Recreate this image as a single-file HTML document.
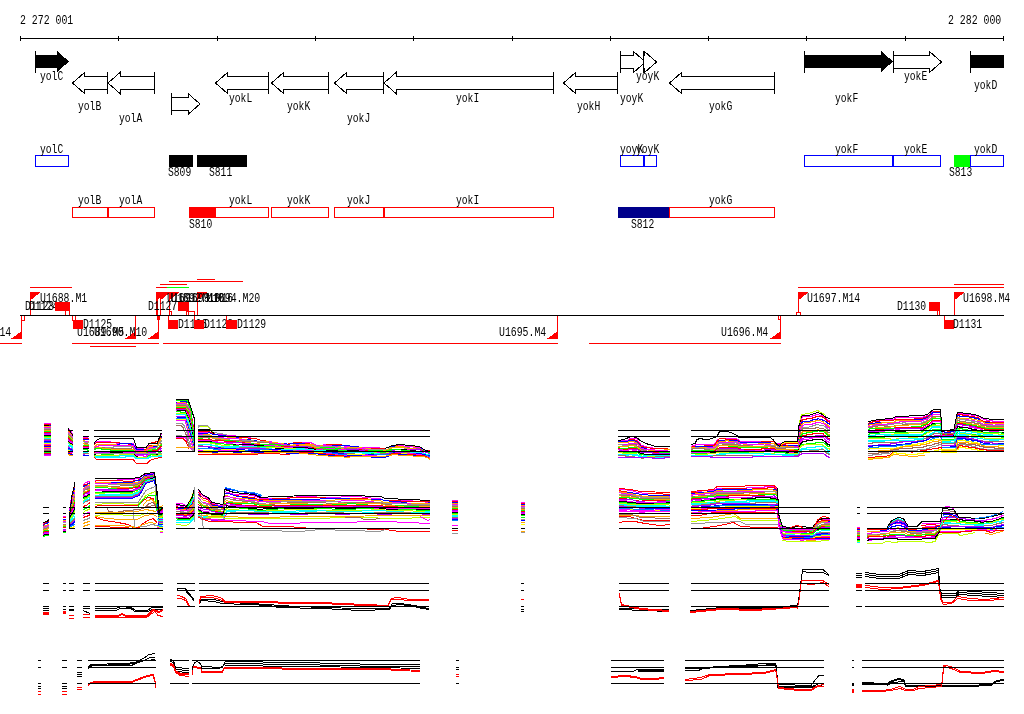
<!DOCTYPE html>
<html><head><meta charset="utf-8"><title>genome view</title>
<style>html,body{margin:0;padding:0;background:#fff;}svg{display:block;will-change:transform;}text{font-family:"Liberation Mono",monospace;font-size:12px;fill:#000;}</style></head><body>
<svg width="1024" height="714" viewBox="0 0 1024 714" shape-rendering="crispEdges">
<rect x="0" y="0" width="1024" height="714" fill="#fff"/>
<text x="20" y="24" textLength="53.2" lengthAdjust="spacingAndGlyphs">2 272 001</text>
<text x="948" y="24" textLength="53.2" lengthAdjust="spacingAndGlyphs">2 282 000</text>
<rect x="20" y="38" width="984" height="1" fill="#000"/>
<rect x="20" y="36" width="1" height="5" fill="#000"/>
<rect x="118" y="36" width="1" height="5" fill="#000"/>
<rect x="217" y="36" width="1" height="5" fill="#000"/>
<rect x="315" y="36" width="1" height="5" fill="#000"/>
<rect x="413" y="36" width="1" height="5" fill="#000"/>
<rect x="512" y="36" width="1" height="5" fill="#000"/>
<rect x="610" y="36" width="1" height="5" fill="#000"/>
<rect x="708" y="36" width="1" height="5" fill="#000"/>
<rect x="806" y="36" width="1" height="5" fill="#000"/>
<rect x="905" y="36" width="1" height="5" fill="#000"/>
<rect x="1003" y="36" width="1" height="5" fill="#000"/>
<polygon points="35,55 57,55 57,51 69,61.5 57,72 57,68 35,68" fill="#000"/>
<rect x="35" y="51" width="1" height="22" fill="#000"/>
<polygon points="107.5,76.5 84.5,76.5 84.5,72.5 72.5,83 84.5,93.5 84.5,89.5 107.5,89.5" fill="#fff" stroke="#000" stroke-width="1"/>
<rect x="107" y="72" width="1" height="22" fill="#000"/>
<polygon points="154.5,76.5 120,76.5 120,72.5 108,83 120,93.5 120,89.5 154.5,89.5" fill="#fff" stroke="#000" stroke-width="1"/>
<rect x="154" y="72" width="1" height="22" fill="#000"/>
<polygon points="171.5,97.5 188,97.5 188,93.5 200,104 188,114.5 188,110.5 171.5,110.5" fill="#fff" stroke="#000" stroke-width="1"/>
<rect x="171" y="93" width="1" height="22" fill="#000"/>
<polygon points="268.5,76.5 227.5,76.5 227.5,72.5 215.5,83 227.5,93.5 227.5,89.5 268.5,89.5" fill="#fff" stroke="#000" stroke-width="1"/>
<rect x="268" y="72" width="1" height="22" fill="#000"/>
<polygon points="328.5,76.5 283.5,76.5 283.5,72.5 271.5,83 283.5,93.5 283.5,89.5 328.5,89.5" fill="#fff" stroke="#000" stroke-width="1"/>
<rect x="328" y="72" width="1" height="22" fill="#000"/>
<polygon points="383.5,76.5 346.5,76.5 346.5,72.5 334.5,83 346.5,93.5 346.5,89.5 383.5,89.5" fill="#fff" stroke="#000" stroke-width="1"/>
<rect x="383" y="72" width="1" height="22" fill="#000"/>
<polygon points="553.5,76.5 396,76.5 396,72.5 384,83 396,93.5 396,89.5 553.5,89.5" fill="#fff" stroke="#000" stroke-width="1"/>
<rect x="553" y="72" width="1" height="22" fill="#000"/>
<polygon points="617.5,76.5 575.5,76.5 575.5,72.5 563.5,83 575.5,93.5 575.5,89.5 617.5,89.5" fill="#fff" stroke="#000" stroke-width="1"/>
<rect x="617" y="72" width="1" height="22" fill="#000"/>
<polygon points="620.5,55.5 633.5,55.5 633.5,51.5 645.5,62 633.5,72.5 633.5,68.5 620.5,68.5" fill="#fff" stroke="#000" stroke-width="1"/>
<rect x="620" y="51" width="1" height="22" fill="#000"/>
<polygon points="643.5,55.5 644.5,55.5 644.5,51.5 656.5,62 644.5,72.5 644.5,68.5 643.5,68.5" fill="#fff" stroke="#000" stroke-width="1"/>
<rect x="643" y="51" width="1" height="22" fill="#000"/>
<polygon points="774.5,76.5 681.5,76.5 681.5,72.5 669.5,83 681.5,93.5 681.5,89.5 774.5,89.5" fill="#fff" stroke="#000" stroke-width="1"/>
<rect x="774" y="72" width="1" height="22" fill="#000"/>
<polygon points="804,55 881,55 881,51 893,61.5 881,72 881,68 804,68" fill="#000"/>
<rect x="804" y="51" width="1" height="22" fill="#000"/>
<polygon points="893.5,55.5 929.5,55.5 929.5,51.5 941.5,62 929.5,72.5 929.5,68.5 893.5,68.5" fill="#fff" stroke="#000" stroke-width="1"/>
<rect x="893" y="51" width="1" height="22" fill="#000"/>
<rect x="970" y="51" width="1" height="22" fill="#000"/>
<rect x="970" y="55" width="34" height="13" fill="#000"/>
<text x="40" y="80" textLength="23.2" lengthAdjust="spacingAndGlyphs">yolC</text>
<text x="78" y="110" textLength="23.2" lengthAdjust="spacingAndGlyphs">yolB</text>
<text x="119" y="122" textLength="23.2" lengthAdjust="spacingAndGlyphs">yolA</text>
<text x="229" y="102" textLength="23.2" lengthAdjust="spacingAndGlyphs">yokL</text>
<text x="287" y="110" textLength="23.2" lengthAdjust="spacingAndGlyphs">yokK</text>
<text x="347" y="122" textLength="23.2" lengthAdjust="spacingAndGlyphs">yokJ</text>
<text x="456" y="102" textLength="23.2" lengthAdjust="spacingAndGlyphs">yokI</text>
<text x="577" y="110" textLength="23.2" lengthAdjust="spacingAndGlyphs">yokH</text>
<text x="636" y="80" textLength="23.2" lengthAdjust="spacingAndGlyphs">yoyK</text>
<text x="620" y="102" textLength="23.2" lengthAdjust="spacingAndGlyphs">yoyK</text>
<text x="709" y="110" textLength="23.2" lengthAdjust="spacingAndGlyphs">yokG</text>
<text x="835" y="102" textLength="23.2" lengthAdjust="spacingAndGlyphs">yokF</text>
<text x="904" y="80" textLength="23.2" lengthAdjust="spacingAndGlyphs">yokE</text>
<text x="974" y="89" textLength="23.2" lengthAdjust="spacingAndGlyphs">yokD</text>
<rect x="35.5" y="155.5" width="33" height="11" fill="#fff" stroke="#0000ff" stroke-width="1"/>
<rect x="620.5" y="155.5" width="23" height="11" fill="#fff" stroke="#0000ff" stroke-width="1"/>
<rect x="644.5" y="155.5" width="12" height="11" fill="#fff" stroke="#0000ff" stroke-width="1"/>
<rect x="804.5" y="155.5" width="88" height="11" fill="#fff" stroke="#0000ff" stroke-width="1"/>
<rect x="893.5" y="155.5" width="47" height="11" fill="#fff" stroke="#0000ff" stroke-width="1"/>
<rect x="970.5" y="155.5" width="33" height="11" fill="#fff" stroke="#0000ff" stroke-width="1"/>
<rect x="169" y="155" width="24" height="12" fill="#000"/>
<rect x="197" y="155" width="50" height="12" fill="#000"/>
<rect x="954" y="155" width="16" height="12" fill="#00ff00"/>
<text x="40" y="153" textLength="23.2" lengthAdjust="spacingAndGlyphs">yolC</text>
<text x="620" y="153" textLength="23.2" lengthAdjust="spacingAndGlyphs">yoyK</text>
<text x="636" y="153" textLength="23.2" lengthAdjust="spacingAndGlyphs">yoyK</text>
<text x="835" y="153" textLength="23.2" lengthAdjust="spacingAndGlyphs">yokF</text>
<text x="904" y="153" textLength="23.2" lengthAdjust="spacingAndGlyphs">yokE</text>
<text x="974" y="153" textLength="23.2" lengthAdjust="spacingAndGlyphs">yokD</text>
<text x="168" y="176" textLength="23.2" lengthAdjust="spacingAndGlyphs">S809</text>
<text x="209" y="176" textLength="23.2" lengthAdjust="spacingAndGlyphs">S811</text>
<text x="949" y="176" textLength="23.2" lengthAdjust="spacingAndGlyphs">S813</text>
<rect x="72.5" y="207.5" width="35" height="10" fill="#fff" stroke="#ff0000" stroke-width="1"/>
<rect x="108.5" y="207.5" width="46" height="10" fill="#fff" stroke="#ff0000" stroke-width="1"/>
<rect x="215.5" y="207.5" width="53" height="10" fill="#fff" stroke="#ff0000" stroke-width="1"/>
<rect x="271.5" y="207.5" width="57" height="10" fill="#fff" stroke="#ff0000" stroke-width="1"/>
<rect x="334.5" y="207.5" width="49" height="10" fill="#fff" stroke="#ff0000" stroke-width="1"/>
<rect x="384.5" y="207.5" width="169" height="10" fill="#fff" stroke="#ff0000" stroke-width="1"/>
<rect x="669.5" y="207.5" width="105" height="10" fill="#fff" stroke="#ff0000" stroke-width="1"/>
<rect x="189" y="207" width="27" height="11" fill="#ff0000"/>
<rect x="618" y="207" width="51" height="11" fill="#00008b"/>
<text x="78" y="204" textLength="23.2" lengthAdjust="spacingAndGlyphs">yolB</text>
<text x="119" y="204" textLength="23.2" lengthAdjust="spacingAndGlyphs">yolA</text>
<text x="229" y="204" textLength="23.2" lengthAdjust="spacingAndGlyphs">yokL</text>
<text x="287" y="204" textLength="23.2" lengthAdjust="spacingAndGlyphs">yokK</text>
<text x="347" y="204" textLength="23.2" lengthAdjust="spacingAndGlyphs">yokJ</text>
<text x="456" y="204" textLength="23.2" lengthAdjust="spacingAndGlyphs">yokI</text>
<text x="709" y="204" textLength="23.2" lengthAdjust="spacingAndGlyphs">yokG</text>
<text x="189" y="228" textLength="23.2" lengthAdjust="spacingAndGlyphs">S810</text>
<text x="631" y="228" textLength="23.2" lengthAdjust="spacingAndGlyphs">S812</text>
<rect x="30" y="287" width="42" height="1" fill="#ff0000"/>
<rect x="156" y="287" width="11" height="1" fill="#ff0000"/>
<rect x="167" y="287" width="22" height="1" fill="#00ff00"/>
<rect x="160" y="284" width="27" height="1" fill="#ff0000"/>
<rect x="169" y="281" width="74" height="1" fill="#ff0000"/>
<rect x="197" y="279" width="18" height="1" fill="#ff0000"/>
<rect x="798" y="287" width="206" height="1" fill="#ff0000"/>
<rect x="954" y="284" width="50" height="1" fill="#ff0000"/>
<rect x="0" y="343" width="22" height="1" fill="#ff0000"/>
<rect x="72" y="343" width="87" height="1" fill="#ff0000"/>
<rect x="90" y="346" width="46" height="1" fill="#ff0000"/>
<rect x="163" y="343" width="395" height="1" fill="#ff0000"/>
<rect x="589" y="343" width="192" height="1" fill="#ff0000"/>
<rect x="30" y="292" width="1" height="23" fill="#ff0000"/>
<polygon points="30,292 41,292 30,300.5" fill="#ff0000"/>
<rect x="156" y="292" width="1" height="23" fill="#ff0000"/>
<polygon points="156,292 167,292 156,300.5" fill="#ff0000"/>
<rect x="160" y="292" width="1" height="23" fill="#ff0000"/>
<polygon points="160,292 171,292 160,300.5" fill="#ff0000"/>
<rect x="169" y="292" width="1" height="23" fill="#ff0000"/>
<polygon points="169,292 180,292 169,300.5" fill="#ff0000"/>
<rect x="197" y="292" width="1" height="23" fill="#ff0000"/>
<polygon points="197,292 208,292 197,300.5" fill="#ff0000"/>
<rect x="798" y="292" width="1" height="23" fill="#ff0000"/>
<polygon points="798,292 809,292 798,300.5" fill="#ff0000"/>
<rect x="954" y="292" width="1" height="23" fill="#ff0000"/>
<polygon points="954,292 965,292 954,300.5" fill="#ff0000"/>
<rect x="157" y="292" width="1" height="28" fill="#ff0000"/>
<rect x="169.5" y="311.5" width="2" height="4" fill="#fff" stroke="#ff0000" stroke-width="1"/>
<rect x="796.5" y="312.5" width="4" height="3" fill="#fff" stroke="#ff0000" stroke-width="1"/>
<rect x="21" y="316" width="1" height="23" fill="#ff0000"/>
<polygon points="22,339 10.5,339 22,331" fill="#ff0000"/>
<rect x="135" y="316" width="1" height="23" fill="#ff0000"/>
<polygon points="136,339 124.5,339 136,331" fill="#ff0000"/>
<rect x="158" y="316" width="1" height="23" fill="#ff0000"/>
<polygon points="159,339 147.5,339 159,331" fill="#ff0000"/>
<rect x="557" y="316" width="1" height="23" fill="#ff0000"/>
<polygon points="558,339 546.5,339 558,331" fill="#ff0000"/>
<rect x="780" y="316" width="1" height="23" fill="#ff0000"/>
<polygon points="781,339 769.5,339 781,331" fill="#ff0000"/>
<rect x="21.5" y="315.5" width="3" height="5" fill="#fff" stroke="#ff0000" stroke-width="1"/>
<rect x="157" y="315" width="3" height="5" fill="#ff0000"/>
<rect x="778.5" y="315.5" width="2" height="4" fill="#fff" stroke="#ff0000" stroke-width="1"/>
<text x="40" y="302" textLength="47.2" lengthAdjust="spacingAndGlyphs">U1688.M1</text>
<text x="167" y="302" textLength="53.2" lengthAdjust="spacingAndGlyphs">U1691.M10</text>
<text x="171" y="302" textLength="53.2" lengthAdjust="spacingAndGlyphs">U1692.M10</text>
<text x="180" y="302" textLength="53.2" lengthAdjust="spacingAndGlyphs">U1693.M16</text>
<text x="207" y="302" textLength="53.2" lengthAdjust="spacingAndGlyphs">U1694.M20</text>
<text x="807" y="302" textLength="53.2" lengthAdjust="spacingAndGlyphs">U1697.M14</text>
<text x="963" y="302" textLength="47.2" lengthAdjust="spacingAndGlyphs">U1698.M4</text>
<text x="-42" y="336" textLength="53.2" lengthAdjust="spacingAndGlyphs">U1687.M14</text>
<text x="77" y="336" textLength="47.2" lengthAdjust="spacingAndGlyphs">U1689.M5</text>
<text x="94" y="336" textLength="53.2" lengthAdjust="spacingAndGlyphs">U1690.M10</text>
<text x="499" y="336" textLength="47.2" lengthAdjust="spacingAndGlyphs">U1695.M4</text>
<text x="721" y="336" textLength="47.2" lengthAdjust="spacingAndGlyphs">U1696.M4</text>
<text x="25" y="310" textLength="29.2" lengthAdjust="spacingAndGlyphs">D1123</text>
<text x="29" y="310" textLength="29.2" lengthAdjust="spacingAndGlyphs">D1124</text>
<rect x="55" y="302" width="15" height="9" fill="#ff0000"/>
<rect x="65.5" y="310.5" width="4" height="5" fill="#fff" stroke="#ff0000" stroke-width="1"/>
<text x="148" y="310" textLength="29.2" lengthAdjust="spacingAndGlyphs">D1127</text>
<rect x="178" y="302" width="11" height="9" fill="#ff0000"/>
<rect x="186.5" y="311.5" width="2" height="4" fill="#fff" stroke="#ff0000" stroke-width="1"/>
<rect x="188.5" y="311.5" width="6" height="4" fill="#fff" stroke="#ff0000" stroke-width="1"/>
<text x="897" y="310" textLength="29.2" lengthAdjust="spacingAndGlyphs">D1130</text>
<rect x="929" y="302" width="11" height="9" fill="#ff0000"/>
<rect x="937.5" y="310.5" width="2" height="5" fill="#fff" stroke="#ff0000" stroke-width="1"/>
<rect x="72.5" y="315.5" width="3" height="5" fill="#fff" stroke="#ff0000" stroke-width="1"/>
<rect x="73" y="320" width="10" height="9" fill="#ff0000"/>
<text x="83" y="328" textLength="29.2" lengthAdjust="spacingAndGlyphs">D1125</text>
<rect x="168" y="315" width="1" height="14" fill="#ff0000"/>
<text x="178" y="328" textLength="29.2" lengthAdjust="spacingAndGlyphs">D1126</text>
<rect x="168" y="320" width="10" height="9" fill="#ff0000"/>
<rect x="194" y="311" width="1" height="18" fill="#ff0000"/>
<text x="204" y="328" textLength="29.2" lengthAdjust="spacingAndGlyphs">D1128</text>
<rect x="194" y="320" width="10" height="9" fill="#ff0000"/>
<rect x="226" y="315" width="1" height="14" fill="#ff0000"/>
<text x="237" y="328" textLength="29.2" lengthAdjust="spacingAndGlyphs">D1129</text>
<rect x="226" y="320" width="11" height="9" fill="#ff0000"/>
<rect x="944" y="315" width="1" height="14" fill="#ff0000"/>
<rect x="944" y="320" width="10" height="9" fill="#ff0000"/>
<text x="953" y="328" textLength="29.2" lengthAdjust="spacingAndGlyphs">D1131</text>
<rect x="20" y="315" width="984" height="1" fill="#000"/>
<polyline points="44,423.5 47,423.5 50,423.5 51,423.5" fill="none" stroke="#ff00ff" stroke-width="1"/>
<polyline points="44,424.5 47,424.5 50,424.5 51,424.5" fill="none" stroke="#ff0000" stroke-width="1"/>
<polyline points="44,425.5 47,425.5 50,425.5 51,425.5" fill="none" stroke="#0000ff" stroke-width="1"/>
<polyline points="44,426.5 47,426.5 50,426.5 51,426.5" fill="none" stroke="#ffa500" stroke-width="1"/>
<polyline points="44,427.5 47,427.5 50,427.5 51,427.5" fill="none" stroke="#ff00ff" stroke-width="1"/>
<polyline points="44,428.5 47,428.5 50,428.5 51,428.5" fill="none" stroke="#969696" stroke-width="1"/>
<polyline points="44,429.5 47,429.5 50,429.5 51,429.5" fill="none" stroke="#a07060" stroke-width="1"/>
<polyline points="44,430.5 47,430.5 50,430.5 51,430.5" fill="none" stroke="#ffa500" stroke-width="1"/>
<polyline points="44,431.5 47,431.5 50,431.5 51,431.5" fill="none" stroke="#00ff00" stroke-width="1"/>
<polyline points="44,432.5 47,432.5 50,432.5 51,432.5" fill="none" stroke="#ff0000" stroke-width="1"/>
<polyline points="44,433.5 47,433.5 50,433.5 51,433.5" fill="none" stroke="#b000ff" stroke-width="1"/>
<polyline points="44,434.5 47,434.5 50,434.5 51,434.5" fill="none" stroke="#ff00ff" stroke-width="1"/>
<polyline points="44,435.5 47,435.5 50,435.5 51,435.5" fill="none" stroke="#000000" stroke-width="1"/>
<polyline points="44,436.5 47,436.5 50,436.5 51,436.5" fill="none" stroke="#00ff00" stroke-width="1"/>
<polyline points="44,437.5 47,437.5 50,437.5 51,437.5" fill="none" stroke="#c0ff00" stroke-width="1"/>
<polyline points="44,438.5 47,438.5 50,438.5 51,438.5" fill="none" stroke="#00ffff" stroke-width="1"/>
<polyline points="44,439.5 47,439.5 50,439.5 51,439.5" fill="none" stroke="#00ffff" stroke-width="1"/>
<polyline points="44,439.5 47,439.5 50,439.5 51,439.5" fill="none" stroke="#a07060" stroke-width="1"/>
<polyline points="44,440.5 47,440.5 50,440.5 51,440.5" fill="none" stroke="#b000ff" stroke-width="1"/>
<polyline points="44,441.5 47,441.5 50,441.5 51,441.5" fill="none" stroke="#0000ff" stroke-width="1"/>
<polyline points="44,442.5 47,442.5 50,442.5 51,442.5" fill="none" stroke="#0080ff" stroke-width="1"/>
<polyline points="44,443.5 47,443.5 50,443.5 51,443.5" fill="none" stroke="#ffff00" stroke-width="1"/>
<polyline points="44,444.5 47,444.5 50,444.5 51,444.5" fill="none" stroke="#ff00ff" stroke-width="1"/>
<polyline points="44,445.5 47,445.5 50,445.5 51,445.5" fill="none" stroke="#ff0000" stroke-width="1"/>
<polyline points="44,446.5 47,446.5 50,446.5 51,446.5" fill="none" stroke="#0000ff" stroke-width="1"/>
<polyline points="44,447.5 47,447.5 50,447.5 51,447.5" fill="none" stroke="#ffa500" stroke-width="1"/>
<polyline points="44,448.5 47,448.5 50,448.5 51,448.5" fill="none" stroke="#ff00ff" stroke-width="1"/>
<polyline points="44,449.5 47,449.5 50,449.5 51,449.5" fill="none" stroke="#969696" stroke-width="1"/>
<polyline points="44,450.5 47,450.5 50,450.5 51,450.5" fill="none" stroke="#a07060" stroke-width="1"/>
<polyline points="44,451.5 47,451.5 50,451.5 51,451.5" fill="none" stroke="#ffa500" stroke-width="1"/>
<polyline points="44,452.5 47,452.5 50,452.5 51,452.5" fill="none" stroke="#00ff00" stroke-width="1"/>
<polyline points="44,453.5 47,453.5 50,453.5 51,453.5" fill="none" stroke="#ff0000" stroke-width="1"/>
<polyline points="44,454.5 47,454.5 50,454.5 51,454.5" fill="none" stroke="#b000ff" stroke-width="1"/>
<polyline points="44,455.5 47,455.5 50,455.5 51,455.5" fill="none" stroke="#ff00ff" stroke-width="1"/>
<rect x="44" y="451" width="7" height="1" fill="#000"/>
<rect x="44" y="425" width="5" height="1" fill="#000"/>
<polyline points="68,428.5 71,431.5 73,434.5" fill="none" stroke="#ff00ff" stroke-width="1"/>
<polyline points="68,429.5 71,433.5 73,435.5" fill="none" stroke="#ff0000" stroke-width="1"/>
<polyline points="68,430.5 71,434.5 73,436.5" fill="none" stroke="#0000ff" stroke-width="1"/>
<polyline points="68,431.5 71,434.5 73,436.5" fill="none" stroke="#ffa500" stroke-width="1"/>
<polyline points="68,432.5 71,435.5 73,437.5" fill="none" stroke="#ff00ff" stroke-width="1"/>
<polyline points="68,433.5 71,436.5 73,438.5" fill="none" stroke="#969696" stroke-width="1"/>
<polyline points="68,434.5 71,437.5 73,439.5" fill="none" stroke="#a07060" stroke-width="1"/>
<polyline points="68,435.5 71,438.5 73,440.5" fill="none" stroke="#ffa500" stroke-width="1"/>
<polyline points="68,436.5 71,439.5 73,441.5" fill="none" stroke="#00ff00" stroke-width="1"/>
<polyline points="68,437.5 71,440.5 73,442.5" fill="none" stroke="#ff0000" stroke-width="1"/>
<polyline points="68,439.5 71,441.5 73,443.5" fill="none" stroke="#b000ff" stroke-width="1"/>
<polyline points="68,440.5 71,442.5 73,443.5" fill="none" stroke="#ff00ff" stroke-width="1"/>
<polyline points="68,441.5 71,443.5 73,444.5" fill="none" stroke="#000000" stroke-width="1"/>
<polyline points="68,442.5 71,444.5 73,445.5" fill="none" stroke="#00ff00" stroke-width="1"/>
<polyline points="68,442.5 71,444.5 73,446.5" fill="none" stroke="#c0ff00" stroke-width="1"/>
<polyline points="68,443.5 71,445.5 73,446.5" fill="none" stroke="#00ffff" stroke-width="1"/>
<polyline points="68,445.5 71,446.5 73,448.5" fill="none" stroke="#00ffff" stroke-width="1"/>
<polyline points="68,446.5 71,448.5 73,449.5" fill="none" stroke="#a07060" stroke-width="1"/>
<polyline points="68,447.5 71,448.5 73,449.5" fill="none" stroke="#b000ff" stroke-width="1"/>
<polyline points="68,448.5 71,449.5 73,450.5" fill="none" stroke="#0000ff" stroke-width="1"/>
<polyline points="68,449.5 71,450.5 73,451.5" fill="none" stroke="#0080ff" stroke-width="1"/>
<polyline points="68,450.5 71,451.5 73,452.5" fill="none" stroke="#ffff00" stroke-width="1"/>
<polyline points="68,451.5 71,452.5 73,452.5" fill="none" stroke="#ff00ff" stroke-width="1"/>
<polyline points="68,452.5 71,453.5 73,454.5" fill="none" stroke="#ff0000" stroke-width="1"/>
<polyline points="68,453.5 71,454.5 73,454.5" fill="none" stroke="#0000ff" stroke-width="1"/>
<polyline points="68,454.5 71,455.5 73,455.5" fill="none" stroke="#ffa500" stroke-width="1"/>
<rect x="68" y="430" width="5" height="1" fill="#000"/>
<rect x="68" y="451" width="5" height="1" fill="#000"/>
<polyline points="68,428.5 73,435.5" fill="none" stroke="#000" stroke-width="1"/>
<polyline points="83,437.5 86,437.5 89,438.5" fill="none" stroke="#ff00ff" stroke-width="1"/>
<polyline points="83,438.5 86,438.5 89,438.5" fill="none" stroke="#ff0000" stroke-width="1"/>
<polyline points="83,439.5 86,439.5 89,439.5" fill="none" stroke="#0000ff" stroke-width="1"/>
<polyline points="83,440.5 86,441.5 89,441.5" fill="none" stroke="#ffa500" stroke-width="1"/>
<polyline points="83,441.5 86,441.5 89,442.5" fill="none" stroke="#ff00ff" stroke-width="1"/>
<polyline points="83,441.5 86,442.5 89,442.5" fill="none" stroke="#969696" stroke-width="1"/>
<polyline points="83,443.5 86,443.5 89,444.5" fill="none" stroke="#a07060" stroke-width="1"/>
<polyline points="83,443.5 86,444.5 89,444.5" fill="none" stroke="#ffa500" stroke-width="1"/>
<polyline points="83,445.5 86,445.5 89,445.5" fill="none" stroke="#00ff00" stroke-width="1"/>
<polyline points="83,446.5 86,446.5 89,446.5" fill="none" stroke="#ff0000" stroke-width="1"/>
<polyline points="83,447.5 86,447.5 89,447.5" fill="none" stroke="#b000ff" stroke-width="1"/>
<polyline points="83,447.5 86,447.5 89,448.5" fill="none" stroke="#ff00ff" stroke-width="1"/>
<polyline points="83,448.5 86,448.5 89,448.5" fill="none" stroke="#000000" stroke-width="1"/>
<polyline points="83,449.5 86,449.5 89,450.5" fill="none" stroke="#00ff00" stroke-width="1"/>
<polyline points="83,451.5 86,451.5 89,451.5" fill="none" stroke="#c0ff00" stroke-width="1"/>
<polyline points="83,451.5 86,451.5 89,451.5" fill="none" stroke="#00ffff" stroke-width="1"/>
<polyline points="83,452.5 86,452.5 89,453.5" fill="none" stroke="#00ffff" stroke-width="1"/>
<polyline points="83,453.5 86,453.5 89,453.5" fill="none" stroke="#a07060" stroke-width="1"/>
<polyline points="83,454.5 86,455.5 89,455.5" fill="none" stroke="#b000ff" stroke-width="1"/>
<polyline points="83,455.5 86,455.5 89,455.5" fill="none" stroke="#0000ff" stroke-width="1"/>
<rect x="83" y="436" width="6" height="1" fill="#000"/>
<rect x="83" y="451" width="6" height="1" fill="#000"/>
<polyline points="94,443.5 97,441.5 100,441.5 103,441.5 106,441.5 109,441.5 112,442.5 115,442.5 118,443.5 121,443.5 124,443.5 127,443.5 130,443.5 133,443.5 136,447.5 136.5,448.5 139,448.5 142,448.5 145,447.5 146,447.5 147,446.5 148,445.5 149,443.5 150,443.5 151,443.5 154,443.5 157,443.5 160,436.5 161,434.5 162,434.5" fill="none" stroke="#ff00ff" stroke-width="1"/>
<polyline points="94,444.5 97,442.5 100,442.5 103,442.5 106,442.5 109,442.5 112,442.5 115,442.5 118,442.5 121,443.5 124,443.5 127,443.5 130,444.5 133,444.5 136,448.5 136.5,449.5 139,449.5 142,449.5 145,449.5 146,449.5 147,448.5 148,447.5 149,446.5 150,445.5 151,445.5 154,445.5 157,445.5 160,438.5 161,436.5 162,436.5" fill="none" stroke="#ff0000" stroke-width="1"/>
<polyline points="94,446.5 97,444.5 100,444.5 103,444.5 106,444.5 109,444.5 112,444.5 115,444.5 118,444.5 121,443.5 124,443.5 127,443.5 130,443.5 133,444.5 136,448.5 136.5,449.5 139,449.5 142,449.5 145,450.5 146,450.5 147,449.5 148,448.5 149,446.5 150,446.5 151,446.5 154,446.5 157,446.5 160,440.5 161,438.5 162,437.5" fill="none" stroke="#0000ff" stroke-width="1"/>
<polyline points="94,447.5 97,444.5 100,444.5 103,444.5 106,444.5 109,444.5 112,444.5 115,444.5 118,445.5 121,445.5 124,445.5 127,446.5 130,446.5 133,446.5 136,450.5 136.5,451.5 139,451.5 142,450.5 145,450.5 146,450.5 147,449.5 148,447.5 149,446.5 150,446.5 151,446.5 154,445.5 157,445.5 160,440.5 161,438.5 162,438.5" fill="none" stroke="#ffa500" stroke-width="1"/>
<polyline points="94,447.5 97,446.5 100,445.5 103,445.5 106,445.5 109,445.5 112,445.5 115,445.5 118,445.5 121,445.5 124,445.5 127,445.5 130,445.5 133,445.5 136,450.5 136.5,450.5 139,450.5 142,450.5 145,451.5 146,451.5 147,450.5 148,449.5 149,448.5 150,447.5 151,447.5 154,447.5 157,447.5 160,442.5 161,441.5 162,440.5" fill="none" stroke="#ff00ff" stroke-width="1"/>
<polyline points="94,448.5 97,447.5 100,447.5 103,447.5 106,447.5 109,447.5 112,447.5 115,446.5 118,446.5 121,446.5 124,446.5 127,446.5 130,446.5 133,447.5 136,451.5 136.5,452.5 139,452.5 142,452.5 145,452.5 146,452.5 147,451.5 148,450.5 149,449.5 150,449.5 151,448.5 154,448.5 157,447.5 160,442.5 161,441.5 162,440.5" fill="none" stroke="#969696" stroke-width="1"/>
<polyline points="94,448.5 97,447.5 100,447.5 103,447.5 106,448.5 109,448.5 112,448.5 115,448.5 118,448.5 121,448.5 124,448.5 127,448.5 130,448.5 133,447.5 136,451.5 136.5,451.5 139,451.5 142,451.5 145,451.5 146,452.5 147,451.5 148,450.5 149,449.5 150,449.5 151,449.5 154,449.5 157,449.5 160,445.5 161,443.5 162,443.5" fill="none" stroke="#a07060" stroke-width="1"/>
<polyline points="94,449.5 97,447.5 100,447.5 103,448.5 106,448.5 109,448.5 112,449.5 115,449.5 118,449.5 121,449.5 124,449.5 127,449.5 130,449.5 133,449.5 136,452.5 136.5,453.5 139,452.5 142,452.5 145,452.5 146,452.5 147,451.5 148,450.5 149,449.5 150,449.5 151,449.5 154,449.5 157,449.5 160,445.5 161,444.5 162,444.5" fill="none" stroke="#ffa500" stroke-width="1"/>
<polyline points="94,449.5 97,448.5 100,448.5 103,449.5 106,449.5 109,449.5 112,450.5 115,450.5 118,450.5 121,450.5 124,450.5 127,450.5 130,450.5 133,450.5 136,453.5 136.5,454.5 139,454.5 142,453.5 145,453.5 146,453.5 147,452.5 148,451.5 149,450.5 150,450.5 151,450.5 154,449.5 157,449.5 160,446.5 161,445.5 162,444.5" fill="none" stroke="#00ff00" stroke-width="1"/>
<polyline points="94,452.5 97,451.5 100,451.5 103,451.5 106,451.5 109,451.5 112,451.5 115,451.5 118,451.5 121,451.5 124,451.5 127,451.5 130,451.5 133,451.5 136,454.5 136.5,454.5 139,454.5 142,454.5 145,454.5 146,454.5 147,453.5 148,452.5 149,451.5 150,451.5 151,451.5 154,450.5 157,450.5 160,447.5 161,446.5 162,446.5" fill="none" stroke="#ff0000" stroke-width="1"/>
<polyline points="94,453.5 97,452.5 100,452.5 103,452.5 106,452.5 109,452.5 112,452.5 115,451.5 118,451.5 121,451.5 124,451.5 127,451.5 130,451.5 133,451.5 136,454.5 136.5,454.5 139,454.5 142,454.5 145,454.5 146,454.5 147,454.5 148,453.5 149,452.5 150,452.5 151,452.5 154,452.5 157,451.5 160,449.5 161,448.5 162,448.5" fill="none" stroke="#b000ff" stroke-width="1"/>
<polyline points="94,453.5 97,452.5 100,453.5 103,453.5 106,453.5 109,453.5 112,453.5 115,452.5 118,452.5 121,452.5 124,452.5 127,452.5 130,452.5 133,452.5 136,454.5 136.5,455.5 139,455.5 142,455.5 145,456.5 146,456.5 147,455.5 148,455.5 149,454.5 150,453.5 151,453.5 154,453.5 157,453.5 160,451.5 161,450.5 162,450.5" fill="none" stroke="#ff00ff" stroke-width="1"/>
<polyline points="94,454.5 97,453.5 100,453.5 103,453.5 106,453.5 109,453.5 112,452.5 115,452.5 118,452.5 121,452.5 124,453.5 127,453.5 130,453.5 133,453.5 136,456.5 136.5,456.5 139,457.5 142,457.5 145,457.5 146,457.5 147,457.5 148,456.5 149,455.5 150,455.5 151,454.5 154,454.5 157,454.5 160,452.5 161,451.5 162,451.5" fill="none" stroke="#000000" stroke-width="1"/>
<polyline points="94,455.5 97,455.5 100,455.5 103,454.5 106,454.5 109,454.5 112,454.5 115,453.5 118,453.5 121,453.5 124,454.5 127,454.5 130,454.5 133,455.5 136,457.5 136.5,458.5 139,458.5 142,458.5 145,458.5 146,458.5 147,457.5 148,456.5 149,455.5 150,455.5 151,454.5 154,454.5 157,453.5 160,452.5 161,451.5 162,451.5" fill="none" stroke="#00ff00" stroke-width="1"/>
<polyline points="94,456.5 97,455.5 100,455.5 103,455.5 106,455.5 109,455.5 112,455.5 115,455.5 118,455.5 121,454.5 124,454.5 127,454.5 130,454.5 133,454.5 136,457.5 136.5,457.5 139,457.5 142,457.5 145,457.5 146,458.5 147,457.5 148,457.5 149,456.5 150,456.5 151,456.5 154,455.5 157,455.5 160,454.5 161,454.5 162,454.5" fill="none" stroke="#c0ff00" stroke-width="1"/>
<polyline points="94,457.5 97,456.5 100,456.5 103,456.5 106,456.5 109,456.5 112,456.5 115,456.5 118,456.5 121,455.5 124,455.5 127,455.5 130,455.5 133,455.5 136,457.5 136.5,458.5 139,458.5 142,458.5 145,458.5 146,458.5 147,458.5 148,457.5 149,457.5 150,456.5 151,456.5 154,456.5 157,456.5 160,455.5 161,455.5 162,455.5" fill="none" stroke="#00ffff" stroke-width="1"/>
<polyline points="94,457.5 97,457.5 100,457.5 103,457.5 106,457.5 109,457.5 112,457.5 115,457.5 118,457.5 121,457.5 124,457.5 127,456.5 130,456.5 133,456.5 136,458.5 136.5,458.5 139,458.5 142,458.5 145,458.5 146,458.5 147,458.5 148,458.5 149,457.5 150,457.5 151,456.5 154,456.5 157,456.5 160,456.5 161,456.5 162,456.5" fill="none" stroke="#00ffff" stroke-width="1"/>
<polyline points="94,453.5 162,453.5" fill="none" stroke="#969696" stroke-width="1"/>
<polyline points="94,457.5 97,459.5 133,459.5 136.5,463.5 147,463.5 150,460.5 155,458.5 162,457.5" fill="none" stroke="#ff0000" stroke-width="1"/>
<polyline points="146,447.5 149,443.5 153,442.5 158,441.5" fill="none" stroke="#ff0000" stroke-width="1"/>
<rect x="94" y="451" width="68" height="1" fill="#000"/>
<polyline points="94,443.5 97.4,439.5 100,438.5 133.5,438.5 136.4,447.5 146.2,447.5 149,443.5 157,443.5 161,433.5 162,433.5" fill="none" stroke="#000" stroke-width="1"/>
<polyline points="176,399.5 179,399.5 182,399.5 185,399.5 188,399.5 189,402.5 190,405.5 191,411.5 194,430.5" fill="none" stroke="#ff00ff" stroke-width="1"/>
<polyline points="176,400.5 179,400.5 182,400.5 185,400.5 188,401.5 189,404.5 190,406.5 191,412.5 194,431.5" fill="none" stroke="#ff0000" stroke-width="1"/>
<polyline points="176,402.5 179,402.5 182,401.5 185,401.5 188,402.5 189,405.5 190,408.5 191,414.5 194,432.5" fill="none" stroke="#0000ff" stroke-width="1"/>
<polyline points="176,403.5 179,402.5 182,402.5 185,402.5 188,404.5 189,407.5 190,410.5 191,415.5 194,432.5" fill="none" stroke="#ffa500" stroke-width="1"/>
<polyline points="176,403.5 179,403.5 182,403.5 185,403.5 188,405.5 189,408.5 190,411.5 191,416.5 194,433.5" fill="none" stroke="#ff00ff" stroke-width="1"/>
<polyline points="176,404.5 179,404.5 182,404.5 185,404.5 188,407.5 189,410.5 190,412.5 191,418.5 194,434.5" fill="none" stroke="#969696" stroke-width="1"/>
<polyline points="176,405.5 179,405.5 182,405.5 185,405.5 188,408.5 189,411.5 190,414.5 191,420.5 194,436.5" fill="none" stroke="#a07060" stroke-width="1"/>
<polyline points="176,406.5 179,406.5 182,406.5 185,406.5 188,410.5 189,413.5 190,416.5 191,421.5 194,437.5" fill="none" stroke="#ffa500" stroke-width="1"/>
<polyline points="176,407.5 179,407.5 182,407.5 185,407.5 188,411.5 189,414.5 190,417.5 191,422.5 194,437.5" fill="none" stroke="#00ff00" stroke-width="1"/>
<polyline points="176,408.5 179,408.5 182,408.5 185,408.5 188,412.5 189,415.5 190,418.5 191,423.5 194,438.5" fill="none" stroke="#ff0000" stroke-width="1"/>
<polyline points="176,409.5 179,409.5 182,409.5 185,409.5 188,414.5 189,417.5 190,420.5 191,424.5 194,439.5" fill="none" stroke="#b000ff" stroke-width="1"/>
<polyline points="176,410.5 179,410.5 182,410.5 185,410.5 188,416.5 189,419.5 190,422.5 191,426.5 194,440.5" fill="none" stroke="#ff00ff" stroke-width="1"/>
<polyline points="176,411.5 179,410.5 182,410.5 185,410.5 188,417.5 189,420.5 190,423.5 191,427.5 194,441.5" fill="none" stroke="#000000" stroke-width="1"/>
<polyline points="176,411.5 179,411.5 182,412.5 185,412.5 188,418.5 189,422.5 190,425.5 191,429.5 194,442.5" fill="none" stroke="#00ff00" stroke-width="1"/>
<polyline points="176,413.5 179,413.5 182,413.5 185,413.5 188,420.5 189,423.5 190,426.5 191,430.5 194,443.5" fill="none" stroke="#c0ff00" stroke-width="1"/>
<polyline points="176,414.5 179,414.5 182,414.5 185,414.5 188,421.5 189,424.5 190,427.5 191,431.5 194,443.5" fill="none" stroke="#00ffff" stroke-width="1"/>
<polyline points="176,414.5 179,414.5 182,414.5 185,414.5 188,422.5 189,426.5 190,429.5 191,433.5 194,444.5" fill="none" stroke="#00ffff" stroke-width="1"/>
<polyline points="176,416.5 179,416.5 182,416.5 185,416.5 188,424.5 189,428.5 190,430.5 191,434.5 194,445.5" fill="none" stroke="#a07060" stroke-width="1"/>
<polyline points="176,416.5 179,416.5 182,416.5 185,416.5 188,425.5 189,429.5 190,432.5 191,435.5 194,446.5" fill="none" stroke="#b000ff" stroke-width="1"/>
<polyline points="176,418.5 179,417.5 182,417.5 185,417.5 188,427.5 189,430.5 190,433.5 191,437.5 194,447.5" fill="none" stroke="#0000ff" stroke-width="1"/>
<polyline points="176,418.5 179,418.5 182,418.5 185,418.5 188,428.5 189,432.5 190,435.5 191,438.5 194,448.5" fill="none" stroke="#0080ff" stroke-width="1"/>
<polyline points="176,419.5 179,419.5 182,419.5 185,419.5 188,429.5 189,433.5 190,436.5 191,439.5 194,449.5" fill="none" stroke="#ffff00" stroke-width="1"/>
<polyline points="176,420.5 179,420.5 182,420.5 185,420.5 188,431.5 189,435.5 190,438.5 191,441.5 194,450.5" fill="none" stroke="#ff00ff" stroke-width="1"/>
<polyline points="176,437.5 185,437.5 187,440.5 190,447.5 193,450.5" fill="none" stroke="#ff00ff" stroke-width="1"/>
<polyline points="176,438.5 183,438.5 186,441.5 189,448.5" fill="none" stroke="#ff0000" stroke-width="1"/>
<polyline points="176,423.5 182,423.5 184,425.5 187,432.5 190,445.5 194,450.5" fill="none" stroke="#969696" stroke-width="1"/>
<polyline points="176,425.5 181,425.5 183,427.5 186,434.5 189,446.5" fill="none" stroke="#a07060" stroke-width="1"/>
<polyline points="176,435.5 187,436.5 193,450.5" fill="none" stroke="#969696" stroke-width="1"/>
<polyline points="176,447.5 194,447.5" fill="none" stroke="#ffa500" stroke-width="1"/>
<polyline points="176,399.5 188,399.5 194,417.5 194,451.5" fill="none" stroke="#000" stroke-width="1"/>
<polyline points="176,400.5 187,400.5 191,410.5 194,440.5" fill="none" stroke="#00ff00" stroke-width="1"/>
<polyline points="198.4,432.5 201.4,432.5 204.4,432.5 207.4,432.5 209,432.5 210.4,432.5 213.2,433.5 213.4,433.5 216.4,434.5 219.4,434.5 222.4,434.5 225.4,434.5 226.6,435.5 228.4,435.5 231.4,435.5 234.4,435.5 237.4,436.5 240.4,436.5 243.4,436.5 246,437.5 246.4,437.5 249.4,437.5 252.4,438.5 255.4,438.5 258.4,439.5 261.4,440.5 263,440.5 264.4,440.5 267.4,441.5 270.4,441.5 273.4,442.5 276.4,442.5 279.4,443.5 282.4,443.5 285.4,444.5 287.7,444.5 288.4,444.5 291.4,443.5 294.4,442.5 297.4,442.5 300.4,442.5 303.4,442.5 306.4,442.5 309.4,442.5 310.8,442.5 312.4,443.5 315.4,444.5 317,445.5 318.4,445.5 321.4,445.5 324.4,444.5 327.4,444.5 329,444.5 330.4,444.5 333.4,445.5 336.4,445.5 339.4,445.5 341.4,445.5 342.4,445.5 345.4,446.5 346,446.5 348.4,446.5 351.4,446.5 354.4,446.5 356,446.5 357.4,446.5 360.4,447.5 363.4,447.5 365.8,447.5 366.4,447.5 369.4,447.5 372.4,447.5 375.4,447.5 378.4,447.5 381.4,448.5 384.4,448.5 385,448.5 385.3,448.5 387.4,447.5 390.4,446.5 392.6,445.5 393.4,445.5 396.4,445.5 399.4,445.5 400,445.5 402.4,445.5 405.4,446.5 408.4,446.5 411.4,446.5 414.4,446.5 417.4,447.5 419.5,447.5 420.4,447.5 423.4,449.5 424.4,450.5 425.6,450.5 426.4,450.5 429.4,450.5 430,450.5" fill="none" stroke="#ff00ff" stroke-width="1"/>
<polyline points="198.4,431.5 201.4,431.5 204.4,431.5 207.4,431.5 209,431.5 210.4,432.5 213.2,433.5 213.4,433.5 216.4,434.5 219.4,435.5 222.4,435.5 225.4,436.5 226.6,436.5 228.4,436.5 231.4,437.5 234.4,437.5 237.4,437.5 240.4,437.5 243.4,437.5 246,437.5 246.4,437.5 249.4,438.5 252.4,438.5 255.4,438.5 258.4,439.5 261.4,440.5 263,440.5 264.4,440.5 267.4,441.5 270.4,442.5 273.4,442.5 276.4,443.5 279.4,443.5 282.4,443.5 285.4,443.5 287.7,444.5 288.4,443.5 291.4,443.5 294.4,442.5 297.4,442.5 300.4,442.5 303.4,443.5 306.4,443.5 309.4,443.5 310.8,444.5 312.4,444.5 315.4,446.5 317,446.5 318.4,446.5 321.4,446.5 324.4,445.5 327.4,444.5 329,444.5 330.4,444.5 333.4,444.5 336.4,444.5 339.4,444.5 341.4,444.5 342.4,445.5 345.4,445.5 346,445.5 348.4,445.5 351.4,446.5 354.4,446.5 356,447.5 357.4,447.5 360.4,448.5 363.4,448.5 365.8,449.5 366.4,449.5 369.4,449.5 372.4,448.5 375.4,448.5 378.4,448.5 381.4,448.5 384.4,448.5 385,448.5 385.3,448.5 387.4,447.5 390.4,446.5 392.6,445.5 393.4,445.5 396.4,445.5 399.4,446.5 400,446.5 402.4,446.5 405.4,446.5 408.4,446.5 411.4,446.5 414.4,446.5 417.4,446.5 419.5,446.5 420.4,447.5 423.4,449.5 424.4,449.5 425.6,450.5 426.4,450.5 429.4,450.5 430,450.5" fill="none" stroke="#ff0000" stroke-width="1"/>
<polyline points="198.4,433.5 201.4,433.5 204.4,433.5 207.4,433.5 209,432.5 210.4,433.5 213.2,434.5 213.4,434.5 216.4,434.5 219.4,435.5 222.4,435.5 225.4,435.5 226.6,436.5 228.4,436.5 231.4,436.5 234.4,437.5 237.4,437.5 240.4,438.5 243.4,439.5 246,439.5 246.4,439.5 249.4,439.5 252.4,440.5 255.4,440.5 258.4,441.5 261.4,441.5 263,441.5 264.4,441.5 267.4,441.5 270.4,442.5 273.4,442.5 276.4,442.5 279.4,443.5 282.4,443.5 285.4,443.5 287.7,444.5 288.4,444.5 291.4,443.5 294.4,443.5 297.4,443.5 300.4,443.5 303.4,443.5 306.4,444.5 309.4,444.5 310.8,444.5 312.4,445.5 315.4,446.5 317,447.5 318.4,447.5 321.4,446.5 324.4,446.5 327.4,445.5 329,445.5 330.4,445.5 333.4,445.5 336.4,445.5 339.4,445.5 341.4,445.5 342.4,445.5 345.4,445.5 346,445.5 348.4,445.5 351.4,446.5 354.4,446.5 356,446.5 357.4,446.5 360.4,447.5 363.4,448.5 365.8,448.5 366.4,448.5 369.4,449.5 372.4,449.5 375.4,449.5 378.4,449.5 381.4,449.5 384.4,450.5 385,450.5 385.3,450.5 387.4,449.5 390.4,447.5 392.6,446.5 393.4,446.5 396.4,446.5 399.4,446.5 400,446.5 402.4,446.5 405.4,446.5 408.4,446.5 411.4,446.5 414.4,446.5 417.4,446.5 419.5,446.5 420.4,447.5 423.4,449.5 424.4,449.5 425.6,450.5 426.4,450.5 429.4,451.5 430,451.5" fill="none" stroke="#0000ff" stroke-width="1"/>
<polyline points="198.4,434.5 201.4,434.5 204.4,434.5 207.4,434.5 209,434.5 210.4,435.5 213.2,436.5 213.4,436.5 216.4,436.5 219.4,436.5 222.4,436.5 225.4,436.5 226.6,436.5 228.4,437.5 231.4,437.5 234.4,437.5 237.4,438.5 240.4,438.5 243.4,439.5 246,439.5 246.4,440.5 249.4,440.5 252.4,441.5 255.4,441.5 258.4,441.5 261.4,441.5 263,441.5 264.4,441.5 267.4,441.5 270.4,442.5 273.4,442.5 276.4,442.5 279.4,443.5 282.4,443.5 285.4,444.5 287.7,445.5 288.4,445.5 291.4,445.5 294.4,444.5 297.4,444.5 300.4,444.5 303.4,444.5 306.4,444.5 309.4,444.5 310.8,444.5 312.4,444.5 315.4,445.5 317,446.5 318.4,446.5 321.4,445.5 324.4,445.5 327.4,445.5 329,445.5 330.4,445.5 333.4,446.5 336.4,446.5 339.4,446.5 341.4,447.5 342.4,447.5 345.4,447.5 346,447.5 348.4,447.5 351.4,447.5 354.4,447.5 356,447.5 357.4,447.5 360.4,447.5 363.4,448.5 365.8,448.5 366.4,448.5 369.4,448.5 372.4,449.5 375.4,449.5 378.4,449.5 381.4,450.5 384.4,450.5 385,450.5 385.3,450.5 387.4,449.5 390.4,448.5 392.6,447.5 393.4,447.5 396.4,446.5 399.4,446.5 400,446.5 402.4,446.5 405.4,446.5 408.4,446.5 411.4,446.5 414.4,446.5 417.4,447.5 419.5,447.5 420.4,448.5 423.4,450.5 424.4,451.5 425.6,451.5 426.4,452.5 429.4,452.5 430,452.5" fill="none" stroke="#ffa500" stroke-width="1"/>
<polyline points="198.4,434.5 201.4,434.5 204.4,435.5 207.4,435.5 209,435.5 210.4,436.5 213.2,437.5 213.4,437.5 216.4,437.5 219.4,437.5 222.4,437.5 225.4,438.5 226.6,438.5 228.4,438.5 231.4,438.5 234.4,438.5 237.4,438.5 240.4,439.5 243.4,439.5 246,440.5 246.4,440.5 249.4,440.5 252.4,441.5 255.4,441.5 258.4,442.5 261.4,442.5 263,442.5 264.4,442.5 267.4,442.5 270.4,442.5 273.4,443.5 276.4,443.5 279.4,443.5 282.4,444.5 285.4,444.5 287.7,445.5 288.4,445.5 291.4,445.5 294.4,445.5 297.4,444.5 300.4,445.5 303.4,445.5 306.4,445.5 309.4,445.5 310.8,445.5 312.4,445.5 315.4,446.5 317,446.5 318.4,446.5 321.4,446.5 324.4,445.5 327.4,445.5 329,445.5 330.4,445.5 333.4,446.5 336.4,446.5 339.4,447.5 341.4,447.5 342.4,447.5 345.4,447.5 346,447.5 348.4,448.5 351.4,448.5 354.4,448.5 356,448.5 357.4,448.5 360.4,448.5 363.4,448.5 365.8,449.5 366.4,449.5 369.4,449.5 372.4,449.5 375.4,449.5 378.4,449.5 381.4,450.5 384.4,450.5 385,450.5 385.3,450.5 387.4,449.5 390.4,448.5 392.6,447.5 393.4,447.5 396.4,447.5 399.4,447.5 400,447.5 402.4,447.5 405.4,446.5 408.4,446.5 411.4,446.5 414.4,447.5 417.4,447.5 419.5,447.5 420.4,448.5 423.4,450.5 424.4,450.5 425.6,451.5 426.4,452.5 429.4,452.5 430,452.5" fill="none" stroke="#ff00ff" stroke-width="1"/>
<polyline points="198.4,435.5 201.4,435.5 204.4,435.5 207.4,435.5 209,435.5 210.4,436.5 213.2,437.5 213.4,437.5 216.4,437.5 219.4,438.5 222.4,438.5 225.4,439.5 226.6,439.5 228.4,439.5 231.4,440.5 234.4,440.5 237.4,440.5 240.4,440.5 243.4,440.5 246,440.5 246.4,440.5 249.4,440.5 252.4,440.5 255.4,441.5 258.4,441.5 261.4,441.5 263,441.5 264.4,442.5 267.4,442.5 270.4,443.5 273.4,443.5 276.4,444.5 279.4,445.5 282.4,445.5 285.4,446.5 287.7,446.5 288.4,446.5 291.4,446.5 294.4,445.5 297.4,445.5 300.4,445.5 303.4,445.5 306.4,445.5 309.4,445.5 310.8,445.5 312.4,445.5 315.4,446.5 317,446.5 318.4,446.5 321.4,446.5 324.4,446.5 327.4,446.5 329,446.5 330.4,446.5 333.4,446.5 336.4,447.5 339.4,447.5 341.4,447.5 342.4,447.5 345.4,448.5 346,448.5 348.4,448.5 351.4,448.5 354.4,448.5 356,448.5 357.4,449.5 360.4,449.5 363.4,449.5 365.8,450.5 366.4,450.5 369.4,449.5 372.4,449.5 375.4,449.5 378.4,449.5 381.4,449.5 384.4,449.5 385,449.5 385.3,449.5 387.4,449.5 390.4,447.5 392.6,447.5 393.4,447.5 396.4,447.5 399.4,447.5 400,447.5 402.4,447.5 405.4,448.5 408.4,448.5 411.4,448.5 414.4,448.5 417.4,448.5 419.5,448.5 420.4,449.5 423.4,450.5 424.4,451.5 425.6,452.5 426.4,452.5 429.4,452.5 430,452.5" fill="none" stroke="#969696" stroke-width="1"/>
<polyline points="198.4,437.5 201.4,437.5 204.4,437.5 207.4,437.5 209,437.5 210.4,437.5 213.2,438.5 213.4,438.5 216.4,439.5 219.4,439.5 222.4,439.5 225.4,439.5 226.6,440.5 228.4,440.5 231.4,440.5 234.4,440.5 237.4,440.5 240.4,440.5 243.4,441.5 246,441.5 246.4,441.5 249.4,441.5 252.4,441.5 255.4,441.5 258.4,442.5 261.4,442.5 263,442.5 264.4,442.5 267.4,442.5 270.4,443.5 273.4,443.5 276.4,444.5 279.4,444.5 282.4,445.5 285.4,445.5 287.7,445.5 288.4,445.5 291.4,445.5 294.4,445.5 297.4,445.5 300.4,445.5 303.4,445.5 306.4,445.5 309.4,446.5 310.8,446.5 312.4,446.5 315.4,447.5 317,448.5 318.4,448.5 321.4,448.5 324.4,448.5 327.4,447.5 329,447.5 330.4,447.5 333.4,447.5 336.4,448.5 339.4,448.5 341.4,448.5 342.4,448.5 345.4,448.5 346,448.5 348.4,448.5 351.4,448.5 354.4,448.5 356,448.5 357.4,449.5 360.4,449.5 363.4,449.5 365.8,450.5 366.4,450.5 369.4,450.5 372.4,450.5 375.4,450.5 378.4,450.5 381.4,450.5 384.4,450.5 385,450.5 385.3,450.5 387.4,449.5 390.4,448.5 392.6,447.5 393.4,447.5 396.4,447.5 399.4,447.5 400,447.5 402.4,447.5 405.4,447.5 408.4,447.5 411.4,448.5 414.4,448.5 417.4,448.5 419.5,448.5 420.4,449.5 423.4,451.5 424.4,451.5 425.6,452.5 426.4,452.5 429.4,453.5 430,453.5" fill="none" stroke="#a07060" stroke-width="1"/>
<polyline points="198.4,437.5 201.4,436.5 204.4,436.5 207.4,436.5 209,436.5 210.4,437.5 213.2,438.5 213.4,438.5 216.4,438.5 219.4,438.5 222.4,439.5 225.4,439.5 226.6,439.5 228.4,440.5 231.4,440.5 234.4,441.5 237.4,441.5 240.4,441.5 243.4,442.5 246,442.5 246.4,442.5 249.4,442.5 252.4,443.5 255.4,443.5 258.4,443.5 261.4,444.5 263,444.5 264.4,444.5 267.4,444.5 270.4,444.5 273.4,445.5 276.4,445.5 279.4,445.5 282.4,445.5 285.4,446.5 287.7,446.5 288.4,446.5 291.4,445.5 294.4,445.5 297.4,445.5 300.4,445.5 303.4,445.5 306.4,445.5 309.4,445.5 310.8,445.5 312.4,446.5 315.4,447.5 317,447.5 318.4,447.5 321.4,447.5 324.4,447.5 327.4,447.5 329,447.5 330.4,447.5 333.4,447.5 336.4,448.5 339.4,448.5 341.4,448.5 342.4,448.5 345.4,449.5 346,449.5 348.4,449.5 351.4,449.5 354.4,449.5 356,449.5 357.4,450.5 360.4,450.5 363.4,450.5 365.8,451.5 366.4,451.5 369.4,451.5 372.4,450.5 375.4,450.5 378.4,450.5 381.4,450.5 384.4,450.5 385,450.5 385.3,450.5 387.4,449.5 390.4,448.5 392.6,447.5 393.4,447.5 396.4,447.5 399.4,447.5 400,447.5 402.4,447.5 405.4,447.5 408.4,448.5 411.4,448.5 414.4,448.5 417.4,449.5 419.5,449.5 420.4,449.5 423.4,451.5 424.4,451.5 425.6,452.5 426.4,452.5 429.4,453.5 430,453.5" fill="none" stroke="#ffa500" stroke-width="1"/>
<polyline points="198.4,438.5 201.4,438.5 204.4,439.5 207.4,439.5 209,438.5 210.4,439.5 213.2,440.5 213.4,440.5 216.4,440.5 219.4,440.5 222.4,440.5 225.4,440.5 226.6,440.5 228.4,440.5 231.4,440.5 234.4,441.5 237.4,441.5 240.4,442.5 243.4,442.5 246,443.5 246.4,443.5 249.4,443.5 252.4,443.5 255.4,444.5 258.4,444.5 261.4,444.5 263,444.5 264.4,444.5 267.4,444.5 270.4,444.5 273.4,444.5 276.4,444.5 279.4,445.5 282.4,445.5 285.4,446.5 287.7,446.5 288.4,446.5 291.4,446.5 294.4,446.5 297.4,446.5 300.4,446.5 303.4,447.5 306.4,447.5 309.4,447.5 310.8,447.5 312.4,447.5 315.4,448.5 317,448.5 318.4,448.5 321.4,447.5 324.4,447.5 327.4,447.5 329,447.5 330.4,447.5 333.4,447.5 336.4,448.5 339.4,448.5 341.4,449.5 342.4,449.5 345.4,449.5 346,449.5 348.4,449.5 351.4,450.5 354.4,450.5 356,450.5 357.4,450.5 360.4,450.5 363.4,450.5 365.8,450.5 366.4,450.5 369.4,450.5 372.4,450.5 375.4,450.5 378.4,450.5 381.4,450.5 384.4,451.5 385,451.5 385.3,451.5 387.4,450.5 390.4,449.5 392.6,449.5 393.4,449.5 396.4,449.5 399.4,449.5 400,449.5 402.4,449.5 405.4,449.5 408.4,449.5 411.4,449.5 414.4,449.5 417.4,449.5 419.5,449.5 420.4,449.5 423.4,450.5 424.4,451.5 425.6,452.5 426.4,452.5 429.4,452.5 430,453.5" fill="none" stroke="#00ff00" stroke-width="1"/>
<polyline points="198.4,439.5 201.4,439.5 204.4,439.5 207.4,439.5 209,439.5 210.4,439.5 213.2,440.5 213.4,440.5 216.4,440.5 219.4,440.5 222.4,440.5 225.4,441.5 226.6,441.5 228.4,441.5 231.4,441.5 234.4,441.5 237.4,442.5 240.4,442.5 243.4,442.5 246,443.5 246.4,443.5 249.4,443.5 252.4,444.5 255.4,444.5 258.4,444.5 261.4,445.5 263,445.5 264.4,445.5 267.4,445.5 270.4,445.5 273.4,446.5 276.4,446.5 279.4,446.5 282.4,446.5 285.4,446.5 287.7,446.5 288.4,446.5 291.4,446.5 294.4,446.5 297.4,445.5 300.4,446.5 303.4,446.5 306.4,446.5 309.4,447.5 310.8,447.5 312.4,447.5 315.4,448.5 317,449.5 318.4,449.5 321.4,449.5 324.4,449.5 327.4,449.5 329,448.5 330.4,449.5 333.4,449.5 336.4,449.5 339.4,449.5 341.4,449.5 342.4,449.5 345.4,449.5 346,449.5 348.4,449.5 351.4,449.5 354.4,449.5 356,449.5 357.4,449.5 360.4,449.5 363.4,450.5 365.8,450.5 366.4,450.5 369.4,451.5 372.4,451.5 375.4,451.5 378.4,451.5 381.4,452.5 384.4,452.5 385,452.5 385.3,452.5 387.4,451.5 390.4,450.5 392.6,449.5 393.4,449.5 396.4,449.5 399.4,449.5 400,449.5 402.4,449.5 405.4,449.5 408.4,449.5 411.4,449.5 414.4,449.5 417.4,449.5 419.5,449.5 420.4,449.5 423.4,451.5 424.4,451.5 425.6,452.5 426.4,452.5 429.4,453.5 430,453.5" fill="none" stroke="#ff0000" stroke-width="1"/>
<polyline points="198.4,440.5 201.4,440.5 204.4,440.5 207.4,440.5 209,440.5 210.4,441.5 213.2,441.5 213.4,441.5 216.4,442.5 219.4,442.5 222.4,442.5 225.4,442.5 226.6,442.5 228.4,442.5 231.4,442.5 234.4,442.5 237.4,442.5 240.4,442.5 243.4,443.5 246,443.5 246.4,443.5 249.4,443.5 252.4,444.5 255.4,444.5 258.4,445.5 261.4,445.5 263,445.5 264.4,445.5 267.4,446.5 270.4,446.5 273.4,446.5 276.4,446.5 279.4,447.5 282.4,447.5 285.4,447.5 287.7,447.5 288.4,447.5 291.4,446.5 294.4,446.5 297.4,446.5 300.4,446.5 303.4,446.5 306.4,446.5 309.4,447.5 310.8,447.5 312.4,448.5 315.4,449.5 317,449.5 318.4,449.5 321.4,449.5 324.4,449.5 327.4,449.5 329,449.5 330.4,449.5 333.4,449.5 336.4,449.5 339.4,449.5 341.4,449.5 342.4,449.5 345.4,449.5 346,449.5 348.4,449.5 351.4,449.5 354.4,449.5 356,449.5 357.4,449.5 360.4,450.5 363.4,450.5 365.8,451.5 366.4,451.5 369.4,451.5 372.4,451.5 375.4,452.5 378.4,452.5 381.4,452.5 384.4,452.5 385,452.5 385.3,452.5 387.4,452.5 390.4,450.5 392.6,450.5 393.4,450.5 396.4,449.5 399.4,449.5 400,449.5 402.4,449.5 405.4,449.5 408.4,449.5 411.4,449.5 414.4,449.5 417.4,449.5 419.5,449.5 420.4,450.5 423.4,451.5 424.4,451.5 425.6,452.5 426.4,452.5 429.4,453.5 430,453.5" fill="none" stroke="#b000ff" stroke-width="1"/>
<polyline points="198.4,440.5 201.4,440.5 204.4,440.5 207.4,440.5 209,440.5 210.4,440.5 213.2,441.5 213.4,441.5 216.4,441.5 219.4,442.5 222.4,442.5 225.4,442.5 226.6,443.5 228.4,443.5 231.4,443.5 234.4,444.5 237.4,444.5 240.4,444.5 243.4,445.5 246,445.5 246.4,445.5 249.4,445.5 252.4,445.5 255.4,445.5 258.4,445.5 261.4,445.5 263,445.5 264.4,445.5 267.4,445.5 270.4,445.5 273.4,445.5 276.4,446.5 279.4,446.5 282.4,447.5 285.4,447.5 287.7,447.5 288.4,447.5 291.4,447.5 294.4,448.5 297.4,447.5 300.4,448.5 303.4,448.5 306.4,448.5 309.4,448.5 310.8,448.5 312.4,449.5 315.4,449.5 317,449.5 318.4,449.5 321.4,449.5 324.4,449.5 327.4,448.5 329,448.5 330.4,448.5 333.4,448.5 336.4,449.5 339.4,449.5 341.4,449.5 342.4,449.5 345.4,449.5 346,450.5 348.4,450.5 351.4,450.5 354.4,451.5 356,451.5 357.4,451.5 360.4,452.5 363.4,452.5 365.8,452.5 366.4,452.5 369.4,452.5 372.4,452.5 375.4,452.5 378.4,452.5 381.4,452.5 384.4,452.5 385,452.5 385.3,452.5 387.4,451.5 390.4,450.5 392.6,449.5 393.4,449.5 396.4,449.5 399.4,449.5 400,449.5 402.4,449.5 405.4,449.5 408.4,449.5 411.4,450.5 414.4,450.5 417.4,451.5 419.5,451.5 420.4,451.5 423.4,452.5 424.4,453.5 425.6,454.5 426.4,454.5 429.4,454.5 430,454.5" fill="none" stroke="#ff00ff" stroke-width="1"/>
<polyline points="198.4,441.5 201.4,441.5 204.4,441.5 207.4,441.5 209,441.5 210.4,441.5 213.2,442.5 213.4,442.5 216.4,443.5 219.4,443.5 222.4,443.5 225.4,444.5 226.6,444.5 228.4,444.5 231.4,444.5 234.4,444.5 237.4,445.5 240.4,444.5 243.4,444.5 246,444.5 246.4,444.5 249.4,444.5 252.4,444.5 255.4,445.5 258.4,445.5 261.4,445.5 263,445.5 264.4,446.5 267.4,446.5 270.4,447.5 273.4,447.5 276.4,448.5 279.4,448.5 282.4,448.5 285.4,448.5 287.7,448.5 288.4,448.5 291.4,448.5 294.4,447.5 297.4,447.5 300.4,447.5 303.4,447.5 306.4,447.5 309.4,448.5 310.8,448.5 312.4,448.5 315.4,449.5 317,450.5 318.4,450.5 321.4,450.5 324.4,450.5 327.4,450.5 329,450.5 330.4,450.5 333.4,450.5 336.4,450.5 339.4,450.5 341.4,450.5 342.4,450.5 345.4,450.5 346,450.5 348.4,450.5 351.4,450.5 354.4,450.5 356,450.5 357.4,450.5 360.4,451.5 363.4,452.5 365.8,452.5 366.4,452.5 369.4,452.5 372.4,453.5 375.4,453.5 378.4,453.5 381.4,453.5 384.4,453.5 385,453.5 385.3,453.5 387.4,452.5 390.4,450.5 392.6,449.5 393.4,449.5 396.4,449.5 399.4,449.5 400,449.5 402.4,449.5 405.4,449.5 408.4,450.5 411.4,450.5 414.4,450.5 417.4,451.5 419.5,451.5 420.4,452.5 423.4,453.5 424.4,453.5 425.6,454.5 426.4,454.5 429.4,455.5 430,455.5" fill="none" stroke="#000000" stroke-width="1"/>
<polyline points="198.4,442.5 201.4,442.5 204.4,442.5 207.4,442.5 209,442.5 210.4,442.5 213.2,442.5 213.4,442.5 216.4,443.5 219.4,443.5 222.4,443.5 225.4,444.5 226.6,444.5 228.4,444.5 231.4,444.5 234.4,445.5 237.4,445.5 240.4,446.5 243.4,446.5 246,446.5 246.4,446.5 249.4,446.5 252.4,446.5 255.4,446.5 258.4,446.5 261.4,446.5 263,446.5 264.4,446.5 267.4,446.5 270.4,446.5 273.4,446.5 276.4,447.5 279.4,447.5 282.4,447.5 285.4,448.5 287.7,448.5 288.4,448.5 291.4,448.5 294.4,448.5 297.4,448.5 300.4,449.5 303.4,449.5 306.4,449.5 309.4,449.5 310.8,449.5 312.4,449.5 315.4,450.5 317,450.5 318.4,450.5 321.4,450.5 324.4,449.5 327.4,449.5 329,449.5 330.4,449.5 333.4,449.5 336.4,449.5 339.4,450.5 341.4,450.5 342.4,450.5 345.4,450.5 346,450.5 348.4,451.5 351.4,451.5 354.4,451.5 356,452.5 357.4,452.5 360.4,452.5 363.4,453.5 365.8,453.5 366.4,453.5 369.4,453.5 372.4,453.5 375.4,453.5 378.4,453.5 381.4,452.5 384.4,452.5 385,452.5 385.3,452.5 387.4,451.5 390.4,450.5 392.6,449.5 393.4,449.5 396.4,449.5 399.4,449.5 400,449.5 402.4,450.5 405.4,450.5 408.4,450.5 411.4,451.5 414.4,451.5 417.4,451.5 419.5,452.5 420.4,452.5 423.4,453.5 424.4,453.5 425.6,454.5 426.4,454.5 429.4,455.5 430,455.5" fill="none" stroke="#00ff00" stroke-width="1"/>
<polyline points="198.4,442.5 201.4,442.5 204.4,442.5 207.4,442.5 209,442.5 210.4,443.5 213.2,443.5 213.4,443.5 216.4,444.5 219.4,444.5 222.4,445.5 225.4,445.5 226.6,445.5 228.4,445.5 231.4,446.5 234.4,446.5 237.4,446.5 240.4,446.5 243.4,446.5 246,447.5 246.4,447.5 249.4,447.5 252.4,447.5 255.4,447.5 258.4,447.5 261.4,447.5 263,447.5 264.4,447.5 267.4,447.5 270.4,447.5 273.4,447.5 276.4,447.5 279.4,447.5 282.4,447.5 285.4,448.5 287.7,448.5 288.4,448.5 291.4,448.5 294.4,448.5 297.4,448.5 300.4,448.5 303.4,449.5 306.4,449.5 309.4,449.5 310.8,449.5 312.4,450.5 315.4,451.5 317,451.5 318.4,451.5 321.4,451.5 324.4,451.5 327.4,451.5 329,451.5 330.4,451.5 333.4,451.5 336.4,451.5 339.4,451.5 341.4,451.5 342.4,451.5 345.4,451.5 346,451.5 348.4,451.5 351.4,451.5 354.4,451.5 356,451.5 357.4,451.5 360.4,451.5 363.4,452.5 365.8,452.5 366.4,452.5 369.4,452.5 372.4,452.5 375.4,452.5 378.4,453.5 381.4,453.5 384.4,453.5 385,453.5 385.3,453.5 387.4,452.5 390.4,452.5 392.6,451.5 393.4,451.5 396.4,451.5 399.4,451.5 400,451.5 402.4,451.5 405.4,451.5 408.4,452.5 411.4,452.5 414.4,452.5 417.4,452.5 419.5,452.5 420.4,452.5 423.4,453.5 424.4,453.5 425.6,454.5 426.4,454.5 429.4,454.5 430,454.5" fill="none" stroke="#c0ff00" stroke-width="1"/>
<polyline points="198.4,444.5 201.4,444.5 204.4,444.5 207.4,444.5 209,444.5 210.4,445.5 213.2,445.5 213.4,445.5 216.4,446.5 219.4,446.5 222.4,446.5 225.4,446.5 226.6,446.5 228.4,446.5 231.4,446.5 234.4,446.5 237.4,446.5 240.4,446.5 243.4,446.5 246,446.5 246.4,446.5 249.4,446.5 252.4,446.5 255.4,446.5 258.4,447.5 261.4,447.5 263,447.5 264.4,447.5 267.4,448.5 270.4,448.5 273.4,449.5 276.4,449.5 279.4,449.5 282.4,449.5 285.4,449.5 287.7,449.5 288.4,449.5 291.4,449.5 294.4,449.5 297.4,448.5 300.4,448.5 303.4,448.5 306.4,449.5 309.4,449.5 310.8,449.5 312.4,449.5 315.4,450.5 317,450.5 318.4,450.5 321.4,450.5 324.4,450.5 327.4,451.5 329,451.5 330.4,451.5 333.4,451.5 336.4,452.5 339.4,452.5 341.4,452.5 342.4,452.5 345.4,452.5 346,452.5 348.4,452.5 351.4,452.5 354.4,452.5 356,452.5 357.4,452.5 360.4,452.5 363.4,452.5 365.8,452.5 366.4,452.5 369.4,452.5 372.4,452.5 375.4,453.5 378.4,453.5 381.4,453.5 384.4,453.5 385,453.5 385.3,453.5 387.4,453.5 390.4,452.5 392.6,451.5 393.4,451.5 396.4,451.5 399.4,452.5 400,452.5 402.4,452.5 405.4,452.5 408.4,452.5 411.4,452.5 414.4,452.5 417.4,452.5 419.5,452.5 420.4,452.5 423.4,453.5 424.4,453.5 425.6,453.5 426.4,454.5 429.4,454.5 430,454.5" fill="none" stroke="#00ffff" stroke-width="1"/>
<polyline points="198.4,445.5 201.4,444.5 204.4,444.5 207.4,444.5 209,444.5 210.4,444.5 213.2,445.5 213.4,445.5 216.4,445.5 219.4,446.5 222.4,446.5 225.4,447.5 226.6,447.5 228.4,447.5 231.4,447.5 234.4,447.5 237.4,447.5 240.4,447.5 243.4,447.5 246,447.5 246.4,447.5 249.4,447.5 252.4,447.5 255.4,447.5 258.4,447.5 261.4,447.5 263,447.5 264.4,447.5 267.4,448.5 270.4,448.5 273.4,449.5 276.4,449.5 279.4,449.5 282.4,450.5 285.4,450.5 287.7,450.5 288.4,450.5 291.4,450.5 294.4,449.5 297.4,449.5 300.4,449.5 303.4,449.5 306.4,449.5 309.4,449.5 310.8,449.5 312.4,450.5 315.4,450.5 317,451.5 318.4,451.5 321.4,451.5 324.4,451.5 327.4,451.5 329,452.5 330.4,452.5 333.4,452.5 336.4,452.5 339.4,452.5 341.4,452.5 342.4,452.5 345.4,452.5 346,452.5 348.4,452.5 351.4,452.5 354.4,452.5 356,452.5 357.4,452.5 360.4,452.5 363.4,453.5 365.8,453.5 366.4,453.5 369.4,453.5 372.4,454.5 375.4,454.5 378.4,454.5 381.4,454.5 384.4,454.5 385,454.5 385.3,454.5 387.4,454.5 390.4,452.5 392.6,452.5 393.4,451.5 396.4,451.5 399.4,451.5 400,451.5 402.4,451.5 405.4,451.5 408.4,451.5 411.4,451.5 414.4,451.5 417.4,452.5 419.5,452.5 420.4,452.5 423.4,453.5 424.4,454.5 425.6,454.5 426.4,455.5 429.4,456.5 430,456.5" fill="none" stroke="#00ffff" stroke-width="1"/>
<polyline points="198.4,445.5 201.4,445.5 204.4,446.5 207.4,446.5 209,446.5 210.4,446.5 213.2,447.5 213.4,447.5 216.4,447.5 219.4,447.5 222.4,447.5 225.4,448.5 226.6,448.5 228.4,448.5 231.4,448.5 234.4,448.5 237.4,448.5 240.4,447.5 243.4,447.5 246,447.5 246.4,447.5 249.4,447.5 252.4,447.5 255.4,447.5 258.4,447.5 261.4,448.5 263,448.5 264.4,448.5 267.4,448.5 270.4,449.5 273.4,449.5 276.4,449.5 279.4,450.5 282.4,450.5 285.4,450.5 287.7,450.5 288.4,450.5 291.4,450.5 294.4,450.5 297.4,450.5 300.4,450.5 303.4,450.5 306.4,450.5 309.4,450.5 310.8,450.5 312.4,450.5 315.4,451.5 317,451.5 318.4,451.5 321.4,451.5 324.4,451.5 327.4,451.5 329,451.5 330.4,451.5 333.4,451.5 336.4,452.5 339.4,452.5 341.4,452.5 342.4,452.5 345.4,453.5 346,453.5 348.4,453.5 351.4,453.5 354.4,453.5 356,454.5 357.4,454.5 360.4,454.5 363.4,454.5 365.8,454.5 366.4,454.5 369.4,454.5 372.4,454.5 375.4,454.5 378.4,454.5 381.4,453.5 384.4,453.5 385,453.5 385.3,453.5 387.4,453.5 390.4,452.5 392.6,451.5 393.4,451.5 396.4,451.5 399.4,451.5 400,451.5 402.4,452.5 405.4,452.5 408.4,452.5 411.4,453.5 414.4,453.5 417.4,453.5 419.5,453.5 420.4,453.5 423.4,454.5 424.4,454.5 425.6,455.5 426.4,455.5 429.4,456.5 430,456.5" fill="none" stroke="#a07060" stroke-width="1"/>
<polyline points="198.4,446.5 201.4,446.5 204.4,446.5 207.4,446.5 209,446.5 210.4,447.5 213.2,447.5 213.4,447.5 216.4,448.5 219.4,448.5 222.4,448.5 225.4,448.5 226.6,448.5 228.4,448.5 231.4,448.5 234.4,448.5 237.4,448.5 240.4,448.5 243.4,448.5 246,448.5 246.4,448.5 249.4,448.5 252.4,448.5 255.4,448.5 258.4,448.5 261.4,448.5 263,448.5 264.4,448.5 267.4,449.5 270.4,449.5 273.4,449.5 276.4,450.5 279.4,450.5 282.4,450.5 285.4,450.5 287.7,451.5 288.4,451.5 291.4,451.5 294.4,451.5 297.4,450.5 300.4,450.5 303.4,450.5 306.4,450.5 309.4,450.5 310.8,450.5 312.4,451.5 315.4,451.5 317,451.5 318.4,451.5 321.4,451.5 324.4,451.5 327.4,451.5 329,451.5 330.4,452.5 333.4,452.5 336.4,452.5 339.4,453.5 341.4,453.5 342.4,453.5 345.4,453.5 346,453.5 348.4,454.5 351.4,454.5 354.4,454.5 356,454.5 357.4,454.5 360.4,454.5 363.4,454.5 365.8,454.5 366.4,454.5 369.4,454.5 372.4,454.5 375.4,454.5 378.4,454.5 381.4,454.5 384.4,454.5 385,454.5 385.3,454.5 387.4,453.5 390.4,452.5 392.6,452.5 393.4,452.5 396.4,452.5 399.4,452.5 400,452.5 402.4,452.5 405.4,453.5 408.4,453.5 411.4,453.5 414.4,453.5 417.4,453.5 419.5,454.5 420.4,454.5 423.4,454.5 424.4,454.5 425.6,455.5 426.4,455.5 429.4,456.5 430,456.5" fill="none" stroke="#b000ff" stroke-width="1"/>
<polyline points="198.4,448.5 201.4,448.5 204.4,448.5 207.4,448.5 209,447.5 210.4,448.5 213.2,448.5 213.4,448.5 216.4,448.5 219.4,447.5 222.4,448.5 225.4,448.5 226.6,448.5 228.4,448.5 231.4,448.5 234.4,448.5 237.4,449.5 240.4,449.5 243.4,449.5 246,450.5 246.4,450.5 249.4,450.5 252.4,450.5 255.4,450.5 258.4,450.5 261.4,449.5 263,449.5 264.4,449.5 267.4,449.5 270.4,449.5 273.4,449.5 276.4,449.5 279.4,449.5 282.4,450.5 285.4,450.5 287.7,450.5 288.4,450.5 291.4,450.5 294.4,451.5 297.4,451.5 300.4,451.5 303.4,451.5 306.4,452.5 309.4,452.5 310.8,452.5 312.4,452.5 315.4,452.5 317,452.5 318.4,452.5 321.4,452.5 324.4,452.5 327.4,452.5 329,452.5 330.4,452.5 333.4,452.5 336.4,452.5 339.4,453.5 341.4,453.5 342.4,453.5 345.4,454.5 346,454.5 348.4,454.5 351.4,454.5 354.4,454.5 356,454.5 357.4,454.5 360.4,455.5 363.4,455.5 365.8,455.5 366.4,455.5 369.4,454.5 372.4,454.5 375.4,454.5 378.4,454.5 381.4,454.5 384.4,454.5 385,454.5 385.3,454.5 387.4,454.5 390.4,453.5 392.6,452.5 393.4,452.5 396.4,453.5 399.4,453.5 400,453.5 402.4,453.5 405.4,453.5 408.4,454.5 411.4,454.5 414.4,454.5 417.4,453.5 419.5,453.5 420.4,453.5 423.4,454.5 424.4,454.5 425.6,454.5 426.4,455.5 429.4,455.5 430,456.5" fill="none" stroke="#0000ff" stroke-width="1"/>
<polyline points="198.4,448.5 201.4,448.5 204.4,448.5 207.4,448.5 209,448.5 210.4,448.5 213.2,448.5 213.4,449.5 216.4,449.5 219.4,449.5 222.4,449.5 225.4,450.5 226.6,450.5 228.4,450.5 231.4,450.5 234.4,450.5 237.4,450.5 240.4,450.5 243.4,450.5 246,450.5 246.4,450.5 249.4,449.5 252.4,449.5 255.4,449.5 258.4,449.5 261.4,449.5 263,449.5 264.4,449.5 267.4,449.5 270.4,450.5 273.4,450.5 276.4,450.5 279.4,451.5 282.4,451.5 285.4,451.5 287.7,451.5 288.4,451.5 291.4,451.5 294.4,451.5 297.4,451.5 300.4,451.5 303.4,451.5 306.4,451.5 309.4,451.5 310.8,451.5 312.4,451.5 315.4,452.5 317,452.5 318.4,452.5 321.4,452.5 324.4,452.5 327.4,452.5 329,452.5 330.4,452.5 333.4,453.5 336.4,453.5 339.4,454.5 341.4,454.5 342.4,454.5 345.4,454.5 346,454.5 348.4,455.5 351.4,455.5 354.4,455.5 356,455.5 357.4,455.5 360.4,455.5 363.4,455.5 365.8,455.5 366.4,455.5 369.4,455.5 372.4,455.5 375.4,454.5 378.4,454.5 381.4,454.5 384.4,454.5 385,454.5 385.3,454.5 387.4,454.5 390.4,453.5 392.6,452.5 393.4,453.5 396.4,453.5 399.4,453.5 400,453.5 402.4,453.5 405.4,454.5 408.4,454.5 411.4,454.5 414.4,454.5 417.4,454.5 419.5,454.5 420.4,454.5 423.4,455.5 424.4,455.5 425.6,455.5 426.4,455.5 429.4,456.5 430,456.5" fill="none" stroke="#0080ff" stroke-width="1"/>
<polyline points="198.4,449.5 201.4,450.5 204.4,450.5 207.4,450.5 209,450.5 210.4,450.5 213.2,450.5 213.4,450.5 216.4,450.5 219.4,450.5 222.4,449.5 225.4,449.5 226.6,449.5 228.4,449.5 231.4,449.5 234.4,449.5 237.4,450.5 240.4,450.5 243.4,450.5 246,451.5 246.4,451.5 249.4,451.5 252.4,451.5 255.4,451.5 258.4,451.5 261.4,451.5 263,450.5 264.4,450.5 267.4,450.5 270.4,450.5 273.4,450.5 276.4,450.5 279.4,450.5 282.4,451.5 285.4,451.5 287.7,451.5 288.4,451.5 291.4,452.5 294.4,452.5 297.4,452.5 300.4,452.5 303.4,452.5 306.4,452.5 309.4,452.5 310.8,452.5 312.4,452.5 315.4,452.5 317,452.5 318.4,452.5 321.4,452.5 324.4,453.5 327.4,453.5 329,453.5 330.4,454.5 333.4,454.5 336.4,454.5 339.4,455.5 341.4,455.5 342.4,455.5 345.4,455.5 346,455.5 348.4,454.5 351.4,454.5 354.4,454.5 356,454.5 357.4,454.5 360.4,454.5 363.4,454.5 365.8,455.5 366.4,455.5 369.4,455.5 372.4,455.5 375.4,456.5 378.4,456.5 381.4,456.5 384.4,456.5 385,456.5 385.3,456.5 387.4,455.5 390.4,454.5 392.6,453.5 393.4,453.5 396.4,453.5 399.4,453.5 400,453.5 402.4,453.5 405.4,453.5 408.4,453.5 411.4,453.5 414.4,454.5 417.4,454.5 419.5,454.5 420.4,455.5 423.4,455.5 424.4,455.5 425.6,456.5 426.4,456.5 429.4,457.5 430,457.5" fill="none" stroke="#ffff00" stroke-width="1"/>
<polyline points="198.4,450.5 201.4,450.5 204.4,451.5 207.4,451.5 209,451.5 210.4,451.5 213.2,451.5 213.4,451.5 216.4,451.5 219.4,450.5 222.4,450.5 225.4,450.5 226.6,450.5 228.4,450.5 231.4,450.5 234.4,450.5 237.4,450.5 240.4,451.5 243.4,451.5 246,451.5 246.4,451.5 249.4,451.5 252.4,452.5 255.4,452.5 258.4,451.5 261.4,451.5 263,451.5 264.4,451.5 267.4,451.5 270.4,451.5 273.4,450.5 276.4,450.5 279.4,451.5 282.4,451.5 285.4,451.5 287.7,451.5 288.4,451.5 291.4,452.5 294.4,452.5 297.4,452.5 300.4,453.5 303.4,453.5 306.4,453.5 309.4,453.5 310.8,452.5 312.4,453.5 315.4,453.5 317,453.5 318.4,453.5 321.4,453.5 324.4,453.5 327.4,453.5 329,453.5 330.4,453.5 333.4,454.5 336.4,454.5 339.4,455.5 341.4,455.5 342.4,455.5 345.4,455.5 346,455.5 348.4,455.5 351.4,455.5 354.4,455.5 356,455.5 357.4,455.5 360.4,455.5 363.4,455.5 365.8,455.5 366.4,455.5 369.4,455.5 372.4,455.5 375.4,455.5 378.4,456.5 381.4,456.5 384.4,456.5 385,456.5 385.3,456.5 387.4,456.5 390.4,455.5 392.6,454.5 393.4,454.5 396.4,454.5 399.4,454.5 400,454.5 402.4,454.5 405.4,454.5 408.4,453.5 411.4,453.5 414.4,454.5 417.4,454.5 419.5,454.5 420.4,454.5 423.4,455.5 424.4,455.5 425.6,456.5 426.4,456.5 429.4,457.5 430,457.5" fill="none" stroke="#ff00ff" stroke-width="1"/>
<polyline points="198.4,451.5 201.4,451.5 204.4,451.5 207.4,451.5 209,451.5 210.4,451.5 213.2,451.5 213.4,451.5 216.4,451.5 219.4,451.5 222.4,451.5 225.4,451.5 226.6,451.5 228.4,451.5 231.4,451.5 234.4,451.5 237.4,451.5 240.4,451.5 243.4,451.5 246,451.5 246.4,451.5 249.4,451.5 252.4,451.5 255.4,452.5 258.4,452.5 261.4,452.5 263,452.5 264.4,452.5 267.4,452.5 270.4,452.5 273.4,452.5 276.4,452.5 279.4,452.5 282.4,452.5 285.4,452.5 287.7,452.5 288.4,452.5 291.4,452.5 294.4,452.5 297.4,452.5 300.4,452.5 303.4,452.5 306.4,452.5 309.4,452.5 310.8,452.5 312.4,452.5 315.4,453.5 317,453.5 318.4,453.5 321.4,453.5 324.4,453.5 327.4,454.5 329,454.5 330.4,454.5 333.4,454.5 336.4,455.5 339.4,455.5 341.4,455.5 342.4,455.5 345.4,456.5 346,456.5 348.4,456.5 351.4,456.5 354.4,456.5 356,456.5 357.4,456.5 360.4,456.5 363.4,456.5 365.8,456.5 366.4,456.5 369.4,456.5 372.4,456.5 375.4,456.5 378.4,456.5 381.4,456.5 384.4,456.5 385,456.5 385.3,456.5 387.4,455.5 390.4,454.5 392.6,453.5 393.4,453.5 396.4,453.5 399.4,453.5 400,453.5 402.4,454.5 405.4,454.5 408.4,454.5 411.4,454.5 414.4,454.5 417.4,455.5 419.5,455.5 420.4,455.5 423.4,455.5 424.4,455.5 425.6,456.5 426.4,456.5 429.4,458.5 430,458.5" fill="none" stroke="#ff0000" stroke-width="1"/>
<polyline points="198.4,452.5 201.4,452.5 204.4,452.5 207.4,452.5 209,452.5 210.4,452.5 213.2,452.5 213.4,452.5 216.4,452.5 219.4,451.5 222.4,451.5 225.4,451.5 226.6,451.5 228.4,451.5 231.4,451.5 234.4,452.5 237.4,452.5 240.4,452.5 243.4,453.5 246,453.5 246.4,453.5 249.4,453.5 252.4,453.5 255.4,452.5 258.4,452.5 261.4,452.5 263,452.5 264.4,451.5 267.4,451.5 270.4,451.5 273.4,451.5 276.4,452.5 279.4,452.5 282.4,452.5 285.4,452.5 287.7,453.5 288.4,453.5 291.4,453.5 294.4,453.5 297.4,453.5 300.4,453.5 303.4,453.5 306.4,453.5 309.4,453.5 310.8,453.5 312.4,453.5 315.4,453.5 317,453.5 318.4,454.5 321.4,454.5 324.4,454.5 327.4,455.5 329,455.5 330.4,455.5 333.4,455.5 336.4,456.5 339.4,456.5 341.4,456.5 342.4,456.5 345.4,456.5 346,456.5 348.4,455.5 351.4,455.5 354.4,455.5 356,455.5 357.4,455.5 360.4,455.5 363.4,456.5 365.8,456.5 366.4,456.5 369.4,456.5 372.4,457.5 375.4,457.5 378.4,457.5 381.4,457.5 384.4,457.5 385,457.5 385.3,457.5 387.4,456.5 390.4,455.5 392.6,454.5 393.4,454.5 396.4,454.5 399.4,454.5 400,454.5 402.4,454.5 405.4,454.5 408.4,455.5 411.4,455.5 414.4,455.5 417.4,456.5 419.5,456.5 420.4,456.5 423.4,456.5 424.4,456.5 425.6,457.5 426.4,457.5 429.4,458.5 430,458.5" fill="none" stroke="#0000ff" stroke-width="1"/>
<polyline points="198.4,452.5 201.4,452.5 204.4,452.5 207.4,452.5 209,452.5 210.4,452.5 213.2,453.5 213.4,453.5 216.4,453.5 219.4,453.5 222.4,453.5 225.4,453.5 226.6,453.5 228.4,453.5 231.4,453.5 234.4,453.5 237.4,453.5 240.4,453.5 243.4,453.5 246,453.5 246.4,453.5 249.4,453.5 252.4,453.5 255.4,453.5 258.4,453.5 261.4,453.5 263,453.5 264.4,452.5 267.4,452.5 270.4,452.5 273.4,452.5 276.4,452.5 279.4,452.5 282.4,452.5 285.4,452.5 287.7,452.5 288.4,452.5 291.4,452.5 294.4,452.5 297.4,452.5 300.4,453.5 303.4,453.5 306.4,453.5 309.4,454.5 310.8,454.5 312.4,454.5 315.4,454.5 317,455.5 318.4,455.5 321.4,455.5 324.4,455.5 327.4,455.5 329,456.5 330.4,456.5 333.4,456.5 336.4,456.5 339.4,456.5 341.4,456.5 342.4,456.5 345.4,457.5 346,457.5 348.4,457.5 351.4,456.5 354.4,456.5 356,456.5 357.4,456.5 360.4,456.5 363.4,456.5 365.8,456.5 366.4,456.5 369.4,456.5 372.4,456.5 375.4,456.5 378.4,456.5 381.4,456.5 384.4,456.5 385,456.5 385.3,456.5 387.4,455.5 390.4,455.5 392.6,454.5 393.4,454.5 396.4,454.5 399.4,455.5 400,455.5 402.4,455.5 405.4,455.5 408.4,455.5 411.4,455.5 414.4,456.5 417.4,456.5 419.5,456.5 420.4,456.5 423.4,456.5 424.4,456.5 425.6,457.5 426.4,457.5 429.4,458.5 430,459.5" fill="none" stroke="#ffa500" stroke-width="1"/>
<polyline points="198.4,425.5 207.6,425.5 213.2,432.5 226.6,434.5" fill="none" stroke="#969696" stroke-width="1"/>
<polyline points="198.4,426.5 207.6,426.5 213.2,432.5" fill="none" stroke="#c0ff00" stroke-width="1"/>
<polyline points="198.4,427.5 199,426.5 200,425.5" fill="none" stroke="#969696" stroke-width="1"/>
<polyline points="198.4,454.5 246,454.5 270,453.5 290,454.5" fill="none" stroke="#ff0000" stroke-width="1"/>
<polyline points="198.4,429.5 209,429.5 214,433.5" fill="none" stroke="#000" stroke-width="1"/>
<polyline points="385,448.5 392.6,445.5 400,444.5 419.5,446.5 425.6,450.5 430,451.5" fill="none" stroke="#000" stroke-width="1"/>
<rect x="198" y="451" width="232" height="1" fill="#000"/>
<polyline points="618,440.5 621,440.5 624,440.5 627,440.5 630,438.5 630.5,438.5 633,438.5 636,438.5 636.6,438.5 639,442.5 640,443.5 641.5,445.5 642,445.5 645,446.5 648,447.5 648.8,447.5 651,447.5 654,448.5 656,448.5 657,448.5 660,448.5 663,448.5 666,449.5 669,449.5 670,449.5" fill="none" stroke="#ff00ff" stroke-width="1"/>
<polyline points="618,441.5 621,441.5 624,441.5 627,441.5 630,439.5 630.5,439.5 633,439.5 636,440.5 636.6,440.5 639,443.5 640,444.5 641.5,446.5 642,446.5 645,447.5 648,447.5 648.8,447.5 651,448.5 654,448.5 656,448.5 657,448.5 660,448.5 663,448.5 666,448.5 669,449.5 670,449.5" fill="none" stroke="#ff0000" stroke-width="1"/>
<polyline points="618,441.5 621,441.5 624,441.5 627,441.5 630,440.5 630.5,440.5 633,440.5 636,441.5 636.6,441.5 639,444.5 640,445.5 641.5,447.5 642,447.5 645,448.5 648,449.5 648.8,449.5 651,449.5 654,450.5 656,450.5 657,450.5 660,450.5 663,450.5 666,449.5 669,449.5 670,449.5" fill="none" stroke="#0000ff" stroke-width="1"/>
<polyline points="618,442.5 621,442.5 624,442.5 627,442.5 630,441.5 630.5,441.5 633,441.5 636,442.5 636.6,442.5 639,445.5 640,446.5 641.5,448.5 642,448.5 645,449.5 648,449.5 648.8,450.5 651,450.5 654,450.5 656,450.5 657,450.5 660,450.5 663,450.5 666,449.5 669,449.5 670,449.5" fill="none" stroke="#ffa500" stroke-width="1"/>
<polyline points="618,444.5 621,444.5 624,444.5 627,444.5 630,443.5 630.5,443.5 633,443.5 636,443.5 636.6,443.5 639,446.5 640,447.5 641.5,448.5 642,448.5 645,449.5 648,449.5 648.8,449.5 651,449.5 654,449.5 656,450.5 657,450.5 660,450.5 663,450.5 666,450.5 669,451.5 670,451.5" fill="none" stroke="#ff00ff" stroke-width="1"/>
<polyline points="618,444.5 621,444.5 624,445.5 627,445.5 630,444.5 630.5,444.5 633,444.5 636,445.5 636.6,445.5 639,447.5 640,448.5 641.5,450.5 642,450.5 645,450.5 648,451.5 648.8,451.5 651,451.5 654,451.5 656,451.5 657,451.5 660,451.5 663,451.5 666,451.5 669,451.5 670,451.5" fill="none" stroke="#969696" stroke-width="1"/>
<polyline points="618,446.5 621,446.5 624,446.5 627,446.5 630,444.5 630.5,444.5 633,444.5 636,444.5 636.6,445.5 639,447.5 640,448.5 641.5,449.5 642,449.5 645,450.5 648,451.5 648.8,451.5 651,451.5 654,452.5 656,452.5 657,452.5 660,452.5 663,452.5 666,451.5 669,451.5 670,451.5" fill="none" stroke="#a07060" stroke-width="1"/>
<polyline points="618,446.5 621,446.5 624,446.5 627,446.5 630,445.5 630.5,445.5 633,445.5 636,446.5 636.6,446.5 639,448.5 640,449.5 641.5,451.5 642,451.5 645,451.5 648,452.5 648.8,452.5 651,452.5 654,452.5 656,452.5 657,452.5 660,452.5 663,451.5 666,451.5 669,451.5 670,451.5" fill="none" stroke="#ffa500" stroke-width="1"/>
<polyline points="618,447.5 621,448.5 624,448.5 627,448.5 630,447.5 630.5,447.5 633,447.5 636,447.5 636.6,448.5 639,449.5 640,450.5 641.5,451.5 642,451.5 645,451.5 648,451.5 648.8,451.5 651,451.5 654,452.5 656,452.5 657,452.5 660,452.5 663,452.5 666,452.5 669,452.5 670,452.5" fill="none" stroke="#00ff00" stroke-width="1"/>
<polyline points="618,448.5 621,449.5 624,449.5 627,449.5 630,448.5 630.5,448.5 633,448.5 636,448.5 636.6,448.5 639,450.5 640,450.5 641.5,451.5 642,451.5 645,452.5 648,452.5 648.8,452.5 651,452.5 654,452.5 656,452.5 657,452.5 660,453.5 663,453.5 666,453.5 669,453.5 670,453.5" fill="none" stroke="#ff0000" stroke-width="1"/>
<polyline points="618,449.5 621,450.5 624,450.5 627,450.5 630,449.5 630.5,449.5 633,449.5 636,449.5 636.6,449.5 639,450.5 640,451.5 641.5,452.5 642,452.5 645,452.5 648,452.5 648.8,452.5 651,452.5 654,453.5 656,453.5 657,453.5 660,453.5 663,453.5 666,453.5 669,453.5 670,453.5" fill="none" stroke="#b000ff" stroke-width="1"/>
<polyline points="618,449.5 621,449.5 624,450.5 627,450.5 630,449.5 630.5,449.5 633,450.5 636,450.5 636.6,450.5 639,452.5 640,452.5 641.5,453.5 642,453.5 645,454.5 648,454.5 648.8,454.5 651,454.5 654,454.5 656,454.5 657,454.5 660,454.5 663,454.5 666,454.5 669,454.5 670,454.5" fill="none" stroke="#ff00ff" stroke-width="1"/>
<polyline points="618,451.5 621,452.5 624,452.5 627,452.5 630,451.5 630.5,451.5 633,451.5 636,451.5 636.6,451.5 639,452.5 640,453.5 641.5,453.5 642,453.5 645,454.5 648,454.5 648.8,454.5 651,454.5 654,454.5 656,454.5 657,454.5 660,454.5 663,454.5 666,454.5 669,454.5 670,454.5" fill="none" stroke="#000000" stroke-width="1"/>
<polyline points="618,451.5 621,451.5 624,452.5 627,452.5 630,452.5 630.5,452.5 633,452.5 636,452.5 636.6,452.5 639,453.5 640,454.5 641.5,454.5 642,454.5 645,455.5 648,455.5 648.8,455.5 651,455.5 654,455.5 656,455.5 657,455.5 660,455.5 663,455.5 666,455.5 669,455.5 670,455.5" fill="none" stroke="#00ff00" stroke-width="1"/>
<polyline points="618,452.5 621,452.5 624,453.5 627,453.5 630,453.5 630.5,453.5 633,453.5 636,453.5 636.6,454.5 639,455.5 640,455.5 641.5,455.5 642,456.5 645,456.5 648,456.5 648.8,456.5 651,456.5 654,456.5 656,456.5 657,456.5 660,455.5 663,455.5 666,455.5 669,455.5 670,455.5" fill="none" stroke="#c0ff00" stroke-width="1"/>
<polyline points="618,454.5 621,454.5 624,455.5 627,455.5 630,454.5 630.5,454.5 633,454.5 636,454.5 636.6,454.5 639,455.5 640,455.5 641.5,456.5 642,456.5 645,455.5 648,455.5 648.8,455.5 651,455.5 654,455.5 656,455.5 657,455.5 660,455.5 663,455.5 666,455.5 669,455.5 670,455.5" fill="none" stroke="#00ffff" stroke-width="1"/>
<polyline points="618,454.5 621,454.5 624,454.5 627,454.5 630,454.5 630.5,454.5 633,455.5 636,455.5 636.6,455.5 639,456.5 640,456.5 641.5,456.5 642,456.5 645,456.5 648,457.5 648.8,457.5 651,457.5 654,457.5 656,457.5 657,457.5 660,457.5 663,457.5 666,456.5 669,456.5 670,456.5" fill="none" stroke="#00ffff" stroke-width="1"/>
<polyline points="618,455.5 621,455.5 624,455.5 627,456.5 630,456.5 630.5,456.5 633,456.5 636,457.5 636.6,457.5 639,457.5 640,457.5 641.5,458.5 642,458.5 645,457.5 648,457.5 648.8,457.5 651,457.5 654,457.5 656,456.5 657,456.5 660,456.5 663,456.5 666,456.5 669,456.5 670,456.5" fill="none" stroke="#a07060" stroke-width="1"/>
<polyline points="618,457.5 621,457.5 624,457.5 627,457.5 630,457.5 630.5,457.5 633,457.5 636,457.5 636.6,457.5 639,457.5 640,457.5 641.5,457.5 642,457.5 645,457.5 648,457.5 648.8,457.5 651,457.5 654,458.5 656,458.5 657,458.5 660,458.5 663,458.5 666,457.5 669,457.5 670,457.5" fill="none" stroke="#b000ff" stroke-width="1"/>
<polyline points="618,440.5 624.4,439.5 630.5,436.5 636.6,437.5 641.5,441.5 648.8,444.5 656.2,446.5 670,446.5" fill="none" stroke="#000" stroke-width="1"/>
<rect x="618" y="451" width="52" height="1" fill="#000"/>
<polyline points="691,446.5 694,445.5 697,444.5 697.7,444.5 700,444.5 703,444.5 706,444.5 709,444.5 712,444.5 714.7,444.5 715,443.5 717,440.5 718,439.5 719.6,438.5 721,438.5 724,438.5 727,438.5 730,438.5 733,438.5 736,438.5 736.7,438.5 739,440.5 740.4,441.5 742,441.5 745,441.5 746.5,441.5 748,441.5 751,441.5 754,441.5 757,441.5 760,441.5 763,441.5 765,441.5 766,441.5 767,441.5 769,441.5 772,441.5 774,441.5 775,442.5 776,444.5 778,443.5 781,443.5 784,443.5 787,443.5 790,443.5 793,443.5 796,443.5 798,443.5 798.2,443.5 799,436.5 800,426.5 800.7,420.5 802,417.5 802.6,416.5 805,416.5 808,416.5 810,416.5 811,416.5 814,415.5 817,414.5 817.3,414.5 820,415.5 822.2,415.5 823,416.5 823.4,416.5 826,418.5 827,419.5 828.3,420.5 829,420.5 830,421.5" fill="none" stroke="#ff00ff" stroke-width="1"/>
<polyline points="691,447.5 694,446.5 697,446.5 697.7,446.5 700,446.5 703,446.5 706,445.5 709,445.5 712,445.5 714.7,445.5 715,444.5 717,441.5 718,440.5 719.6,438.5 721,438.5 724,438.5 727,439.5 730,439.5 733,439.5 736,439.5 736.7,439.5 739,441.5 740.4,442.5 742,442.5 745,442.5 746.5,442.5 748,442.5 751,442.5 754,442.5 757,442.5 760,442.5 763,441.5 765,441.5 766,441.5 767,441.5 769,441.5 772,441.5 774,441.5 775,443.5 776,444.5 778,444.5 781,444.5 784,444.5 787,445.5 790,445.5 793,445.5 796,445.5 798,445.5 798.2,445.5 799,438.5 800,429.5 800.7,423.5 802,420.5 802.6,419.5 805,419.5 808,418.5 810,418.5 811,418.5 814,417.5 817,416.5 817.3,416.5 820,416.5 822.2,416.5 823,417.5 823.4,417.5 826,419.5 827,420.5 828.3,421.5 829,421.5 830,422.5" fill="none" stroke="#ff0000" stroke-width="1"/>
<polyline points="691,448.5 694,447.5 697,446.5 697.7,446.5 700,446.5 703,446.5 706,446.5 709,446.5 712,446.5 714.7,446.5 715,446.5 717,443.5 718,442.5 719.6,440.5 721,440.5 724,440.5 727,440.5 730,440.5 733,440.5 736,440.5 736.7,440.5 739,441.5 740.4,442.5 742,442.5 745,442.5 746.5,442.5 748,442.5 751,442.5 754,442.5 757,442.5 760,442.5 763,442.5 765,442.5 766,442.5 767,442.5 769,442.5 772,443.5 774,443.5 775,444.5 776,445.5 778,445.5 781,445.5 784,445.5 787,446.5 790,445.5 793,445.5 796,445.5 798,445.5 798.2,445.5 799,439.5 800,430.5 800.7,425.5 802,422.5 802.6,421.5 805,421.5 808,421.5 810,421.5 811,420.5 814,419.5 817,419.5 817.3,418.5 820,419.5 822.2,419.5 823,420.5 823.4,420.5 826,421.5 827,422.5 828.3,423.5 829,423.5 830,424.5" fill="none" stroke="#0000ff" stroke-width="1"/>
<polyline points="691,447.5 694,447.5 697,447.5 697.7,447.5 700,447.5 703,447.5 706,447.5 709,447.5 712,447.5 714.7,446.5 715,446.5 717,443.5 718,442.5 719.6,441.5 721,441.5 724,441.5 727,440.5 730,441.5 733,441.5 736,441.5 736.7,441.5 739,442.5 740.4,443.5 742,443.5 745,444.5 746.5,444.5 748,444.5 751,444.5 754,444.5 757,444.5 760,443.5 763,443.5 765,443.5 766,443.5 767,443.5 769,443.5 772,443.5 774,443.5 775,444.5 776,445.5 778,446.5 781,446.5 784,446.5 787,446.5 790,446.5 793,446.5 796,446.5 798,446.5 798.2,446.5 799,440.5 800,432.5 800.7,426.5 802,424.5 802.6,423.5 805,422.5 808,422.5 810,422.5 811,421.5 814,421.5 817,420.5 817.3,420.5 820,420.5 822.2,421.5 823,421.5 823.4,422.5 826,424.5 827,424.5 828.3,425.5 829,426.5 830,426.5" fill="none" stroke="#ffa500" stroke-width="1"/>
<polyline points="691,449.5 694,448.5 697,448.5 697.7,448.5 700,448.5 703,448.5 706,448.5 709,447.5 712,447.5 714.7,447.5 715,447.5 717,444.5 718,444.5 719.6,442.5 721,442.5 724,442.5 727,442.5 730,442.5 733,442.5 736,441.5 736.7,441.5 739,443.5 740.4,443.5 742,443.5 745,443.5 746.5,443.5 748,444.5 751,444.5 754,444.5 757,444.5 760,444.5 763,444.5 765,445.5 766,444.5 767,444.5 769,444.5 772,445.5 774,445.5 775,446.5 776,447.5 778,447.5 781,447.5 784,447.5 787,447.5 790,447.5 793,447.5 796,446.5 798,446.5 798.2,446.5 799,440.5 800,433.5 800.7,428.5 802,426.5 802.6,425.5 805,424.5 808,424.5 810,424.5 811,424.5 814,423.5 817,422.5 817.3,422.5 820,422.5 822.2,423.5 823,423.5 823.4,423.5 826,425.5 827,426.5 828.3,427.5 829,427.5 830,428.5" fill="none" stroke="#ff00ff" stroke-width="1"/>
<polyline points="691,448.5 694,448.5 697,447.5 697.7,447.5 700,448.5 703,448.5 706,448.5 709,448.5 712,448.5 714.7,448.5 715,448.5 717,446.5 718,445.5 719.6,443.5 721,443.5 724,443.5 727,443.5 730,443.5 733,443.5 736,442.5 736.7,443.5 739,444.5 740.4,444.5 742,445.5 745,445.5 746.5,445.5 748,445.5 751,445.5 754,446.5 757,446.5 760,446.5 763,446.5 765,445.5 766,445.5 767,445.5 769,445.5 772,445.5 774,445.5 775,446.5 776,447.5 778,447.5 781,447.5 784,447.5 787,447.5 790,447.5 793,447.5 796,447.5 798,447.5 798.2,447.5 799,442.5 800,435.5 800.7,430.5 802,428.5 802.6,427.5 805,427.5 808,427.5 810,426.5 811,426.5 814,425.5 817,424.5 817.3,424.5 820,425.5 822.2,425.5 823,425.5 823.4,425.5 826,427.5 827,428.5 828.3,429.5 829,429.5 830,430.5" fill="none" stroke="#969696" stroke-width="1"/>
<polyline points="691,449.5 694,448.5 697,448.5 697.7,448.5 700,448.5 703,448.5 706,449.5 709,449.5 712,449.5 714.7,449.5 715,449.5 717,447.5 718,446.5 719.6,445.5 721,445.5 724,444.5 727,444.5 730,444.5 733,444.5 736,444.5 736.7,444.5 739,445.5 740.4,445.5 742,445.5 745,445.5 746.5,445.5 748,445.5 751,446.5 754,446.5 757,446.5 760,446.5 763,446.5 765,447.5 766,446.5 767,446.5 769,446.5 772,446.5 774,446.5 775,447.5 776,448.5 778,448.5 781,448.5 784,448.5 787,447.5 790,447.5 793,447.5 796,447.5 798,447.5 798.2,447.5 799,442.5 800,435.5 800.7,431.5 802,429.5 802.6,428.5 805,428.5 808,428.5 810,428.5 811,428.5 814,428.5 817,427.5 817.3,427.5 820,428.5 822.2,428.5 823,428.5 823.4,428.5 826,430.5 827,431.5 828.3,432.5 829,432.5 830,432.5" fill="none" stroke="#a07060" stroke-width="1"/>
<polyline points="691,451.5 694,450.5 697,450.5 697.7,450.5 700,450.5 703,450.5 706,450.5 709,450.5 712,449.5 714.7,449.5 715,449.5 717,447.5 718,446.5 719.6,445.5 721,445.5 724,445.5 727,445.5 730,445.5 733,445.5 736,445.5 736.7,445.5 739,446.5 740.4,446.5 742,446.5 745,446.5 746.5,446.5 748,446.5 751,446.5 754,446.5 757,446.5 760,446.5 763,446.5 765,446.5 766,446.5 767,446.5 769,446.5 772,447.5 774,447.5 775,448.5 776,449.5 778,449.5 781,449.5 784,449.5 787,449.5 790,449.5 793,449.5 796,449.5 798,449.5 798.2,449.5 799,444.5 800,438.5 800.7,434.5 802,432.5 802.6,431.5 805,431.5 808,431.5 810,431.5 811,431.5 814,430.5 817,430.5 817.3,429.5 820,430.5 822.2,430.5 823,430.5 823.4,430.5 826,432.5 827,433.5 828.3,434.5 829,434.5 830,434.5" fill="none" stroke="#ffa500" stroke-width="1"/>
<polyline points="691,450.5 694,450.5 697,450.5 697.7,450.5 700,450.5 703,450.5 706,450.5 709,450.5 712,450.5 714.7,450.5 715,450.5 717,448.5 718,448.5 719.6,447.5 721,447.5 724,447.5 727,447.5 730,446.5 733,446.5 736,446.5 736.7,446.5 739,447.5 740.4,447.5 742,447.5 745,447.5 746.5,447.5 748,447.5 751,447.5 754,447.5 757,447.5 760,447.5 763,447.5 765,448.5 766,447.5 767,447.5 769,448.5 772,448.5 774,448.5 775,449.5 776,450.5 778,450.5 781,450.5 784,450.5 787,450.5 790,450.5 793,450.5 796,449.5 798,449.5 798.2,449.5 799,445.5 800,439.5 800.7,435.5 802,434.5 802.6,433.5 805,433.5 808,432.5 810,432.5 811,432.5 814,431.5 817,431.5 817.3,430.5 820,431.5 822.2,431.5 823,431.5 823.4,431.5 826,433.5 827,434.5 828.3,435.5 829,435.5 830,436.5" fill="none" stroke="#00ff00" stroke-width="1"/>
<polyline points="691,451.5 694,451.5 697,451.5 697.7,451.5 700,451.5 703,451.5 706,451.5 709,451.5 712,451.5 714.7,451.5 715,450.5 717,449.5 718,448.5 719.6,447.5 721,447.5 724,447.5 727,447.5 730,447.5 733,447.5 736,447.5 736.7,447.5 739,448.5 740.4,448.5 742,449.5 745,449.5 746.5,449.5 748,449.5 751,449.5 754,449.5 757,449.5 760,449.5 763,448.5 765,448.5 766,448.5 767,448.5 769,448.5 772,448.5 774,448.5 775,449.5 776,450.5 778,450.5 781,450.5 784,450.5 787,450.5 790,450.5 793,450.5 796,450.5 798,450.5 798.2,450.5 799,446.5 800,441.5 800.7,437.5 802,436.5 802.6,435.5 805,435.5 808,434.5 810,434.5 811,434.5 814,433.5 817,433.5 817.3,433.5 820,433.5 822.2,433.5 823,433.5 823.4,434.5 826,436.5 827,437.5 828.3,438.5 829,438.5 830,439.5" fill="none" stroke="#ff0000" stroke-width="1"/>
<polyline points="691,452.5 694,452.5 697,452.5 697.7,451.5 700,452.5 703,452.5 706,452.5 709,452.5 712,452.5 714.7,451.5 715,451.5 717,450.5 718,449.5 719.6,448.5 721,448.5 724,448.5 727,448.5 730,448.5 733,448.5 736,448.5 736.7,448.5 739,449.5 740.4,449.5 742,449.5 745,450.5 746.5,450.5 748,450.5 751,450.5 754,450.5 757,450.5 760,450.5 763,450.5 765,449.5 766,449.5 767,449.5 769,449.5 772,449.5 774,449.5 775,450.5 776,450.5 778,450.5 781,450.5 784,450.5 787,450.5 790,451.5 793,451.5 796,451.5 798,451.5 798.2,451.5 799,447.5 800,442.5 800.7,439.5 802,438.5 802.6,438.5 805,437.5 808,437.5 810,437.5 811,437.5 814,436.5 817,435.5 817.3,435.5 820,435.5 822.2,435.5 823,435.5 823.4,435.5 826,437.5 827,438.5 828.3,439.5 829,439.5 830,440.5" fill="none" stroke="#b000ff" stroke-width="1"/>
<polyline points="691,452.5 694,452.5 697,452.5 697.7,452.5 700,452.5 703,452.5 706,452.5 709,452.5 712,452.5 714.7,452.5 715,452.5 717,450.5 718,450.5 719.6,449.5 721,449.5 724,449.5 727,449.5 730,449.5 733,449.5 736,449.5 736.7,449.5 739,450.5 740.4,450.5 742,450.5 745,451.5 746.5,451.5 748,451.5 751,451.5 754,451.5 757,450.5 760,450.5 763,450.5 765,450.5 766,450.5 767,450.5 769,450.5 772,450.5 774,450.5 775,450.5 776,451.5 778,451.5 781,451.5 784,451.5 787,452.5 790,452.5 793,452.5 796,452.5 798,452.5 798.2,452.5 799,448.5 800,444.5 800.7,441.5 802,440.5 802.6,439.5 805,439.5 808,439.5 810,438.5 811,438.5 814,437.5 817,437.5 817.3,437.5 820,437.5 822.2,437.5 823,437.5 823.4,437.5 826,440.5 827,441.5 828.3,441.5 829,442.5 830,442.5" fill="none" stroke="#ff00ff" stroke-width="1"/>
<polyline points="691,453.5 694,453.5 697,453.5 697.7,453.5 700,453.5 703,453.5 706,453.5 709,453.5 712,452.5 714.7,452.5 715,452.5 717,451.5 718,450.5 719.6,450.5 721,450.5 724,450.5 727,450.5 730,450.5 733,450.5 736,450.5 736.7,450.5 739,451.5 740.4,451.5 742,452.5 745,452.5 746.5,452.5 748,452.5 751,452.5 754,451.5 757,451.5 760,451.5 763,451.5 765,451.5 766,450.5 767,450.5 769,450.5 772,451.5 774,451.5 775,451.5 776,452.5 778,452.5 781,452.5 784,452.5 787,452.5 790,453.5 793,453.5 796,452.5 798,452.5 798.2,452.5 799,449.5 800,445.5 800.7,443.5 802,442.5 802.6,441.5 805,441.5 808,440.5 810,440.5 811,440.5 814,439.5 817,439.5 817.3,439.5 820,439.5 822.2,439.5 823,440.5 823.4,440.5 826,442.5 827,443.5 828.3,444.5 829,444.5 830,445.5" fill="none" stroke="#000000" stroke-width="1"/>
<polyline points="691,453.5 694,453.5 697,453.5 697.7,453.5 700,453.5 703,453.5 706,453.5 709,453.5 712,453.5 714.7,453.5 715,453.5 717,452.5 718,452.5 719.6,451.5 721,452.5 724,452.5 727,452.5 730,452.5 733,452.5 736,452.5 736.7,452.5 739,452.5 740.4,452.5 742,452.5 745,452.5 746.5,452.5 748,452.5 751,452.5 754,452.5 757,452.5 760,452.5 763,451.5 765,451.5 766,451.5 767,451.5 769,451.5 772,451.5 774,451.5 775,452.5 776,452.5 778,452.5 781,452.5 784,452.5 787,453.5 790,453.5 793,453.5 796,453.5 798,453.5 798.2,453.5 799,450.5 800,447.5 800.7,445.5 802,444.5 802.6,444.5 805,444.5 808,443.5 810,443.5 811,443.5 814,443.5 817,442.5 817.3,442.5 820,442.5 822.2,442.5 823,442.5 823.4,442.5 826,444.5 827,445.5 828.3,446.5 829,446.5 830,446.5" fill="none" stroke="#00ff00" stroke-width="1"/>
<polyline points="691,455.5 694,455.5 697,454.5 697.7,454.5 700,454.5 703,454.5 706,454.5 709,453.5 712,453.5 714.7,453.5 715,453.5 717,452.5 718,452.5 719.6,452.5 721,452.5 724,452.5 727,452.5 730,453.5 733,453.5 736,453.5 736.7,453.5 739,453.5 740.4,453.5 742,453.5 745,453.5 746.5,453.5 748,453.5 751,452.5 754,452.5 757,452.5 760,452.5 763,452.5 765,453.5 766,453.5 767,453.5 769,453.5 772,453.5 774,453.5 775,454.5 776,454.5 778,454.5 781,454.5 784,454.5 787,454.5 790,453.5 793,453.5 796,453.5 798,453.5 798.2,453.5 799,450.5 800,447.5 800.7,446.5 802,445.5 802.6,445.5 805,444.5 808,444.5 810,444.5 811,444.5 814,444.5 817,444.5 817.3,444.5 820,444.5 822.2,444.5 823,445.5 823.4,445.5 826,447.5 827,448.5 828.3,448.5 829,448.5 830,449.5" fill="none" stroke="#c0ff00" stroke-width="1"/>
<polyline points="691,455.5 694,455.5 697,455.5 697.7,455.5 700,455.5 703,455.5 706,455.5 709,455.5 712,455.5 714.7,455.5 715,455.5 717,454.5 718,454.5 719.6,453.5 721,453.5 724,453.5 727,453.5 730,453.5 733,453.5 736,453.5 736.7,453.5 739,453.5 740.4,453.5 742,453.5 745,453.5 746.5,453.5 748,453.5 751,453.5 754,453.5 757,453.5 760,453.5 763,453.5 765,453.5 766,453.5 767,453.5 769,453.5 772,454.5 774,454.5 775,454.5 776,454.5 778,454.5 781,454.5 784,455.5 787,455.5 790,455.5 793,455.5 796,455.5 798,455.5 798.2,454.5 799,452.5 800,450.5 800.7,449.5 802,448.5 802.6,448.5 805,448.5 808,447.5 810,447.5 811,447.5 814,447.5 817,446.5 817.3,446.5 820,446.5 822.2,446.5 823,446.5 823.4,446.5 826,448.5 827,449.5 828.3,450.5 829,450.5 830,450.5" fill="none" stroke="#00ffff" stroke-width="1"/>
<polyline points="691,455.5 694,455.5 697,455.5 697.7,455.5 700,455.5 703,455.5 706,455.5 709,455.5 712,455.5 714.7,455.5 715,455.5 717,455.5 718,454.5 719.6,454.5 721,454.5 724,454.5 727,455.5 730,455.5 733,455.5 736,455.5 736.7,455.5 739,455.5 740.4,455.5 742,455.5 745,455.5 746.5,455.5 748,455.5 751,455.5 754,455.5 757,455.5 760,455.5 763,455.5 765,454.5 766,454.5 767,454.5 769,454.5 772,454.5 774,454.5 775,454.5 776,454.5 778,454.5 781,454.5 784,454.5 787,454.5 790,454.5 793,454.5 796,454.5 798,454.5 798.2,454.5 799,453.5 800,451.5 800.7,450.5 802,449.5 802.6,449.5 805,449.5 808,449.5 810,449.5 811,449.5 814,449.5 817,449.5 817.3,449.5 820,449.5 822.2,448.5 823,449.5 823.4,449.5 826,451.5 827,452.5 828.3,452.5 829,453.5 830,453.5" fill="none" stroke="#00ffff" stroke-width="1"/>
<polyline points="691,456.5 694,456.5 697,456.5 697.7,456.5 700,456.5 703,456.5 706,456.5 709,456.5 712,456.5 714.7,455.5 715,455.5 717,455.5 718,455.5 719.6,455.5 721,455.5 724,455.5 727,455.5 730,455.5 733,455.5 736,455.5 736.7,455.5 739,455.5 740.4,455.5 742,455.5 745,455.5 746.5,455.5 748,455.5 751,455.5 754,456.5 757,456.5 760,456.5 763,456.5 765,456.5 766,456.5 767,456.5 769,456.5 772,456.5 774,456.5 775,456.5 776,456.5 778,456.5 781,456.5 784,456.5 787,456.5 790,456.5 793,456.5 796,455.5 798,455.5 798.2,455.5 799,454.5 800,452.5 800.7,452.5 802,451.5 802.6,451.5 805,451.5 808,451.5 810,450.5 811,450.5 814,450.5 817,450.5 817.3,450.5 820,449.5 822.2,449.5 823,449.5 823.4,449.5 826,452.5 827,453.5 828.3,453.5 829,454.5 830,454.5" fill="none" stroke="#a07060" stroke-width="1"/>
<polyline points="691,456.5 694,456.5 697,456.5 697.7,456.5 700,456.5 703,456.5 706,456.5 709,456.5 712,457.5 714.7,457.5 715,457.5 717,457.5 718,457.5 719.6,457.5 721,457.5 724,457.5 727,457.5 730,457.5 733,457.5 736,457.5 736.7,457.5 739,457.5 740.4,457.5 742,457.5 745,457.5 746.5,457.5 748,457.5 751,457.5 754,456.5 757,456.5 760,456.5 763,456.5 765,456.5 766,456.5 767,456.5 769,456.5 772,456.5 774,456.5 775,456.5 776,456.5 778,456.5 781,456.5 784,456.5 787,456.5 790,456.5 793,456.5 796,456.5 798,456.5 798.2,456.5 799,455.5 800,454.5 800.7,454.5 802,453.5 802.6,453.5 805,453.5 808,453.5 810,453.5 811,453.5 814,453.5 817,453.5 817.3,453.5 820,453.5 822.2,453.5 823,453.5 823.4,453.5 826,455.5 827,456.5 828.3,456.5 829,457.5 830,457.5" fill="none" stroke="#b000ff" stroke-width="1"/>
<polyline points="717,449.5 738,449.5" fill="none" stroke="#a07060" stroke-width="1"/>
<polyline points="717,450.5 738,450.5" fill="none" stroke="#a07060" stroke-width="1"/>
<polyline points="691,444.5 695,443.5 697,439.5 700,438.5 705,439.5 709,439.5 717,436.5 719.5,431.5 727,431.5 731,432.5 737,435.5 738.5,437.5 770,437.5 773,439.5 776,443.5 779.5,446.5 781.5,443.5 785,441.5 797.5,441.5 799,425.5 801.5,415.5 808,415.5 812,414.5 817.5,412.5 821,413.5 826,417.5 830,418.5" fill="none" stroke="#000" stroke-width="1"/>
<polyline points="799,423.5 801.5,414.5 808,413.5 812,412.5 817.5,410.5 821,412.5 826,415.5" fill="none" stroke="#c0ff00" stroke-width="1"/>
<polyline points="781.5,444.5 785,442.5 797.5,442.5" fill="none" stroke="#ffff00" stroke-width="1"/>
<polyline points="781.5,445.5 786,443.5 797.5,443.5" fill="none" stroke="#ff0000" stroke-width="1"/>
<polyline points="868,423.5 871,422.5 874,421.5 877,420.5 878.7,420.5 880,420.5 883,419.5 886,419.5 889,419.5 892,419.5 892.4,419.5 895,418.5 896.3,417.5 898,417.5 901,417.5 904,417.5 907,417.5 910,417.5 913,417.5 916,417.5 919,417.5 921,417.5 921.7,417.5 922,417.5 925,416.5 927.5,415.5 928,415.5 931,413.5 933,411.5 933.4,411.5 934,411.5 937,411.5 940,411.5 940.6,411.5 941.8,431.5 943,431.5 946,432.5 949,431.5 952,431.5 953.9,431.5 955,425.5 957.4,413.5 958,413.5 961,413.5 964,414.5 967,414.5 968.5,414.5 970,414.5 973,415.5 976,415.5 978.3,416.5 979,416.5 982,418.5 984,419.5 984.2,419.5 985,419.5 988,420.5 991,420.5 994,421.5 997,421.5 1000,421.5 1003,421.5 1004,421.5" fill="none" stroke="#ff00ff" stroke-width="1"/>
<polyline points="868,423.5 871,422.5 874,421.5 877,421.5 878.7,421.5 880,420.5 883,420.5 886,420.5 889,420.5 892,420.5 892.4,420.5 895,419.5 896.3,419.5 898,419.5 901,419.5 904,419.5 907,419.5 910,419.5 913,419.5 916,418.5 919,418.5 921,418.5 921.7,418.5 922,418.5 925,417.5 927.5,416.5 928,416.5 931,413.5 933,412.5 933.4,411.5 934,411.5 937,411.5 940,411.5 940.6,411.5 941.8,431.5 943,431.5 946,432.5 949,431.5 952,431.5 953.9,431.5 955,425.5 957.4,414.5 958,414.5 961,414.5 964,415.5 967,415.5 968.5,415.5 970,416.5 973,416.5 976,417.5 978.3,417.5 979,418.5 982,420.5 984,421.5 984.2,421.5 985,421.5 988,421.5 991,422.5 994,422.5 997,422.5 1000,422.5 1003,422.5 1004,422.5" fill="none" stroke="#ff0000" stroke-width="1"/>
<polyline points="868,424.5 871,423.5 874,423.5 877,422.5 878.7,422.5 880,422.5 883,422.5 886,422.5 889,422.5 892,422.5 892.4,422.5 895,421.5 896.3,420.5 898,420.5 901,420.5 904,420.5 907,420.5 910,420.5 913,420.5 916,419.5 919,419.5 921,419.5 921.7,419.5 922,419.5 925,418.5 927.5,417.5 928,417.5 931,414.5 933,412.5 933.4,412.5 934,412.5 937,412.5 940,412.5 940.6,412.5 941.8,431.5 943,431.5 946,432.5 949,432.5 952,431.5 953.9,431.5 955,426.5 957.4,415.5 958,415.5 961,416.5 964,416.5 967,416.5 968.5,416.5 970,417.5 973,417.5 976,418.5 978.3,418.5 979,419.5 982,421.5 984,422.5 984.2,422.5 985,422.5 988,422.5 991,423.5 994,423.5 997,423.5 1000,423.5 1003,423.5 1004,423.5" fill="none" stroke="#0000ff" stroke-width="1"/>
<polyline points="868,425.5 871,424.5 874,424.5 877,423.5 878.7,423.5 880,423.5 883,422.5 886,422.5 889,422.5 892,422.5 892.4,422.5 895,421.5 896.3,420.5 898,420.5 901,420.5 904,420.5 907,420.5 910,420.5 913,420.5 916,420.5 919,420.5 921,420.5 921.7,420.5 922,420.5 925,419.5 927.5,418.5 928,418.5 931,415.5 933,414.5 933.4,414.5 934,414.5 937,414.5 940,414.5 940.6,414.5 941.8,432.5 943,433.5 946,433.5 949,433.5 952,433.5 953.9,432.5 955,428.5 957.4,417.5 958,417.5 961,418.5 964,418.5 967,418.5 968.5,418.5 970,418.5 973,419.5 976,419.5 978.3,420.5 979,420.5 982,421.5 984,422.5 984.2,423.5 985,423.5 988,423.5 991,423.5 994,423.5 997,423.5 1000,423.5 1003,423.5 1004,423.5" fill="none" stroke="#ffa500" stroke-width="1"/>
<polyline points="868,426.5 871,426.5 874,425.5 877,424.5 878.7,424.5 880,424.5 883,424.5 886,424.5 889,423.5 892,423.5 892.4,423.5 895,422.5 896.3,422.5 898,422.5 901,421.5 904,421.5 907,421.5 910,421.5 913,421.5 916,421.5 919,421.5 921,421.5 921.7,421.5 922,420.5 925,419.5 927.5,419.5 928,418.5 931,416.5 933,414.5 933.4,414.5 934,414.5 937,414.5 940,414.5 940.6,414.5 941.8,432.5 943,433.5 946,433.5 949,433.5 952,433.5 953.9,433.5 955,428.5 957.4,418.5 958,418.5 961,419.5 964,419.5 967,419.5 968.5,419.5 970,420.5 973,420.5 976,421.5 978.3,421.5 979,421.5 982,423.5 984,424.5 984.2,424.5 985,424.5 988,424.5 991,424.5 994,425.5 997,424.5 1000,424.5 1003,424.5 1004,424.5" fill="none" stroke="#ff00ff" stroke-width="1"/>
<polyline points="868,427.5 871,427.5 874,426.5 877,425.5 878.7,425.5 880,425.5 883,425.5 886,425.5 889,424.5 892,424.5 892.4,424.5 895,423.5 896.3,423.5 898,423.5 901,423.5 904,422.5 907,423.5 910,423.5 913,423.5 916,423.5 919,423.5 921,423.5 921.7,423.5 922,422.5 925,421.5 927.5,420.5 928,420.5 931,418.5 933,416.5 933.4,416.5 934,416.5 937,416.5 940,416.5 940.6,416.5 941.8,433.5 943,433.5 946,433.5 949,433.5 952,433.5 953.9,432.5 955,428.5 957.4,418.5 958,418.5 961,419.5 964,419.5 967,420.5 968.5,420.5 970,420.5 973,421.5 976,421.5 978.3,422.5 979,422.5 982,424.5 984,425.5 984.2,425.5 985,425.5 988,425.5 991,425.5 994,426.5 997,425.5 1000,425.5 1003,425.5 1004,425.5" fill="none" stroke="#969696" stroke-width="1"/>
<polyline points="868,427.5 871,427.5 874,426.5 877,426.5 878.7,425.5 880,425.5 883,425.5 886,426.5 889,426.5 892,426.5 892.4,426.5 895,425.5 896.3,425.5 898,425.5 901,425.5 904,424.5 907,424.5 910,424.5 913,424.5 916,424.5 919,424.5 921,424.5 921.7,423.5 922,423.5 925,422.5 927.5,421.5 928,420.5 931,418.5 933,416.5 933.4,416.5 934,416.5 937,416.5 940,416.5 940.6,416.5 941.8,433.5 943,433.5 946,433.5 949,433.5 952,433.5 953.9,433.5 955,429.5 957.4,420.5 958,420.5 961,421.5 964,421.5 967,422.5 968.5,422.5 970,422.5 973,422.5 976,423.5 978.3,423.5 979,423.5 982,425.5 984,425.5 984.2,425.5 985,425.5 988,426.5 991,426.5 994,426.5 997,426.5 1000,426.5 1003,426.5 1004,426.5" fill="none" stroke="#a07060" stroke-width="1"/>
<polyline points="868,429.5 871,428.5 874,428.5 877,427.5 878.7,427.5 880,427.5 883,427.5 886,427.5 889,427.5 892,426.5 892.4,426.5 895,426.5 896.3,425.5 898,425.5 901,425.5 904,425.5 907,425.5 910,424.5 913,424.5 916,424.5 919,424.5 921,424.5 921.7,424.5 922,424.5 925,423.5 927.5,422.5 928,421.5 931,419.5 933,418.5 933.4,417.5 934,417.5 937,418.5 940,418.5 940.6,418.5 941.8,434.5 943,434.5 946,434.5 949,434.5 952,434.5 953.9,434.5 955,430.5 957.4,421.5 958,422.5 961,422.5 964,422.5 967,423.5 968.5,423.5 970,423.5 973,424.5 976,424.5 978.3,424.5 979,425.5 982,426.5 984,426.5 984.2,426.5 985,427.5 988,427.5 991,427.5 994,427.5 997,427.5 1000,427.5 1003,427.5 1004,427.5" fill="none" stroke="#ffa500" stroke-width="1"/>
<polyline points="868,429.5 871,428.5 874,428.5 877,428.5 878.7,428.5 880,428.5 883,428.5 886,428.5 889,428.5 892,428.5 892.4,428.5 895,427.5 896.3,427.5 898,427.5 901,427.5 904,427.5 907,427.5 910,427.5 913,426.5 916,426.5 919,426.5 921,426.5 921.7,426.5 922,425.5 925,424.5 927.5,423.5 928,422.5 931,420.5 933,418.5 933.4,418.5 934,418.5 937,418.5 940,418.5 940.6,418.5 941.8,434.5 943,434.5 946,434.5 949,434.5 952,434.5 953.9,434.5 955,430.5 957.4,422.5 958,422.5 961,423.5 964,423.5 967,424.5 968.5,424.5 970,424.5 973,425.5 976,425.5 978.3,426.5 979,426.5 982,427.5 984,427.5 984.2,427.5 985,428.5 988,428.5 991,428.5 994,428.5 997,428.5 1000,428.5 1003,428.5 1004,428.5" fill="none" stroke="#00ff00" stroke-width="1"/>
<polyline points="868,430.5 871,430.5 874,430.5 877,429.5 878.7,429.5 880,429.5 883,429.5 886,429.5 889,429.5 892,429.5 892.4,429.5 895,428.5 896.3,427.5 898,427.5 901,427.5 904,427.5 907,427.5 910,427.5 913,427.5 916,427.5 919,427.5 921,427.5 921.7,427.5 922,427.5 925,425.5 927.5,424.5 928,424.5 931,422.5 933,420.5 933.4,420.5 934,420.5 937,420.5 940,420.5 940.6,420.5 941.8,434.5 943,434.5 946,435.5 949,434.5 952,434.5 953.9,434.5 955,430.5 957.4,423.5 958,423.5 961,423.5 964,424.5 967,425.5 968.5,425.5 970,425.5 973,426.5 976,426.5 978.3,427.5 979,427.5 982,428.5 984,428.5 984.2,429.5 985,429.5 988,429.5 991,429.5 994,429.5 997,429.5 1000,429.5 1003,429.5 1004,429.5" fill="none" stroke="#ff0000" stroke-width="1"/>
<polyline points="868,431.5 871,431.5 874,431.5 877,430.5 878.7,430.5 880,430.5 883,430.5 886,429.5 889,429.5 892,429.5 892.4,429.5 895,428.5 896.3,428.5 898,428.5 901,428.5 904,428.5 907,428.5 910,428.5 913,428.5 916,428.5 919,428.5 921,428.5 921.7,428.5 922,428.5 925,427.5 927.5,425.5 928,425.5 931,423.5 933,421.5 933.4,421.5 934,421.5 937,421.5 940,421.5 940.6,421.5 941.8,435.5 943,435.5 946,435.5 949,435.5 952,435.5 953.9,434.5 955,431.5 957.4,424.5 958,424.5 961,424.5 964,425.5 967,425.5 968.5,425.5 970,426.5 973,426.5 976,427.5 978.3,428.5 979,428.5 982,429.5 984,430.5 984.2,430.5 985,430.5 988,430.5 991,430.5 994,430.5 997,430.5 1000,430.5 1003,430.5 1004,430.5" fill="none" stroke="#b000ff" stroke-width="1"/>
<polyline points="868,432.5 871,432.5 874,432.5 877,431.5 878.7,431.5 880,431.5 883,431.5 886,430.5 889,430.5 892,430.5 892.4,430.5 895,430.5 896.3,429.5 898,429.5 901,430.5 904,430.5 907,430.5 910,430.5 913,430.5 916,430.5 919,430.5 921,429.5 921.7,429.5 922,429.5 925,427.5 927.5,426.5 928,425.5 931,423.5 933,421.5 933.4,421.5 934,421.5 937,421.5 940,421.5 940.6,421.5 941.8,435.5 943,435.5 946,436.5 949,436.5 952,436.5 953.9,436.5 955,433.5 957.4,426.5 958,426.5 961,426.5 964,427.5 967,427.5 968.5,427.5 970,427.5 973,427.5 976,428.5 978.3,428.5 979,428.5 982,429.5 984,430.5 984.2,430.5 985,430.5 988,430.5 991,431.5 994,431.5 997,431.5 1000,432.5 1003,432.5 1004,432.5" fill="none" stroke="#ff00ff" stroke-width="1"/>
<polyline points="868,432.5 871,432.5 874,432.5 877,432.5 878.7,432.5 880,432.5 883,432.5 886,432.5 889,432.5 892,432.5 892.4,432.5 895,432.5 896.3,431.5 898,431.5 901,431.5 904,431.5 907,430.5 910,430.5 913,430.5 916,430.5 919,430.5 921,430.5 921.7,430.5 922,430.5 925,428.5 927.5,427.5 928,426.5 931,425.5 933,423.5 933.4,423.5 934,423.5 937,423.5 940,423.5 940.6,423.5 941.8,436.5 943,436.5 946,436.5 949,436.5 952,436.5 953.9,435.5 955,433.5 957.4,426.5 958,426.5 961,427.5 964,427.5 967,427.5 968.5,428.5 970,428.5 973,429.5 976,429.5 978.3,430.5 979,430.5 982,431.5 984,432.5 984.2,432.5 985,432.5 988,432.5 991,432.5 994,432.5 997,432.5 1000,432.5 1003,432.5 1004,432.5" fill="none" stroke="#000000" stroke-width="1"/>
<polyline points="868,434.5 871,433.5 874,433.5 877,433.5 878.7,433.5 880,432.5 883,432.5 886,432.5 889,432.5 892,432.5 892.4,432.5 895,432.5 896.3,432.5 898,432.5 901,432.5 904,432.5 907,432.5 910,432.5 913,432.5 916,432.5 919,432.5 921,432.5 921.7,431.5 922,431.5 925,429.5 927.5,428.5 928,427.5 931,425.5 933,424.5 933.4,424.5 934,424.5 937,423.5 940,423.5 940.6,423.5 941.8,436.5 943,436.5 946,436.5 949,436.5 952,436.5 953.9,436.5 955,433.5 957.4,428.5 958,428.5 961,428.5 964,429.5 967,429.5 968.5,430.5 970,430.5 973,430.5 976,431.5 978.3,431.5 979,431.5 982,432.5 984,432.5 984.2,432.5 985,432.5 988,432.5 991,432.5 994,432.5 997,432.5 1000,432.5 1003,433.5 1004,433.5" fill="none" stroke="#00ff00" stroke-width="1"/>
<polyline points="868,435.5 871,435.5 874,435.5 877,434.5 878.7,434.5 880,434.5 883,434.5 886,434.5 889,434.5 892,434.5 892.4,434.5 895,433.5 896.3,433.5 898,433.5 901,433.5 904,433.5 907,433.5 910,432.5 913,432.5 916,432.5 919,432.5 921,432.5 921.7,432.5 922,432.5 925,430.5 927.5,428.5 928,428.5 931,426.5 933,425.5 933.4,425.5 934,425.5 937,425.5 940,425.5 940.6,425.5 941.8,437.5 943,437.5 946,437.5 949,437.5 952,437.5 953.9,437.5 955,435.5 957.4,429.5 958,429.5 961,430.5 964,430.5 967,430.5 968.5,430.5 970,431.5 973,431.5 976,431.5 978.3,432.5 979,432.5 982,432.5 984,433.5 984.2,433.5 985,433.5 988,433.5 991,433.5 994,433.5 997,433.5 1000,434.5 1003,434.5 1004,434.5" fill="none" stroke="#c0ff00" stroke-width="1"/>
<polyline points="868,435.5 871,435.5 874,435.5 877,434.5 878.7,434.5 880,434.5 883,434.5 886,434.5 889,434.5 892,435.5 892.4,435.5 895,434.5 896.3,434.5 898,434.5 901,434.5 904,434.5 907,434.5 910,434.5 913,434.5 916,434.5 919,434.5 921,434.5 921.7,434.5 922,434.5 925,432.5 927.5,430.5 928,430.5 931,428.5 933,426.5 933.4,426.5 934,426.5 937,426.5 940,426.5 940.6,426.5 941.8,437.5 943,437.5 946,437.5 949,437.5 952,437.5 953.9,437.5 955,434.5 957.4,429.5 958,430.5 961,430.5 964,430.5 967,431.5 968.5,431.5 970,431.5 973,432.5 976,432.5 978.3,433.5 979,433.5 982,433.5 984,434.5 984.2,434.5 985,434.5 988,434.5 991,434.5 994,435.5 997,435.5 1000,435.5 1003,435.5 1004,435.5" fill="none" stroke="#00ffff" stroke-width="1"/>
<polyline points="868,437.5 871,436.5 874,436.5 877,436.5 878.7,436.5 880,436.5 883,436.5 886,435.5 889,435.5 892,435.5 892.4,435.5 895,435.5 896.3,435.5 898,435.5 901,435.5 904,435.5 907,435.5 910,435.5 913,435.5 916,435.5 919,435.5 921,435.5 921.7,435.5 922,435.5 925,433.5 927.5,431.5 928,431.5 931,428.5 933,427.5 933.4,427.5 934,427.5 937,427.5 940,427.5 940.6,427.5 941.8,437.5 943,437.5 946,437.5 949,437.5 952,437.5 953.9,437.5 955,435.5 957.4,431.5 958,431.5 961,432.5 964,432.5 967,433.5 968.5,433.5 970,433.5 973,434.5 976,434.5 978.3,434.5 979,434.5 982,435.5 984,435.5 984.2,435.5 985,435.5 988,435.5 991,435.5 994,435.5 997,435.5 1000,435.5 1003,436.5 1004,436.5" fill="none" stroke="#00ffff" stroke-width="1"/>
<polyline points="868,438.5 871,437.5 874,437.5 877,437.5 880,437.5 883,437.5 886,436.5 889,436.5 892,436.5 893,436.5 895,436.5 898,436.5 900,436.5 901,436.5 904,436.5 907,436.5 910,436.5 913,436.5 916,436.5 919,436.5 921,436.5 922,435.5 925,433.5 928,432.5 931,430.5 933,429.5 934,429.5 935,429.5 937,429.5 940,429.5 940.6,429.5 941,432.5 941.8,439.5 942,439.5 943,439.5 946,439.5 949,439.5 952,439.5 953.9,439.5 955,437.5 956,435.5 957.4,432.5 958,433.5 961,433.5 964,433.5 967,434.5 970,434.5 973,434.5 975,434.5 976,435.5 979,435.5 982,435.5 984,436.5 985,436.5 988,436.5 991,436.5 994,436.5 997,436.5 1000,436.5 1003,437.5 1004,437.5" fill="none" stroke="#00ff00" stroke-width="1"/>
<polyline points="868,438.5 871,438.5 874,438.5 877,438.5 880,438.5 883,438.5 886,438.5 889,438.5 892,439.5 893,439.5 895,439.5 898,438.5 900,438.5 901,438.5 904,438.5 907,438.5 910,437.5 913,437.5 916,437.5 919,436.5 921,436.5 922,436.5 925,434.5 928,432.5 931,431.5 933,430.5 934,430.5 935,430.5 937,430.5 940,430.5 940.6,430.5 941,433.5 941.8,440.5 942,440.5 943,440.5 946,440.5 949,440.5 952,440.5 953.9,440.5 955,438.5 956,437.5 957.4,433.5 958,433.5 961,433.5 964,433.5 967,434.5 970,434.5 973,435.5 975,435.5 976,435.5 979,436.5 982,437.5 984,437.5 985,438.5 988,438.5 991,438.5 994,438.5 997,438.5 1000,438.5 1003,438.5 1004,438.5" fill="none" stroke="#c0ff00" stroke-width="1"/>
<polyline points="868,440.5 871,440.5 874,440.5 877,440.5 880,440.5 883,440.5 886,440.5 889,440.5 892,440.5 893,439.5 895,439.5 898,439.5 900,438.5 901,438.5 904,438.5 907,438.5 910,438.5 913,438.5 916,438.5 919,438.5 921,438.5 922,438.5 925,436.5 928,435.5 931,433.5 933,432.5 934,432.5 935,431.5 937,431.5 940,431.5 940.6,431.5 941,433.5 941.8,441.5 942,441.5 943,441.5 946,441.5 949,441.5 952,440.5 953.9,440.5 955,439.5 956,438.5 957.4,433.5 958,433.5 961,434.5 964,434.5 967,435.5 970,436.5 973,436.5 975,437.5 976,437.5 979,438.5 982,438.5 984,439.5 985,439.5 988,439.5 991,439.5 994,439.5 997,439.5 1000,439.5 1003,439.5 1004,439.5" fill="none" stroke="#00ffff" stroke-width="1"/>
<polyline points="868,441.5 871,441.5 874,441.5 877,441.5 880,441.5 883,441.5 886,440.5 889,440.5 892,440.5 893,440.5 895,440.5 898,440.5 900,440.5 901,440.5 904,440.5 907,440.5 910,440.5 913,440.5 916,439.5 919,439.5 921,439.5 922,439.5 925,438.5 928,436.5 931,434.5 933,433.5 934,433.5 935,433.5 937,433.5 940,432.5 940.6,432.5 941,434.5 941.8,442.5 942,442.5 943,442.5 946,442.5 949,442.5 952,442.5 953.9,442.5 955,441.5 956,440.5 957.4,435.5 958,435.5 961,435.5 964,435.5 967,436.5 970,436.5 973,437.5 975,437.5 976,437.5 979,438.5 982,438.5 984,439.5 985,439.5 988,439.5 991,440.5 994,440.5 997,440.5 1000,441.5 1003,441.5 1004,441.5" fill="none" stroke="#00ffff" stroke-width="1"/>
<polyline points="868,443.5 871,443.5 874,442.5 877,442.5 880,442.5 883,442.5 886,442.5 889,442.5 892,442.5 893,442.5 895,442.5 898,442.5 900,441.5 901,441.5 904,441.5 907,441.5 910,441.5 913,441.5 916,441.5 919,440.5 921,440.5 922,440.5 925,438.5 928,437.5 931,435.5 933,434.5 934,433.5 935,433.5 937,433.5 940,433.5 940.6,433.5 941,434.5 941.8,442.5 942,443.5 943,443.5 946,443.5 949,443.5 952,443.5 953.9,443.5 955,442.5 956,441.5 957.4,436.5 958,436.5 961,436.5 964,437.5 967,437.5 970,438.5 973,439.5 975,439.5 976,439.5 979,440.5 982,440.5 984,441.5 985,441.5 988,441.5 991,441.5 994,441.5 997,441.5 1000,441.5 1003,441.5 1004,441.5" fill="none" stroke="#a07060" stroke-width="1"/>
<polyline points="868,445.5 871,445.5 874,445.5 877,445.5 880,444.5 883,444.5 886,444.5 889,444.5 892,443.5 893,443.5 895,443.5 898,442.5 900,442.5 901,442.5 904,441.5 907,441.5 910,441.5 913,441.5 916,441.5 919,441.5 921,441.5 922,440.5 925,440.5 928,438.5 931,437.5 933,436.5 934,436.5 935,435.5 937,435.5 940,435.5 940.6,435.5 941,436.5 941.8,444.5 942,445.5 943,445.5 946,445.5 949,445.5 952,445.5 953.9,445.5 955,444.5 956,443.5 957.4,437.5 958,437.5 961,437.5 964,437.5 967,438.5 970,438.5 973,438.5 975,439.5 976,439.5 979,440.5 982,441.5 984,441.5 985,442.5 988,442.5 991,442.5 994,443.5 997,443.5 1000,443.5 1003,443.5 1004,443.5" fill="none" stroke="#b000ff" stroke-width="1"/>
<polyline points="868,446.5 871,446.5 874,445.5 877,445.5 880,445.5 883,445.5 886,445.5 889,445.5 892,445.5 893,445.5 895,445.5 898,444.5 900,444.5 901,444.5 904,444.5 907,443.5 910,443.5 913,442.5 916,442.5 919,441.5 921,441.5 922,441.5 925,440.5 928,439.5 931,437.5 933,437.5 934,436.5 935,436.5 937,436.5 940,436.5 940.6,436.5 941,437.5 941.8,445.5 942,447.5 943,447.5 946,447.5 949,447.5 952,446.5 953.9,446.5 955,446.5 956,445.5 957.4,438.5 958,438.5 961,438.5 964,438.5 967,439.5 970,439.5 973,440.5 975,440.5 976,440.5 979,441.5 982,442.5 984,443.5 985,443.5 988,443.5 991,444.5 994,444.5 997,444.5 1000,443.5 1003,443.5 1004,443.5" fill="none" stroke="#0000ff" stroke-width="1"/>
<polyline points="868,448.5 871,447.5 874,447.5 877,447.5 880,446.5 883,446.5 886,446.5 889,446.5 892,446.5 893,446.5 895,446.5 898,445.5 900,445.5 901,445.5 904,444.5 907,444.5 910,444.5 913,444.5 916,444.5 919,443.5 921,443.5 922,443.5 925,442.5 928,441.5 931,439.5 933,438.5 934,438.5 935,437.5 937,437.5 940,436.5 940.6,436.5 941,437.5 941.8,445.5 942,447.5 943,447.5 946,447.5 949,447.5 952,447.5 953.9,447.5 955,447.5 956,447.5 957.4,439.5 958,439.5 961,439.5 964,440.5 967,440.5 970,441.5 973,441.5 975,442.5 976,442.5 979,443.5 982,444.5 984,444.5 985,444.5 988,444.5 991,444.5 994,444.5 997,444.5 1000,444.5 1003,444.5 1004,444.5" fill="none" stroke="#0080ff" stroke-width="1"/>
<polyline points="868,449.5 871,448.5 874,448.5 877,448.5 880,448.5 883,448.5 886,448.5 889,448.5 892,448.5 893,448.5 895,448.5 898,447.5 900,447.5 901,446.5 904,446.5 907,445.5 910,445.5 913,444.5 916,444.5 919,443.5 921,443.5 922,443.5 925,442.5 928,441.5 931,440.5 933,440.5 934,439.5 935,439.5 937,439.5 940,439.5 940.6,439.5 941,439.5 941.8,447.5 942,449.5 943,449.5 946,449.5 949,449.5 952,449.5 953.9,449.5 955,449.5 956,448.5 957.4,440.5 958,440.5 961,440.5 964,440.5 967,441.5 970,441.5 973,442.5 975,442.5 976,442.5 979,443.5 982,445.5 984,445.5 985,446.5 988,446.5 991,446.5 994,446.5 997,446.5 1000,445.5 1003,445.5 1004,445.5" fill="none" stroke="#ffff00" stroke-width="1"/>
<polyline points="868,451.5 871,451.5 874,451.5 877,451.5 880,450.5 883,450.5 886,450.5 888.5,450.5 889,450.5 892,449.5 893,449.5 894.3,449.5 895,448.5 898,448.5 900,447.5 901,447.5 904,446.5 907,446.5 910,446.5 911.9,446.5 913,445.5 916,445.5 919,445.5 922,444.5 925,444.5 928,443.5 931,442.5 933.4,441.5 934,441.5 935,441.5 937,441.5 940,440.5 941,440.5 942,450.5 943,450.5 946,450.5 949,450.5 952,450.5 955,450.5 956,450.5 957.4,442.5 958,442.5 960,442.5 961,442.5 964,442.5 967,442.5 970,443.5 973,443.5 975,443.5 976,443.5 979,444.5 980,444.5 982,445.5 985,446.5 988,446.5 991,446.5 994,446.5 995,446.5 997,446.5 1000,447.5 1003,447.5 1004,447.5" fill="none" stroke="#ffa500" stroke-width="1"/>
<polyline points="868,453.5 871,453.5 874,453.5 877,453.5 880,452.5 883,452.5 886,452.5 888.5,452.5 889,451.5 892,450.5 893,450.5 894.3,449.5 895,449.5 898,449.5 900,448.5 901,448.5 904,448.5 907,448.5 910,448.5 911.9,448.5 913,447.5 916,447.5 919,447.5 922,447.5 925,446.5 928,445.5 931,445.5 933.4,444.5 934,444.5 935,443.5 937,443.5 940,442.5 941,442.5 942,451.5 943,451.5 946,451.5 949,451.5 952,451.5 955,451.5 956,451.5 957.4,444.5 958,444.5 960,443.5 961,443.5 964,443.5 967,444.5 970,444.5 973,444.5 975,444.5 976,445.5 979,445.5 980,446.5 982,446.5 985,447.5 988,447.5 991,447.5 994,447.5 995,448.5 997,448.5 1000,448.5 1003,448.5 1004,448.5" fill="none" stroke="#a0645a" stroke-width="1"/>
<polyline points="868,455.5 871,455.5 874,454.5 877,454.5 880,454.5 883,453.5 886,453.5 888.5,453.5 889,453.5 892,451.5 893,451.5 894.3,450.5 895,450.5 898,450.5 900,450.5 901,450.5 904,450.5 907,450.5 910,450.5 911.9,450.5 913,450.5 916,450.5 919,449.5 922,449.5 925,449.5 928,448.5 931,447.5 933.4,446.5 934,446.5 935,446.5 937,445.5 940,444.5 941,444.5 942,451.5 943,451.5 946,451.5 949,451.5 952,451.5 955,451.5 956,451.5 957.4,445.5 958,445.5 960,444.5 961,444.5 964,444.5 967,445.5 970,445.5 973,446.5 975,446.5 976,447.5 979,448.5 980,448.5 982,448.5 985,449.5 988,449.5 991,449.5 994,449.5 995,449.5 997,449.5 1000,449.5 1003,449.5 1004,449.5" fill="none" stroke="#969696" stroke-width="1"/>
<polyline points="868,457.5 871,457.5 874,457.5 877,456.5 880,456.5 883,456.5 886,456.5 888.5,455.5 889,455.5 892,453.5 893,452.5 894.3,452.5 895,451.5 898,451.5 900,451.5 901,451.5 904,451.5 907,451.5 910,451.5 911.9,452.5 913,451.5 916,451.5 919,451.5 922,450.5 925,450.5 928,449.5 931,449.5 933.4,448.5 934,448.5 935,448.5 937,448.5 940,447.5 941,447.5 942,452.5 943,452.5 946,452.5 949,452.5 952,452.5 955,452.5 956,452.5 957.4,448.5 958,447.5 960,445.5 961,445.5 964,446.5 967,446.5 970,447.5 973,447.5 975,447.5 976,448.5 979,448.5 980,449.5 982,449.5 985,449.5 988,450.5 991,450.5 994,450.5 995,450.5 997,450.5 1000,450.5 1003,450.5 1004,450.5" fill="none" stroke="#ff0000" stroke-width="1"/>
<polyline points="868,458.5 871,458.5 874,458.5 877,457.5 880,457.5 883,457.5 886,457.5 888.5,457.5 889,456.5 892,454.5 893,453.5 894.3,452.5 895,452.5 898,453.5 900,453.5 901,453.5 904,453.5 907,454.5 910,454.5 911.9,454.5 913,454.5 916,454.5 919,453.5 922,453.5 925,452.5 928,452.5 931,451.5 933.4,451.5 934,451.5 935,450.5 937,450.5 940,449.5 941,449.5 942,452.5 943,452.5 946,452.5 949,452.5 952,452.5 955,452.5 956,452.5 957.4,449.5 958,449.5 960,446.5 961,447.5 964,447.5 967,448.5 970,448.5 973,449.5 975,449.5 976,449.5 979,450.5 980,450.5 982,450.5 985,451.5 988,451.5 991,451.5 994,451.5 995,451.5 997,451.5 1000,451.5 1003,451.5 1004,451.5" fill="none" stroke="#ffff00" stroke-width="1"/>
<rect x="868" y="430" width="136" height="1" fill="#000"/>
<rect x="868" y="436" width="136" height="1" fill="#000"/>
<rect x="868" y="451" width="136" height="1" fill="#000"/>
<polyline points="868,421.5 878.7,419.5 892.4,418.5 896.3,416.5 921.7,415.5 927.5,414.5 933.4,409.5 940.6,409.5 941.8,431.5 946,430.5 953.9,429.5 957.4,412.5 968.5,413.5 978.3,415.5 984.2,418.5 994,419.5 1004,419.5" fill="none" stroke="#000" stroke-width="1"/>
<polyline points="868,459.5 888.5,457.5 894.3,454.5 911.9,456.5 925,455.5" fill="none" stroke="#ffa500" stroke-width="1"/>
<rect x="83" y="430" width="6" height="1" fill="#000"/>
<rect x="83" y="436" width="6" height="1" fill="#000"/>
<rect x="83" y="451" width="6" height="1" fill="#000"/>
<rect x="94" y="430" width="68" height="1" fill="#000"/>
<rect x="94" y="436" width="68" height="1" fill="#000"/>
<rect x="94" y="451" width="68" height="1" fill="#000"/>
<rect x="176" y="430" width="18" height="1" fill="#000"/>
<rect x="176" y="436" width="18" height="1" fill="#000"/>
<rect x="176" y="451" width="18" height="1" fill="#000"/>
<rect x="198" y="430" width="232" height="1" fill="#000"/>
<rect x="198" y="436" width="232" height="1" fill="#000"/>
<rect x="198" y="451" width="232" height="1" fill="#000"/>
<rect x="618" y="430" width="52" height="1" fill="#000"/>
<rect x="618" y="436" width="52" height="1" fill="#000"/>
<rect x="618" y="451" width="52" height="1" fill="#000"/>
<rect x="691" y="430" width="139" height="1" fill="#000"/>
<rect x="691" y="436" width="139" height="1" fill="#000"/>
<rect x="691" y="451" width="139" height="1" fill="#000"/>
<rect x="868" y="430" width="136" height="1" fill="#000"/>
<rect x="868" y="436" width="136" height="1" fill="#000"/>
<rect x="868" y="451" width="136" height="1" fill="#000"/>
<polyline points="43,523.5 46,521.5 49,520.5" fill="none" stroke="#ff00ff" stroke-width="1"/>
<polyline points="43,524.5 46,522.5 49,521.5" fill="none" stroke="#ff0000" stroke-width="1"/>
<polyline points="43,525.5 46,523.5 49,522.5" fill="none" stroke="#0000ff" stroke-width="1"/>
<polyline points="43,526.5 46,525.5 49,524.5" fill="none" stroke="#ffa500" stroke-width="1"/>
<polyline points="43,527.5 46,526.5 49,525.5" fill="none" stroke="#ff00ff" stroke-width="1"/>
<polyline points="43,528.5 46,527.5 49,526.5" fill="none" stroke="#969696" stroke-width="1"/>
<polyline points="43,529.5 46,528.5 49,527.5" fill="none" stroke="#a07060" stroke-width="1"/>
<polyline points="43,530.5 46,529.5 49,528.5" fill="none" stroke="#ffa500" stroke-width="1"/>
<polyline points="43,531.5 46,530.5 49,530.5" fill="none" stroke="#00ff00" stroke-width="1"/>
<polyline points="43,532.5 46,531.5 49,531.5" fill="none" stroke="#ff0000" stroke-width="1"/>
<polyline points="43,533.5 46,532.5 49,532.5" fill="none" stroke="#b000ff" stroke-width="1"/>
<polyline points="43,534.5 46,533.5 49,533.5" fill="none" stroke="#ff00ff" stroke-width="1"/>
<polyline points="43,535.5 46,534.5 49,534.5" fill="none" stroke="#000000" stroke-width="1"/>
<polyline points="43,536.5 46,535.5 49,535.5" fill="none" stroke="#00ff00" stroke-width="1"/>
<polyline points="43,522.5 47,521.5 49,519.5" fill="none" stroke="#000" stroke-width="1"/>
<polyline points="63,516.5 66,516.5" fill="none" stroke="#ff00ff" stroke-width="1"/>
<polyline points="63,517.5 66,517.5" fill="none" stroke="#ff0000" stroke-width="1"/>
<polyline points="63,519.5 66,519.5" fill="none" stroke="#0000ff" stroke-width="1"/>
<polyline points="63,520.5 66,520.5" fill="none" stroke="#ffa500" stroke-width="1"/>
<polyline points="63,521.5 66,521.5" fill="none" stroke="#ff00ff" stroke-width="1"/>
<polyline points="63,522.5 66,522.5" fill="none" stroke="#969696" stroke-width="1"/>
<polyline points="63,524.5 66,524.5" fill="none" stroke="#a07060" stroke-width="1"/>
<polyline points="63,525.5 66,525.5" fill="none" stroke="#ffa500" stroke-width="1"/>
<polyline points="63,526.5 66,526.5" fill="none" stroke="#00ff00" stroke-width="1"/>
<polyline points="63,527.5 66,527.5" fill="none" stroke="#ff0000" stroke-width="1"/>
<polyline points="63,529.5 66,529.5" fill="none" stroke="#b000ff" stroke-width="1"/>
<polyline points="63,530.5 66,530.5" fill="none" stroke="#ff00ff" stroke-width="1"/>
<polyline points="63,531.5 66,531.5" fill="none" stroke="#000000" stroke-width="1"/>
<polyline points="63,532.5 66,532.5" fill="none" stroke="#00ff00" stroke-width="1"/>
<polyline points="69,516.5 71,500.5 72,496.5 75,484.5" fill="none" stroke="#ff00ff" stroke-width="1"/>
<polyline points="69,517.5 71,502.5 72,498.5 75,486.5" fill="none" stroke="#ff0000" stroke-width="1"/>
<polyline points="69,517.5 71,503.5 72,499.5 75,488.5" fill="none" stroke="#0000ff" stroke-width="1"/>
<polyline points="69,517.5 71,504.5 72,500.5 75,490.5" fill="none" stroke="#ffa500" stroke-width="1"/>
<polyline points="69,518.5 71,505.5 72,502.5 75,492.5" fill="none" stroke="#ff00ff" stroke-width="1"/>
<polyline points="69,519.5 71,507.5 72,504.5 75,494.5" fill="none" stroke="#969696" stroke-width="1"/>
<polyline points="69,519.5 71,508.5 72,505.5 75,496.5" fill="none" stroke="#a07060" stroke-width="1"/>
<polyline points="69,520.5 71,509.5 72,506.5 75,498.5" fill="none" stroke="#ffa500" stroke-width="1"/>
<polyline points="69,521.5 71,511.5 72,508.5 75,500.5" fill="none" stroke="#00ff00" stroke-width="1"/>
<polyline points="69,521.5 71,512.5 72,509.5 75,502.5" fill="none" stroke="#ff0000" stroke-width="1"/>
<polyline points="69,522.5 71,513.5 72,511.5 75,504.5" fill="none" stroke="#b000ff" stroke-width="1"/>
<polyline points="69,522.5 71,514.5 72,512.5 75,506.5" fill="none" stroke="#ff00ff" stroke-width="1"/>
<polyline points="69,523.5 71,515.5 72,513.5 75,508.5" fill="none" stroke="#000000" stroke-width="1"/>
<polyline points="69,524.5 71,517.5 72,515.5 75,510.5" fill="none" stroke="#00ff00" stroke-width="1"/>
<polyline points="69,524.5 71,518.5 72,516.5 75,511.5" fill="none" stroke="#c0ff00" stroke-width="1"/>
<polyline points="69,525.5 71,519.5 72,518.5 75,513.5" fill="none" stroke="#00ffff" stroke-width="1"/>
<polyline points="69,525.5 71,521.5 72,520.5 75,516.5" fill="none" stroke="#00ffff" stroke-width="1"/>
<polyline points="69,526.5 71,522.5 72,521.5 75,518.5" fill="none" stroke="#a07060" stroke-width="1"/>
<polyline points="69,527.5 71,524.5 72,523.5 75,520.5" fill="none" stroke="#b000ff" stroke-width="1"/>
<polyline points="69,527.5 71,524.5 72,524.5 75,521.5" fill="none" stroke="#0000ff" stroke-width="1"/>
<polyline points="69,528.5 71,526.5 72,525.5 75,524.5" fill="none" stroke="#0080ff" stroke-width="1"/>
<polyline points="69,528.5 71,527.5 72,527.5 75,526.5" fill="none" stroke="#ffff00" stroke-width="1"/>
<polyline points="69,529.5 70,512.5 72,495.5 75,482.5" fill="none" stroke="#000" stroke-width="1"/>
<polyline points="83,484.5 86,482.5 89,481.5 90,481.5" fill="none" stroke="#ff00ff" stroke-width="1"/>
<polyline points="83,485.5 86,484.5 89,483.5 90,482.5" fill="none" stroke="#ff0000" stroke-width="1"/>
<polyline points="83,486.5 86,485.5 89,483.5 90,483.5" fill="none" stroke="#0000ff" stroke-width="1"/>
<polyline points="83,488.5 86,486.5 89,485.5 90,484.5" fill="none" stroke="#ffa500" stroke-width="1"/>
<polyline points="83,489.5 86,487.5 89,486.5 90,486.5" fill="none" stroke="#ff00ff" stroke-width="1"/>
<polyline points="83,490.5 86,488.5 89,487.5 90,486.5" fill="none" stroke="#969696" stroke-width="1"/>
<polyline points="83,491.5 86,489.5 89,488.5 90,487.5" fill="none" stroke="#a07060" stroke-width="1"/>
<polyline points="83,492.5 86,491.5 89,489.5 90,489.5" fill="none" stroke="#ffa500" stroke-width="1"/>
<polyline points="83,493.5 86,492.5 89,490.5 90,490.5" fill="none" stroke="#00ff00" stroke-width="1"/>
<polyline points="83,494.5 86,492.5 89,491.5 90,490.5" fill="none" stroke="#ff0000" stroke-width="1"/>
<polyline points="83,495.5 86,493.5 89,492.5 90,491.5" fill="none" stroke="#b000ff" stroke-width="1"/>
<polyline points="83,496.5 86,495.5 89,493.5 90,492.5" fill="none" stroke="#ff00ff" stroke-width="1"/>
<polyline points="83,497.5 86,496.5 89,494.5 90,494.5" fill="none" stroke="#000000" stroke-width="1"/>
<polyline points="83,498.5 86,497.5 89,495.5 90,495.5" fill="none" stroke="#00ff00" stroke-width="1"/>
<polyline points="83,500.5 86,498.5 89,496.5 90,496.5" fill="none" stroke="#c0ff00" stroke-width="1"/>
<polyline points="83,501.5 86,499.5 89,497.5 90,497.5" fill="none" stroke="#00ffff" stroke-width="1"/>
<polyline points="83,502.5 86,500.5 89,499.5 90,498.5" fill="none" stroke="#00ffff" stroke-width="1"/>
<polyline points="83,503.5 86,501.5 89,500.5 90,499.5" fill="none" stroke="#a07060" stroke-width="1"/>
<polyline points="83,506.5 86,505.5 89,503.5 90,502.5" fill="none" stroke="#ff0000" stroke-width="1"/>
<polyline points="83,509.5 86,508.5 89,506.5 90,505.5" fill="none" stroke="#00ff00" stroke-width="1"/>
<polyline points="83,512.5 86,510.5 89,509.5 90,508.5" fill="none" stroke="#c0ff00" stroke-width="1"/>
<polyline points="83,515.5 86,513.5 89,512.5 90,512.5" fill="none" stroke="#ff00ff" stroke-width="1"/>
<polyline points="83,517.5 86,516.5 89,515.5 90,514.5" fill="none" stroke="#ff0000" stroke-width="1"/>
<polyline points="83,520.5 86,519.5 89,518.5 90,517.5" fill="none" stroke="#969696" stroke-width="1"/>
<polyline points="83,523.5 86,522.5 89,521.5 90,521.5" fill="none" stroke="#ffa500" stroke-width="1"/>
<polyline points="83,526.5 86,525.5 89,524.5 90,524.5" fill="none" stroke="#ffa500" stroke-width="1"/>
<rect x="83" y="507" width="7" height="1" fill="#000"/>
<rect x="83" y="513" width="7" height="1" fill="#000"/>
<rect x="83" y="528" width="7" height="1" fill="#000"/>
<polyline points="94.8,480.5 97.8,480.5 100.8,480.5 103.8,480.5 106.8,480.5 109.8,480.5 112.8,480.5 115.8,480.5 118.8,479.5 121.8,479.5 124.8,479.5 127.8,479.5 130.8,479.5 131.6,479.5 133.8,479.5 136.8,478.5 139.4,478.5 139.8,477.5 142.8,475.5 145.2,474.5 145.8,474.5 146,474.5 148.8,474.5 151.8,473.5 154.6,473.5 154.8,475.5 157,494.5 157.8,501.5 159,512.5 160.8,511.5 163,508.5" fill="none" stroke="#ff00ff" stroke-width="1"/>
<polyline points="94.8,481.5 97.8,480.5 100.8,480.5 103.8,480.5 106.8,480.5 109.8,480.5 112.8,480.5 115.8,480.5 118.8,480.5 121.8,480.5 124.8,481.5 127.8,481.5 130.8,481.5 131.6,481.5 133.8,480.5 136.8,480.5 139.4,479.5 139.8,479.5 142.8,477.5 145.2,475.5 145.8,475.5 146,475.5 148.8,474.5 151.8,474.5 154.6,473.5 154.8,475.5 157,494.5 157.8,501.5 159,512.5 160.8,511.5 163,509.5" fill="none" stroke="#ff0000" stroke-width="1"/>
<polyline points="94.8,482.5 97.8,482.5 100.8,482.5 103.8,482.5 106.8,482.5 109.8,482.5 112.8,482.5 115.8,482.5 118.8,482.5 121.8,482.5 124.8,482.5 127.8,482.5 130.8,482.5 131.6,482.5 133.8,481.5 136.8,480.5 139.4,480.5 139.8,479.5 142.8,477.5 145.2,475.5 145.8,475.5 146,475.5 148.8,474.5 151.8,474.5 154.6,473.5 154.8,475.5 157,494.5 157.8,502.5 159,513.5 160.8,512.5 163,510.5" fill="none" stroke="#0000ff" stroke-width="1"/>
<polyline points="94.8,482.5 97.8,482.5 100.8,482.5 103.8,482.5 106.8,482.5 109.8,482.5 112.8,483.5 115.8,483.5 118.8,483.5 121.8,483.5 124.8,483.5 127.8,483.5 130.8,483.5 131.6,483.5 133.8,482.5 136.8,482.5 139.4,481.5 139.8,481.5 142.8,478.5 145.2,476.5 145.8,476.5 146,476.5 148.8,475.5 151.8,475.5 154.6,474.5 154.8,476.5 157,495.5 157.8,502.5 159,514.5 160.8,513.5 163,511.5" fill="none" stroke="#ffa500" stroke-width="1"/>
<polyline points="94.8,483.5 97.8,483.5 100.8,483.5 103.8,483.5 106.8,483.5 109.8,483.5 112.8,483.5 115.8,483.5 118.8,484.5 121.8,484.5 124.8,484.5 127.8,484.5 130.8,484.5 131.6,484.5 133.8,483.5 136.8,483.5 139.4,482.5 139.8,482.5 142.8,479.5 145.2,476.5 145.8,476.5 146,476.5 148.8,475.5 151.8,475.5 154.6,474.5 154.8,476.5 157,495.5 157.8,503.5 159,515.5 160.8,514.5 163,512.5" fill="none" stroke="#ff00ff" stroke-width="1"/>
<polyline points="94.8,485.5 97.8,485.5 100.8,485.5 103.8,485.5 106.8,485.5 109.8,484.5 112.8,484.5 115.8,484.5 118.8,484.5 121.8,484.5 124.8,484.5 127.8,484.5 130.8,484.5 131.6,484.5 133.8,484.5 136.8,483.5 139.4,483.5 139.8,482.5 142.8,479.5 145.2,477.5 145.8,477.5 146,477.5 148.8,476.5 151.8,476.5 154.6,475.5 154.8,477.5 157,495.5 157.8,504.5 159,516.5 160.8,515.5 163,514.5" fill="none" stroke="#969696" stroke-width="1"/>
<polyline points="94.8,486.5 97.8,486.5 100.8,486.5 103.8,486.5 106.8,486.5 109.8,486.5 112.8,486.5 115.8,486.5 118.8,486.5 121.8,485.5 124.8,485.5 127.8,485.5 130.8,485.5 131.6,485.5 133.8,485.5 136.8,484.5 139.4,483.5 139.8,483.5 142.8,479.5 145.2,477.5 145.8,477.5 146,476.5 148.8,476.5 151.8,475.5 154.6,475.5 154.8,477.5 157,495.5 157.8,504.5 159,516.5 160.8,516.5 163,515.5" fill="none" stroke="#a07060" stroke-width="1"/>
<polyline points="94.8,486.5 97.8,486.5 100.8,486.5 103.8,486.5 106.8,486.5 109.8,486.5 112.8,487.5 115.8,487.5 118.8,487.5 121.8,487.5 124.8,487.5 127.8,487.5 130.8,487.5 131.6,487.5 133.8,486.5 136.8,485.5 139.4,484.5 139.8,484.5 142.8,481.5 145.2,478.5 145.8,477.5 146,477.5 148.8,477.5 151.8,476.5 154.6,475.5 154.8,477.5 157,495.5 157.8,504.5 159,517.5 160.8,516.5 163,515.5" fill="none" stroke="#ffa500" stroke-width="1"/>
<polyline points="94.8,487.5 97.8,487.5 100.8,487.5 103.8,487.5 106.8,487.5 109.8,488.5 112.8,488.5 115.8,488.5 118.8,488.5 121.8,488.5 124.8,488.5 127.8,488.5 130.8,487.5 131.6,487.5 133.8,487.5 136.8,486.5 139.4,485.5 139.8,485.5 142.8,481.5 145.2,478.5 145.8,478.5 146,478.5 148.8,477.5 151.8,476.5 154.6,476.5 154.8,477.5 157,496.5 157.8,505.5 159,518.5 160.8,517.5 163,517.5" fill="none" stroke="#00ff00" stroke-width="1"/>
<polyline points="94.8,489.5 97.8,489.5 100.8,489.5 103.8,489.5 106.8,489.5 109.8,489.5 112.8,489.5 115.8,489.5 118.8,488.5 121.8,488.5 124.8,488.5 127.8,488.5 130.8,488.5 131.6,488.5 133.8,487.5 136.8,487.5 139.4,486.5 139.8,485.5 142.8,482.5 145.2,479.5 145.8,478.5 146,478.5 148.8,477.5 151.8,477.5 154.6,476.5 154.8,478.5 157,496.5 157.8,505.5 159,519.5 160.8,518.5 163,518.5" fill="none" stroke="#ff0000" stroke-width="1"/>
<polyline points="94.8,490.5 97.8,489.5 100.8,489.5 103.8,489.5 106.8,489.5 109.8,489.5 112.8,489.5 115.8,489.5 118.8,489.5 121.8,489.5 124.8,489.5 127.8,489.5 130.8,490.5 131.6,490.5 133.8,489.5 136.8,488.5 139.4,487.5 139.8,487.5 142.8,483.5 145.2,480.5 145.8,479.5 146,479.5 148.8,478.5 151.8,477.5 154.6,476.5 154.8,478.5 157,496.5 157.8,506.5 159,520.5 160.8,519.5 163,519.5" fill="none" stroke="#b000ff" stroke-width="1"/>
<polyline points="94.8,490.5 97.8,490.5 100.8,490.5 103.8,490.5 106.8,490.5 109.8,490.5 112.8,490.5 115.8,490.5 118.8,490.5 121.8,490.5 124.8,490.5 127.8,490.5 130.8,490.5 131.6,490.5 133.8,490.5 136.8,489.5 139.4,488.5 139.8,488.5 142.8,484.5 145.2,481.5 145.8,480.5 146,480.5 148.8,479.5 151.8,478.5 154.6,478.5 154.8,479.5 157,497.5 157.8,507.5 159,521.5 160.8,521.5 163,520.5" fill="none" stroke="#ff00ff" stroke-width="1"/>
<polyline points="94.8,492.5 97.8,492.5 100.8,492.5 103.8,491.5 106.8,491.5 109.8,491.5 112.8,491.5 115.8,491.5 118.8,491.5 121.8,491.5 124.8,491.5 127.8,491.5 130.8,491.5 131.6,491.5 133.8,491.5 136.8,490.5 139.4,489.5 139.8,489.5 142.8,484.5 145.2,481.5 145.8,480.5 146,480.5 148.8,479.5 151.8,478.5 154.6,477.5 154.8,479.5 157,497.5 157.8,507.5 159,521.5 160.8,521.5 163,521.5" fill="none" stroke="#000000" stroke-width="1"/>
<polyline points="94.8,492.5 97.8,492.5 100.8,492.5 103.8,492.5 106.8,492.5 109.8,492.5 112.8,492.5 115.8,492.5 118.8,492.5 121.8,492.5 124.8,492.5 127.8,492.5 130.8,492.5 131.6,492.5 133.8,491.5 136.8,490.5 139.4,489.5 139.8,489.5 142.8,485.5 145.2,481.5 145.8,480.5 146,480.5 148.8,479.5 151.8,479.5 154.6,478.5 154.8,480.5 157,498.5 157.8,508.5 159,522.5 160.8,523.5 163,523.5" fill="none" stroke="#00ff00" stroke-width="1"/>
<polyline points="94.8,493.5 97.8,493.5 100.8,493.5 103.8,493.5 106.8,494.5 109.8,494.5 112.8,494.5 115.8,494.5 118.8,494.5 121.8,493.5 124.8,493.5 127.8,493.5 130.8,493.5 131.6,493.5 133.8,493.5 136.8,491.5 139.4,491.5 139.8,490.5 142.8,485.5 145.2,482.5 145.8,481.5 146,481.5 148.8,480.5 151.8,479.5 154.6,478.5 154.8,480.5 157,498.5 157.8,508.5 159,523.5 160.8,523.5 163,523.5" fill="none" stroke="#c0ff00" stroke-width="1"/>
<polyline points="94.8,495.5 97.8,495.5 100.8,494.5 103.8,494.5 106.8,494.5 109.8,494.5 112.8,494.5 115.8,494.5 118.8,494.5 121.8,494.5 124.8,494.5 127.8,494.5 130.8,494.5 131.6,494.5 133.8,493.5 136.8,492.5 139.4,491.5 139.8,490.5 142.8,486.5 145.2,482.5 145.8,481.5 146,481.5 148.8,480.5 151.8,479.5 154.6,478.5 154.8,480.5 157,498.5 157.8,508.5 159,524.5 160.8,524.5 163,524.5" fill="none" stroke="#00ffff" stroke-width="1"/>
<polyline points="94.8,495.5 97.8,495.5 100.8,495.5 103.8,495.5 106.8,495.5 109.8,495.5 112.8,495.5 115.8,495.5 118.8,495.5 121.8,495.5 124.8,495.5 127.8,495.5 130.8,495.5 131.6,495.5 133.8,494.5 136.8,493.5 139.4,492.5 139.8,492.5 142.8,487.5 145.2,483.5 145.8,482.5 146,482.5 148.8,481.5 151.8,480.5 154.6,479.5 154.8,481.5 157,499.5 157.8,509.5 159,525.5 160.8,525.5 163,526.5" fill="none" stroke="#00ffff" stroke-width="1"/>
<polyline points="94.8,496.5 97.8,496.5 100.8,496.5 103.8,496.5 106.8,496.5 109.8,496.5 112.8,496.5 115.8,496.5 118.8,496.5 121.8,496.5 124.8,496.5 127.8,496.5 130.8,496.5 131.6,496.5 133.8,495.5 136.8,494.5 139.4,493.5 139.8,492.5 142.8,487.5 145.2,483.5 145.8,482.5 146,482.5 148.8,481.5 151.8,480.5 154.6,479.5 154.8,481.5 157,499.5 157.8,510.5 159,526.5 160.8,526.5 163,527.5" fill="none" stroke="#a07060" stroke-width="1"/>
<polyline points="94.8,497.5 97.8,497.5 100.8,497.5 103.8,497.5 106.8,497.5 109.8,497.5 112.8,497.5 115.8,497.5 118.8,497.5 121.8,497.5 124.8,497.5 127.8,497.5 130.8,497.5 131.6,497.5 133.8,496.5 136.8,495.5 139.4,494.5 139.8,493.5 142.8,488.5 145.2,484.5 145.8,483.5 146,482.5 148.8,482.5 151.8,481.5 154.6,480.5 154.8,482.5 157,499.5 157.8,510.5 159,526.5 160.8,527.5 163,528.5" fill="none" stroke="#b000ff" stroke-width="1"/>
<polyline points="94.8,498.5 97.8,498.5 100.8,498.5 103.8,498.5 106.8,498.5 109.8,498.5 112.8,498.5 115.8,498.5 118.8,498.5 121.8,498.5 124.8,498.5 127.8,498.5 130.8,498.5 131.6,498.5 133.8,497.5 136.8,496.5 139.4,495.5 139.8,494.5 142.8,489.5 145.2,484.5 145.8,483.5 146,483.5 148.8,482.5 151.8,481.5 154.6,480.5 154.8,482.5 157,499.5 157.8,510.5 159,527.5 160.8,528.5 163,529.5" fill="none" stroke="#0000ff" stroke-width="1"/>
<polyline points="94.8,502.5 138,502.5 146,490.5 155,486.5 157,505.5" fill="none" stroke="#969696" stroke-width="1"/>
<polyline points="94.8,504.5 110,503.5 138,504.5 146,495.5 155,491.5 157,508.5" fill="none" stroke="#c0ff00" stroke-width="1"/>
<polyline points="94.8,506.5 100,505.5 138,505.5 142,501.5 148,497.5 153,498.5 157,510.5" fill="none" stroke="#ff0000" stroke-width="1"/>
<polyline points="138,506.5 143,499.5 149,495.5 155,495.5 157,510.5" fill="none" stroke="#00ff00" stroke-width="1"/>
<polyline points="143,505.5 147,500.5 152,499.5 156,503.5" fill="none" stroke="#ffa500" stroke-width="1"/>
<polyline points="145,507.5 149,503.5 153,502.5 156,505.5" fill="none" stroke="#a0645a" stroke-width="1"/>
<polyline points="107,508.5 109,511.5 116,512.5 126,510.5 140,509.5 147,506.5 155,505.5" fill="none" stroke="#a0645a" stroke-width="1"/>
<polyline points="94.8,512.5 113,512.5 137,511.5 146,509.5 156,511.5" fill="none" stroke="#ffa500" stroke-width="1"/>
<polyline points="94.8,515.5 105,514.5 140,515.5 148,512.5" fill="none" stroke="#c0ff00" stroke-width="1"/>
<polyline points="94.8,516.5 107,518.5 120,519.5 137,519.5 145,515.5 153,514.5 157,516.5" fill="none" stroke="#ffa500" stroke-width="1"/>
<polyline points="94.8,517.5 105,520.5 118,522.5 128,524.5 133.5,527.5 138,527.5 143.3,523.5 148,520.5 153,518.5 157,522.5" fill="none" stroke="#ff0000" stroke-width="1"/>
<polyline points="133,508.5 134,518.5 135,527.5 145,526.5 152,524.5 157,525.5" fill="none" stroke="#969696" stroke-width="1"/>
<polyline points="94.8,525.5 120,525.5 130,526.5 137,527.5 143,524.5 150,522.5 156,523.5" fill="none" stroke="#ffa500" stroke-width="1"/>
<polyline points="94.8,526.5 125,527.5 133,528.5 140,527.5" fill="none" stroke="#ff0000" stroke-width="1"/>
<polyline points="157.5,507.5 160.5,506.5 163,505.5" fill="none" stroke="#ffa500" stroke-width="1"/>
<polyline points="157.5,509.5 160.5,508.5 163,507.5" fill="none" stroke="#00ff00" stroke-width="1"/>
<polyline points="157.5,510.5 160.5,509.5 163,508.5" fill="none" stroke="#ff0000" stroke-width="1"/>
<polyline points="157.5,512.5 160.5,511.5 163,510.5" fill="none" stroke="#b000ff" stroke-width="1"/>
<polyline points="157.5,512.5 160.5,512.5 163,511.5" fill="none" stroke="#ff00ff" stroke-width="1"/>
<polyline points="157.5,514.5 160.5,514.5 163,513.5" fill="none" stroke="#000000" stroke-width="1"/>
<polyline points="157.5,515.5 160.5,515.5 163,514.5" fill="none" stroke="#00ff00" stroke-width="1"/>
<polyline points="157.5,517.5 160.5,517.5 163,516.5" fill="none" stroke="#c0ff00" stroke-width="1"/>
<polyline points="157.5,519.5 160.5,518.5 163,518.5" fill="none" stroke="#00ffff" stroke-width="1"/>
<polyline points="157.5,520.5 160.5,520.5 163,520.5" fill="none" stroke="#00ffff" stroke-width="1"/>
<polyline points="157.5,521.5 160.5,521.5 163,521.5" fill="none" stroke="#a07060" stroke-width="1"/>
<polyline points="157.5,522.5 160.5,522.5 163,522.5" fill="none" stroke="#b000ff" stroke-width="1"/>
<polyline points="157.5,524.5 160.5,524.5 163,524.5" fill="none" stroke="#0000ff" stroke-width="1"/>
<polyline points="157.5,525.5 160.5,526.5 163,526.5" fill="none" stroke="#0080ff" stroke-width="1"/>
<polyline points="157.5,526.5 160.5,527.5 163,527.5" fill="none" stroke="#ffff00" stroke-width="1"/>
<polyline points="157.5,527.5 160.5,528.5 163,528.5" fill="none" stroke="#ff00ff" stroke-width="1"/>
<polyline points="160,531.5 163,531.5" fill="none" stroke="#c0ff00" stroke-width="1"/>
<polyline points="160,532.5 163,532.5" fill="none" stroke="#ff00ff" stroke-width="1"/>
<polyline points="94.8,478.5 131.6,478.5 139.4,477.5 145.2,473.5 154.6,472.5 157,494.5 158.9,511.5 162.8,507.5" fill="none" stroke="#000" stroke-width="1"/>
<polyline points="154.6,473.5 157.5,494.5 159.5,514.5" fill="none" stroke="#000" stroke-width="1"/>
<polyline points="176,505.5 179,505.5 182,506.5 185,507.5 186.3,507.5 188,506.5 190,505.5 191,504.5 192,502.5 194,499.5 194.6,498.5" fill="none" stroke="#ff00ff" stroke-width="1"/>
<polyline points="176,506.5 179,507.5 182,507.5 185,508.5 186.3,508.5 188,507.5 190,506.5 191,504.5 192,503.5 194,500.5 194.6,499.5" fill="none" stroke="#ff0000" stroke-width="1"/>
<polyline points="176,507.5 179,508.5 182,508.5 185,509.5 186.3,509.5 188,508.5 190,507.5 191,506.5 192,504.5 194,501.5 194.6,501.5" fill="none" stroke="#0000ff" stroke-width="1"/>
<polyline points="176,508.5 179,509.5 182,509.5 185,509.5 186.3,510.5 188,509.5 190,508.5 191,506.5 192,505.5 194,502.5 194.6,502.5" fill="none" stroke="#ffa500" stroke-width="1"/>
<polyline points="176,509.5 179,509.5 182,510.5 185,510.5 186.3,510.5 188,510.5 190,509.5 191,508.5 192,507.5 194,504.5 194.6,503.5" fill="none" stroke="#ff00ff" stroke-width="1"/>
<polyline points="176,511.5 179,511.5 182,511.5 185,512.5 186.3,512.5 188,511.5 190,510.5 191,509.5 192,508.5 194,505.5 194.6,504.5" fill="none" stroke="#969696" stroke-width="1"/>
<polyline points="176,511.5 179,511.5 182,512.5 185,512.5 186.3,513.5 188,512.5 190,511.5 191,510.5 192,509.5 194,507.5 194.6,506.5" fill="none" stroke="#a07060" stroke-width="1"/>
<polyline points="176,513.5 179,513.5 182,513.5 185,514.5 186.3,514.5 188,513.5 190,512.5 191,511.5 192,510.5 194,508.5 194.6,507.5" fill="none" stroke="#ffa500" stroke-width="1"/>
<polyline points="176,513.5 179,514.5 182,514.5 185,515.5 186.3,515.5 188,514.5 190,514.5 191,513.5 192,512.5 194,509.5 194.6,509.5" fill="none" stroke="#00ff00" stroke-width="1"/>
<polyline points="176,514.5 179,514.5 182,514.5 185,515.5 186.3,515.5 188,514.5 190,514.5 191,513.5 192,512.5 194,510.5 194.6,509.5" fill="none" stroke="#ff0000" stroke-width="1"/>
<polyline points="176,515.5 179,515.5 182,515.5 185,516.5 186.3,516.5 188,515.5 190,515.5 191,514.5 192,513.5 194,511.5 194.6,511.5" fill="none" stroke="#b000ff" stroke-width="1"/>
<polyline points="176,517.5 179,517.5 182,517.5 185,517.5 186.3,517.5 188,517.5 190,516.5 191,515.5 192,514.5 194,512.5 194.6,512.5" fill="none" stroke="#ff00ff" stroke-width="1"/>
<polyline points="176,518.5 179,518.5 182,518.5 185,518.5 186.3,518.5 188,518.5 190,518.5 191,517.5 192,516.5 194,514.5 194.6,514.5" fill="none" stroke="#000000" stroke-width="1"/>
<polyline points="176,518.5 179,519.5 182,519.5 185,519.5 186.3,519.5 188,519.5 190,519.5 191,518.5 192,517.5 194,516.5 194.6,515.5" fill="none" stroke="#00ff00" stroke-width="1"/>
<polyline points="176,520.5 179,520.5 182,520.5 185,520.5 186.3,520.5 188,520.5 190,520.5 191,519.5 192,518.5 194,516.5 194.6,516.5" fill="none" stroke="#c0ff00" stroke-width="1"/>
<polyline points="176,520.5 179,520.5 182,520.5 185,520.5 186.3,520.5 188,520.5 190,520.5 191,520.5 192,519.5 194,517.5 194.6,517.5" fill="none" stroke="#00ffff" stroke-width="1"/>
<polyline points="176,522.5 179,522.5 182,522.5 185,522.5 186.3,522.5 188,522.5 190,522.5 191,521.5 192,520.5 194,519.5 194.6,518.5" fill="none" stroke="#00ffff" stroke-width="1"/>
<polyline points="185,506.5 188,504.5 191,498.5 194.6,489.5" fill="none" stroke="#ffff00" stroke-width="1"/>
<polyline points="187,506.5 190,503.5 194.6,492.5" fill="none" stroke="#00ff00" stroke-width="1"/>
<polyline points="188,507.5 191,503.5 194.6,495.5" fill="none" stroke="#00ffff" stroke-width="1"/>
<polyline points="176,504.5 184.3,505.5 186.3,506.5 192.1,497.5 194.6,487.5" fill="none" stroke="#000" stroke-width="1"/>
<polyline points="176,503.5 182,503.5 186,505.5" fill="none" stroke="#ff00ff" stroke-width="1"/>
<polyline points="176,524.5 186,525.5 190,523.5" fill="none" stroke="#c0ff00" stroke-width="1"/>
<polyline points="198.4,490.5 201.4,494.5 202.2,495.5 204,496.5 204.4,496.5 207.4,498.5 208.3,498.5 210.4,501.5 212,503.5 213.4,503.5 216.4,504.5 219.4,505.5 222.4,505.5 223,505.5 224,498.5 224.9,491.5 225.4,491.5 227,492.5 228.4,492.5 231.4,493.5 234,494.5 234.4,494.5 237.4,494.5 240.4,494.5 243.4,494.5 246.4,494.5 249.4,495.5 252.4,495.5 253.5,495.5 255.4,496.5 258.4,497.5 260,498.5 260.8,498.5 261.4,498.5 264.4,498.5 267.4,498.5 270.4,498.5 273.4,498.5 275.4,498.5 276.4,498.5 279.4,498.5 282.4,498.5 285.4,498.5 288.4,497.5 291.4,497.5 294.4,497.5 297.4,496.5 300.4,496.5 303.4,496.5 306.4,496.5 309.4,496.5 312,496.5 312.4,496.5 315.4,496.5 318.4,497.5 321.4,497.5 324.4,497.5 327.4,497.5 330.4,497.5 333.4,497.5 336.4,497.5 339.4,497.5 342.4,496.5 345.4,496.5 348.4,496.5 348.7,496.5 351.4,496.5 354.4,496.5 357.4,496.5 360.4,496.5 363.4,497.5 366.4,497.5 369.4,497.5 372.4,498.5 375.4,498.5 378.4,498.5 380.4,498.5 381.4,499.5 384.4,500.5 385.3,500.5 387.4,500.5 390.4,500.5 393.4,500.5 396.4,500.5 399.4,500.5 402.4,500.5 405.4,500.5 408.4,500.5 409.7,500.5 411.4,500.5 414.4,501.5 417.4,501.5 420.4,501.5 423.4,501.5 426.4,502.5 429.4,502.5 430,502.5" fill="none" stroke="#ff00ff" stroke-width="1"/>
<polyline points="198.4,492.5 201.4,496.5 202.2,497.5 204,498.5 204.4,498.5 207.4,499.5 208.3,500.5 210.4,502.5 212,504.5 213.4,504.5 216.4,505.5 219.4,506.5 222.4,506.5 223,506.5 224,499.5 224.9,493.5 225.4,493.5 227,493.5 228.4,493.5 231.4,494.5 234,495.5 234.4,495.5 237.4,495.5 240.4,496.5 243.4,496.5 246.4,496.5 249.4,497.5 252.4,497.5 253.5,497.5 255.4,498.5 258.4,499.5 260,499.5 260.8,499.5 261.4,499.5 264.4,499.5 267.4,499.5 270.4,499.5 273.4,498.5 275.4,498.5 276.4,498.5 279.4,498.5 282.4,498.5 285.4,498.5 288.4,498.5 291.4,497.5 294.4,497.5 297.4,497.5 300.4,497.5 303.4,497.5 306.4,497.5 309.4,497.5 312,497.5 312.4,497.5 315.4,497.5 318.4,497.5 321.4,497.5 324.4,497.5 327.4,498.5 330.4,498.5 333.4,498.5 336.4,498.5 339.4,498.5 342.4,498.5 345.4,498.5 348.4,498.5 348.7,498.5 351.4,498.5 354.4,498.5 357.4,498.5 360.4,498.5 363.4,498.5 366.4,498.5 369.4,499.5 372.4,499.5 375.4,499.5 378.4,499.5 380.4,499.5 381.4,499.5 384.4,500.5 385.3,500.5 387.4,500.5 390.4,500.5 393.4,500.5 396.4,500.5 399.4,500.5 402.4,501.5 405.4,501.5 408.4,501.5 409.7,501.5 411.4,501.5 414.4,501.5 417.4,501.5 420.4,501.5 423.4,501.5 426.4,501.5 429.4,501.5 430,501.5" fill="none" stroke="#ff0000" stroke-width="1"/>
<polyline points="198.4,494.5 201.4,498.5 202.2,499.5 204,500.5 204.4,500.5 207.4,501.5 208.3,501.5 210.4,503.5 212,505.5 213.4,505.5 216.4,505.5 219.4,506.5 222.4,506.5 223,506.5 224,499.5 224.9,493.5 225.4,493.5 227,493.5 228.4,493.5 231.4,494.5 234,495.5 234.4,495.5 237.4,496.5 240.4,496.5 243.4,497.5 246.4,497.5 249.4,498.5 252.4,498.5 253.5,498.5 255.4,499.5 258.4,500.5 260,500.5 260.8,501.5 261.4,500.5 264.4,500.5 267.4,500.5 270.4,499.5 273.4,499.5 275.4,499.5 276.4,499.5 279.4,499.5 282.4,499.5 285.4,499.5 288.4,499.5 291.4,499.5 294.4,499.5 297.4,499.5 300.4,499.5 303.4,499.5 306.4,499.5 309.4,499.5 312,499.5 312.4,499.5 315.4,499.5 318.4,499.5 321.4,498.5 324.4,498.5 327.4,498.5 330.4,498.5 333.4,498.5 336.4,498.5 339.4,498.5 342.4,498.5 345.4,498.5 348.4,498.5 348.7,498.5 351.4,499.5 354.4,499.5 357.4,499.5 360.4,499.5 363.4,499.5 366.4,499.5 369.4,499.5 372.4,499.5 375.4,499.5 378.4,499.5 380.4,499.5 381.4,499.5 384.4,500.5 385.3,500.5 387.4,500.5 390.4,501.5 393.4,501.5 396.4,501.5 399.4,501.5 402.4,502.5 405.4,502.5 408.4,503.5 409.7,503.5 411.4,503.5 414.4,503.5 417.4,503.5 420.4,503.5 423.4,503.5 426.4,503.5 429.4,502.5 430,502.5" fill="none" stroke="#0000ff" stroke-width="1"/>
<polyline points="198.4,495.5 201.4,498.5 202.2,499.5 204,500.5 204.4,500.5 207.4,501.5 208.3,501.5 210.4,504.5 212,506.5 213.4,506.5 216.4,506.5 219.4,507.5 222.4,508.5 223,508.5 224,501.5 224.9,495.5 225.4,495.5 227,495.5 228.4,496.5 231.4,497.5 234,497.5 234.4,497.5 237.4,498.5 240.4,498.5 243.4,498.5 246.4,498.5 249.4,499.5 252.4,499.5 253.5,499.5 255.4,499.5 258.4,500.5 260,501.5 260.8,501.5 261.4,501.5 264.4,500.5 267.4,500.5 270.4,500.5 273.4,500.5 275.4,500.5 276.4,500.5 279.4,500.5 282.4,500.5 285.4,500.5 288.4,500.5 291.4,500.5 294.4,500.5 297.4,500.5 300.4,500.5 303.4,500.5 306.4,500.5 309.4,500.5 312,500.5 312.4,500.5 315.4,500.5 318.4,500.5 321.4,500.5 324.4,500.5 327.4,500.5 330.4,500.5 333.4,500.5 336.4,499.5 339.4,499.5 342.4,499.5 345.4,499.5 348.4,499.5 348.7,499.5 351.4,499.5 354.4,499.5 357.4,499.5 360.4,499.5 363.4,499.5 366.4,499.5 369.4,499.5 372.4,500.5 375.4,500.5 378.4,500.5 380.4,500.5 381.4,501.5 384.4,502.5 385.3,502.5 387.4,502.5 390.4,502.5 393.4,503.5 396.4,503.5 399.4,503.5 402.4,503.5 405.4,503.5 408.4,503.5 409.7,503.5 411.4,503.5 414.4,503.5 417.4,503.5 420.4,503.5 423.4,503.5 426.4,503.5 429.4,503.5 430,503.5" fill="none" stroke="#ffa500" stroke-width="1"/>
<polyline points="198.4,497.5 201.4,501.5 202.2,502.5 204,502.5 204.4,502.5 207.4,503.5 208.3,503.5 210.4,505.5 212,507.5 213.4,507.5 216.4,507.5 219.4,507.5 222.4,507.5 223,507.5 224,502.5 224.9,496.5 225.4,496.5 227,496.5 228.4,496.5 231.4,497.5 234,498.5 234.4,498.5 237.4,498.5 240.4,499.5 243.4,499.5 246.4,500.5 249.4,500.5 252.4,500.5 253.5,500.5 255.4,500.5 258.4,501.5 260,501.5 260.8,501.5 261.4,501.5 264.4,501.5 267.4,501.5 270.4,501.5 273.4,501.5 275.4,501.5 276.4,501.5 279.4,501.5 282.4,501.5 285.4,501.5 288.4,501.5 291.4,501.5 294.4,501.5 297.4,501.5 300.4,501.5 303.4,500.5 306.4,500.5 309.4,500.5 312,500.5 312.4,500.5 315.4,500.5 318.4,500.5 321.4,500.5 324.4,500.5 327.4,501.5 330.4,501.5 333.4,501.5 336.4,501.5 339.4,501.5 342.4,500.5 345.4,500.5 348.4,500.5 348.7,500.5 351.4,500.5 354.4,500.5 357.4,500.5 360.4,500.5 363.4,500.5 366.4,501.5 369.4,501.5 372.4,501.5 375.4,502.5 378.4,502.5 380.4,502.5 381.4,502.5 384.4,503.5 385.3,503.5 387.4,503.5 390.4,503.5 393.4,502.5 396.4,502.5 399.4,502.5 402.4,503.5 405.4,503.5 408.4,503.5 409.7,503.5 411.4,504.5 414.4,504.5 417.4,504.5 420.4,504.5 423.4,504.5 426.4,504.5 429.4,504.5 430,504.5" fill="none" stroke="#ff00ff" stroke-width="1"/>
<polyline points="198.4,498.5 201.4,501.5 202.2,502.5 204,503.5 204.4,503.5 207.4,504.5 208.3,504.5 210.4,506.5 212,508.5 213.4,508.5 216.4,508.5 219.4,509.5 222.4,509.5 223,509.5 224,504.5 224.9,498.5 225.4,498.5 227,498.5 228.4,498.5 231.4,499.5 234,500.5 234.4,500.5 237.4,500.5 240.4,500.5 243.4,500.5 246.4,501.5 249.4,501.5 252.4,501.5 253.5,501.5 255.4,502.5 258.4,502.5 260,503.5 260.8,503.5 261.4,503.5 264.4,503.5 267.4,502.5 270.4,502.5 273.4,502.5 275.4,502.5 276.4,502.5 279.4,502.5 282.4,501.5 285.4,501.5 288.4,501.5 291.4,501.5 294.4,501.5 297.4,501.5 300.4,501.5 303.4,501.5 306.4,501.5 309.4,501.5 312,501.5 312.4,501.5 315.4,501.5 318.4,501.5 321.4,501.5 324.4,501.5 327.4,501.5 330.4,501.5 333.4,501.5 336.4,501.5 339.4,502.5 342.4,502.5 345.4,502.5 348.4,502.5 348.7,502.5 351.4,502.5 354.4,502.5 357.4,502.5 360.4,502.5 363.4,502.5 366.4,502.5 369.4,502.5 372.4,502.5 375.4,502.5 378.4,502.5 380.4,502.5 381.4,502.5 384.4,503.5 385.3,503.5 387.4,503.5 390.4,503.5 393.4,503.5 396.4,503.5 399.4,503.5 402.4,503.5 405.4,503.5 408.4,504.5 409.7,504.5 411.4,504.5 414.4,504.5 417.4,504.5 420.4,504.5 423.4,504.5 426.4,504.5 429.4,504.5 430,504.5" fill="none" stroke="#969696" stroke-width="1"/>
<polyline points="198.4,500.5 201.4,503.5 202.2,504.5 204,505.5 204.4,505.5 207.4,505.5 208.3,506.5 210.4,507.5 212,509.5 213.4,509.5 216.4,509.5 219.4,509.5 222.4,509.5 223,509.5 224,504.5 224.9,499.5 225.4,499.5 227,498.5 228.4,498.5 231.4,499.5 234,499.5 234.4,499.5 237.4,500.5 240.4,500.5 243.4,501.5 246.4,501.5 249.4,501.5 252.4,502.5 253.5,502.5 255.4,502.5 258.4,503.5 260,504.5 260.8,504.5 261.4,504.5 264.4,504.5 267.4,504.5 270.4,504.5 273.4,504.5 275.4,503.5 276.4,503.5 279.4,503.5 282.4,503.5 285.4,503.5 288.4,502.5 291.4,502.5 294.4,502.5 297.4,502.5 300.4,502.5 303.4,502.5 306.4,502.5 309.4,502.5 312,502.5 312.4,502.5 315.4,502.5 318.4,502.5 321.4,502.5 324.4,502.5 327.4,503.5 330.4,503.5 333.4,503.5 336.4,503.5 339.4,503.5 342.4,503.5 345.4,502.5 348.4,502.5 348.7,502.5 351.4,502.5 354.4,502.5 357.4,502.5 360.4,502.5 363.4,502.5 366.4,502.5 369.4,502.5 372.4,502.5 375.4,502.5 378.4,502.5 380.4,503.5 381.4,503.5 384.4,504.5 385.3,504.5 387.4,504.5 390.4,504.5 393.4,505.5 396.4,505.5 399.4,505.5 402.4,505.5 405.4,505.5 408.4,505.5 409.7,505.5 411.4,505.5 414.4,505.5 417.4,505.5 420.4,505.5 423.4,505.5 426.4,505.5 429.4,505.5 430,505.5" fill="none" stroke="#a07060" stroke-width="1"/>
<polyline points="198.4,501.5 201.4,504.5 202.2,504.5 204,505.5 204.4,505.5 207.4,506.5 208.3,506.5 210.4,508.5 212,509.5 213.4,510.5 216.4,510.5 219.4,510.5 222.4,511.5 223,511.5 224,506.5 224.9,501.5 225.4,501.5 227,500.5 228.4,501.5 231.4,501.5 234,502.5 234.4,502.5 237.4,502.5 240.4,502.5 243.4,502.5 246.4,502.5 249.4,503.5 252.4,503.5 253.5,503.5 255.4,503.5 258.4,504.5 260,504.5 260.8,504.5 261.4,504.5 264.4,504.5 267.4,504.5 270.4,503.5 273.4,503.5 275.4,503.5 276.4,503.5 279.4,503.5 282.4,503.5 285.4,503.5 288.4,503.5 291.4,503.5 294.4,503.5 297.4,503.5 300.4,503.5 303.4,503.5 306.4,503.5 309.4,504.5 312,504.5 312.4,504.5 315.4,504.5 318.4,504.5 321.4,504.5 324.4,504.5 327.4,504.5 330.4,504.5 333.4,503.5 336.4,503.5 339.4,503.5 342.4,503.5 345.4,503.5 348.4,503.5 348.7,503.5 351.4,503.5 354.4,503.5 357.4,503.5 360.4,503.5 363.4,503.5 366.4,503.5 369.4,503.5 372.4,503.5 375.4,503.5 378.4,503.5 380.4,503.5 381.4,504.5 384.4,504.5 385.3,505.5 387.4,505.5 390.4,505.5 393.4,505.5 396.4,505.5 399.4,506.5 402.4,506.5 405.4,506.5 408.4,506.5 409.7,506.5 411.4,506.5 414.4,506.5 417.4,506.5 420.4,506.5 423.4,506.5 426.4,506.5 429.4,506.5 430,506.5" fill="none" stroke="#ffa500" stroke-width="1"/>
<polyline points="198.4,502.5 201.4,505.5 202.2,505.5 204,506.5 204.4,506.5 207.4,507.5 208.3,507.5 210.4,509.5 212,510.5 213.4,510.5 216.4,511.5 219.4,511.5 222.4,512.5 223,512.5 224,508.5 224.9,503.5 225.4,503.5 227,502.5 228.4,502.5 231.4,502.5 234,503.5 234.4,503.5 237.4,503.5 240.4,503.5 243.4,503.5 246.4,503.5 249.4,503.5 252.4,503.5 253.5,503.5 255.4,504.5 258.4,504.5 260,505.5 260.8,505.5 261.4,505.5 264.4,505.5 267.4,505.5 270.4,505.5 273.4,505.5 275.4,505.5 276.4,505.5 279.4,505.5 282.4,505.5 285.4,505.5 288.4,505.5 291.4,504.5 294.4,504.5 297.4,504.5 300.4,504.5 303.4,504.5 306.4,504.5 309.4,504.5 312,504.5 312.4,504.5 315.4,504.5 318.4,504.5 321.4,504.5 324.4,505.5 327.4,505.5 330.4,505.5 333.4,504.5 336.4,504.5 339.4,504.5 342.4,504.5 345.4,504.5 348.4,503.5 348.7,503.5 351.4,503.5 354.4,503.5 357.4,504.5 360.4,504.5 363.4,504.5 366.4,504.5 369.4,505.5 372.4,505.5 375.4,505.5 378.4,505.5 380.4,505.5 381.4,505.5 384.4,506.5 385.3,506.5 387.4,506.5 390.4,506.5 393.4,506.5 396.4,505.5 399.4,505.5 402.4,505.5 405.4,506.5 408.4,506.5 409.7,506.5 411.4,506.5 414.4,506.5 417.4,506.5 420.4,507.5 423.4,507.5 426.4,507.5 429.4,507.5 430,507.5" fill="none" stroke="#00ff00" stroke-width="1"/>
<polyline points="198.4,504.5 201.4,506.5 202.2,507.5 204,507.5 204.4,507.5 207.4,508.5 208.3,508.5 210.4,510.5 212,511.5 213.4,511.5 216.4,511.5 219.4,512.5 222.4,512.5 223,512.5 224,508.5 224.9,504.5 225.4,504.5 227,502.5 228.4,503.5 231.4,503.5 234,504.5 234.4,504.5 237.4,504.5 240.4,504.5 243.4,505.5 246.4,505.5 249.4,505.5 252.4,505.5 253.5,505.5 255.4,505.5 258.4,506.5 260,506.5 260.8,506.5 261.4,506.5 264.4,506.5 267.4,506.5 270.4,506.5 273.4,505.5 275.4,505.5 276.4,505.5 279.4,505.5 282.4,505.5 285.4,505.5 288.4,505.5 291.4,505.5 294.4,505.5 297.4,505.5 300.4,505.5 303.4,505.5 306.4,505.5 309.4,505.5 312,505.5 312.4,505.5 315.4,505.5 318.4,505.5 321.4,505.5 324.4,505.5 327.4,505.5 330.4,505.5 333.4,505.5 336.4,505.5 339.4,505.5 342.4,505.5 345.4,505.5 348.4,505.5 348.7,505.5 351.4,505.5 354.4,505.5 357.4,505.5 360.4,505.5 363.4,505.5 366.4,505.5 369.4,505.5 372.4,505.5 375.4,505.5 378.4,505.5 380.4,505.5 381.4,505.5 384.4,506.5 385.3,506.5 387.4,506.5 390.4,506.5 393.4,506.5 396.4,506.5 399.4,507.5 402.4,507.5 405.4,507.5 408.4,507.5 409.7,507.5 411.4,507.5 414.4,508.5 417.4,508.5 420.4,508.5 423.4,508.5 426.4,508.5 429.4,508.5 430,508.5" fill="none" stroke="#ff0000" stroke-width="1"/>
<polyline points="198.4,506.5 201.4,508.5 202.2,508.5 204,509.5 204.4,509.5 207.4,509.5 208.3,509.5 210.4,510.5 212,511.5 213.4,511.5 216.4,512.5 219.4,512.5 222.4,512.5 223,512.5 224,509.5 224.9,505.5 225.4,505.5 227,503.5 228.4,503.5 231.4,504.5 234,504.5 234.4,505.5 237.4,505.5 240.4,505.5 243.4,505.5 246.4,506.5 249.4,506.5 252.4,506.5 253.5,506.5 255.4,507.5 258.4,507.5 260,507.5 260.8,507.5 261.4,507.5 264.4,507.5 267.4,507.5 270.4,507.5 273.4,507.5 275.4,506.5 276.4,506.5 279.4,506.5 282.4,506.5 285.4,506.5 288.4,506.5 291.4,506.5 294.4,506.5 297.4,506.5 300.4,506.5 303.4,506.5 306.4,506.5 309.4,506.5 312,506.5 312.4,506.5 315.4,506.5 318.4,506.5 321.4,506.5 324.4,506.5 327.4,506.5 330.4,506.5 333.4,506.5 336.4,506.5 339.4,506.5 342.4,506.5 345.4,506.5 348.4,506.5 348.7,506.5 351.4,506.5 354.4,506.5 357.4,506.5 360.4,506.5 363.4,506.5 366.4,506.5 369.4,506.5 372.4,506.5 375.4,506.5 378.4,506.5 380.4,506.5 381.4,506.5 384.4,507.5 385.3,507.5 387.4,507.5 390.4,507.5 393.4,507.5 396.4,508.5 399.4,508.5 402.4,508.5 405.4,508.5 408.4,508.5 409.7,508.5 411.4,508.5 414.4,508.5 417.4,508.5 420.4,508.5 423.4,508.5 426.4,508.5 429.4,508.5 430,508.5" fill="none" stroke="#b000ff" stroke-width="1"/>
<polyline points="198.4,508.5 201.4,510.5 202.2,510.5 204,511.5 204.4,511.5 207.4,511.5 208.3,511.5 210.4,513.5 212,513.5 213.4,513.5 216.4,514.5 219.4,514.5 222.4,514.5 223,514.5 224,511.5 224.9,507.5 225.4,507.5 227,505.5 228.4,505.5 231.4,505.5 234,505.5 234.4,505.5 237.4,506.5 240.4,506.5 243.4,506.5 246.4,506.5 249.4,506.5 252.4,506.5 253.5,506.5 255.4,506.5 258.4,507.5 260,507.5 260.8,507.5 261.4,507.5 264.4,507.5 267.4,507.5 270.4,507.5 273.4,507.5 275.4,507.5 276.4,507.5 279.4,508.5 282.4,508.5 285.4,508.5 288.4,508.5 291.4,508.5 294.4,508.5 297.4,508.5 300.4,508.5 303.4,507.5 306.4,507.5 309.4,507.5 312,507.5 312.4,507.5 315.4,507.5 318.4,507.5 321.4,507.5 324.4,506.5 327.4,506.5 330.4,506.5 333.4,506.5 336.4,506.5 339.4,506.5 342.4,506.5 345.4,506.5 348.4,506.5 348.7,506.5 351.4,506.5 354.4,507.5 357.4,507.5 360.4,507.5 363.4,507.5 366.4,507.5 369.4,507.5 372.4,508.5 375.4,508.5 378.4,508.5 380.4,508.5 381.4,508.5 384.4,508.5 385.3,508.5 387.4,508.5 390.4,508.5 393.4,508.5 396.4,508.5 399.4,508.5 402.4,508.5 405.4,508.5 408.4,508.5 409.7,508.5 411.4,508.5 414.4,508.5 417.4,508.5 420.4,508.5 423.4,508.5 426.4,508.5 429.4,508.5 430,508.5" fill="none" stroke="#ff00ff" stroke-width="1"/>
<polyline points="198.4,509.5 201.4,511.5 202.2,512.5 204,512.5 204.4,512.5 207.4,512.5 208.3,512.5 210.4,513.5 212,514.5 213.4,514.5 216.4,514.5 219.4,514.5 222.4,514.5 223,514.5 224,511.5 224.9,508.5 225.4,507.5 227,505.5 228.4,506.5 231.4,506.5 234,506.5 234.4,506.5 237.4,507.5 240.4,507.5 243.4,508.5 246.4,508.5 249.4,508.5 252.4,508.5 253.5,508.5 255.4,508.5 258.4,509.5 260,509.5 260.8,509.5 261.4,509.5 264.4,508.5 267.4,508.5 270.4,508.5 273.4,508.5 275.4,508.5 276.4,508.5 279.4,508.5 282.4,508.5 285.4,508.5 288.4,508.5 291.4,508.5 294.4,508.5 297.4,508.5 300.4,508.5 303.4,508.5 306.4,508.5 309.4,508.5 312,508.5 312.4,508.5 315.4,508.5 318.4,507.5 321.4,507.5 324.4,507.5 327.4,507.5 330.4,507.5 333.4,507.5 336.4,508.5 339.4,508.5 342.4,508.5 345.4,508.5 348.4,508.5 348.7,508.5 351.4,508.5 354.4,508.5 357.4,508.5 360.4,508.5 363.4,508.5 366.4,508.5 369.4,507.5 372.4,507.5 375.4,507.5 378.4,507.5 380.4,508.5 381.4,508.5 384.4,508.5 385.3,508.5 387.4,509.5 390.4,509.5 393.4,509.5 396.4,509.5 399.4,509.5 402.4,509.5 405.4,509.5 408.4,509.5 409.7,509.5 411.4,509.5 414.4,509.5 417.4,509.5 420.4,509.5 423.4,509.5 426.4,509.5 429.4,509.5 430,509.5" fill="none" stroke="#000000" stroke-width="1"/>
<polyline points="198.4,510.5 201.4,512.5 202.2,512.5 204,513.5 204.4,513.5 207.4,513.5 208.3,514.5 210.4,514.5 212,515.5 213.4,515.5 216.4,515.5 219.4,515.5 222.4,515.5 223,515.5 224,513.5 224.9,510.5 225.4,509.5 227,507.5 228.4,507.5 231.4,507.5 234,507.5 234.4,507.5 237.4,507.5 240.4,508.5 243.4,508.5 246.4,508.5 249.4,509.5 252.4,509.5 253.5,509.5 255.4,509.5 258.4,510.5 260,510.5 260.8,510.5 261.4,510.5 264.4,510.5 267.4,509.5 270.4,509.5 273.4,509.5 275.4,509.5 276.4,509.5 279.4,508.5 282.4,508.5 285.4,509.5 288.4,509.5 291.4,509.5 294.4,509.5 297.4,509.5 300.4,509.5 303.4,509.5 306.4,509.5 309.4,509.5 312,509.5 312.4,509.5 315.4,508.5 318.4,508.5 321.4,508.5 324.4,508.5 327.4,508.5 330.4,508.5 333.4,509.5 336.4,509.5 339.4,509.5 342.4,509.5 345.4,509.5 348.4,509.5 348.7,509.5 351.4,509.5 354.4,509.5 357.4,508.5 360.4,508.5 363.4,508.5 366.4,508.5 369.4,508.5 372.4,508.5 375.4,509.5 378.4,509.5 380.4,509.5 381.4,509.5 384.4,510.5 385.3,510.5 387.4,510.5 390.4,510.5 393.4,510.5 396.4,510.5 399.4,509.5 402.4,509.5 405.4,509.5 408.4,509.5 409.7,509.5 411.4,509.5 414.4,509.5 417.4,510.5 420.4,510.5 423.4,510.5 426.4,510.5 429.4,510.5 430,510.5" fill="none" stroke="#00ff00" stroke-width="1"/>
<polyline points="198.4,511.5 201.4,513.5 202.2,513.5 204,513.5 204.4,513.5 207.4,514.5 208.3,514.5 210.4,514.5 212,515.5 213.4,515.5 216.4,515.5 219.4,515.5 222.4,516.5 223,516.5 224,514.5 224.9,511.5 225.4,510.5 227,508.5 228.4,509.5 231.4,509.5 234,509.5 234.4,509.5 237.4,509.5 240.4,510.5 243.4,510.5 246.4,510.5 249.4,510.5 252.4,510.5 253.5,510.5 255.4,510.5 258.4,511.5 260,511.5 260.8,511.5 261.4,511.5 264.4,511.5 267.4,510.5 270.4,510.5 273.4,510.5 275.4,510.5 276.4,510.5 279.4,510.5 282.4,510.5 285.4,509.5 288.4,509.5 291.4,509.5 294.4,509.5 297.4,509.5 300.4,509.5 303.4,509.5 306.4,509.5 309.4,509.5 312,509.5 312.4,509.5 315.4,509.5 318.4,510.5 321.4,510.5 324.4,510.5 327.4,510.5 330.4,510.5 333.4,510.5 336.4,510.5 339.4,510.5 342.4,510.5 345.4,510.5 348.4,510.5 348.7,510.5 351.4,510.5 354.4,510.5 357.4,510.5 360.4,510.5 363.4,510.5 366.4,510.5 369.4,510.5 372.4,509.5 375.4,509.5 378.4,509.5 380.4,509.5 381.4,509.5 384.4,509.5 385.3,510.5 387.4,510.5 390.4,510.5 393.4,510.5 396.4,510.5 399.4,510.5 402.4,510.5 405.4,510.5 408.4,510.5 409.7,510.5 411.4,510.5 414.4,511.5 417.4,511.5 420.4,511.5 423.4,511.5 426.4,511.5 429.4,511.5 430,511.5" fill="none" stroke="#c0ff00" stroke-width="1"/>
<polyline points="198.4,514.5 201.4,515.5 202.2,515.5 204,516.5 204.4,516.5 207.4,516.5 208.3,516.5 210.4,517.5 212,517.5 213.4,517.5 216.4,517.5 219.4,517.5 222.4,517.5 223,517.5 224,515.5 224.9,513.5 225.4,512.5 227,510.5 228.4,510.5 231.4,510.5 234,510.5 234.4,510.5 237.4,510.5 240.4,510.5 243.4,510.5 246.4,510.5 249.4,510.5 252.4,510.5 253.5,510.5 255.4,511.5 258.4,511.5 260,511.5 260.8,511.5 261.4,511.5 264.4,511.5 267.4,511.5 270.4,511.5 273.4,511.5 275.4,511.5 276.4,511.5 279.4,511.5 282.4,511.5 285.4,511.5 288.4,511.5 291.4,511.5 294.4,511.5 297.4,510.5 300.4,510.5 303.4,510.5 306.4,510.5 309.4,510.5 312,510.5 312.4,510.5 315.4,510.5 318.4,510.5 321.4,510.5 324.4,510.5 327.4,511.5 330.4,511.5 333.4,511.5 336.4,511.5 339.4,511.5 342.4,511.5 345.4,511.5 348.4,511.5 348.7,511.5 351.4,511.5 354.4,511.5 357.4,511.5 360.4,511.5 363.4,510.5 366.4,510.5 369.4,510.5 372.4,510.5 375.4,510.5 378.4,510.5 380.4,510.5 381.4,510.5 384.4,510.5 385.3,510.5 387.4,511.5 390.4,511.5 393.4,511.5 396.4,511.5 399.4,511.5 402.4,511.5 405.4,512.5 408.4,512.5 409.7,512.5 411.4,512.5 414.4,512.5 417.4,512.5 420.4,512.5 423.4,512.5 426.4,511.5 429.4,511.5 430,511.5" fill="none" stroke="#00ffff" stroke-width="1"/>
<polyline points="198.4,515.5 201.4,516.5 202.2,517.5 204,517.5 204.4,517.5 207.4,517.5 208.3,517.5 210.4,517.5 212,517.5 213.4,517.5 216.4,517.5 219.4,517.5 222.4,517.5 223,517.5 224,516.5 224.9,514.5 225.4,513.5 227,511.5 228.4,511.5 231.4,511.5 234,511.5 234.4,511.5 237.4,512.5 240.4,512.5 243.4,512.5 246.4,512.5 249.4,512.5 252.4,512.5 253.5,512.5 255.4,511.5 258.4,511.5 260,511.5 260.8,511.5 261.4,511.5 264.4,511.5 267.4,511.5 270.4,511.5 273.4,512.5 275.4,512.5 276.4,512.5 279.4,512.5 282.4,512.5 285.4,512.5 288.4,512.5 291.4,512.5 294.4,512.5 297.4,512.5 300.4,511.5 303.4,511.5 306.4,511.5 309.4,511.5 312,511.5 312.4,511.5 315.4,511.5 318.4,512.5 321.4,512.5 324.4,512.5 327.4,512.5 330.4,512.5 333.4,512.5 336.4,512.5 339.4,511.5 342.4,511.5 345.4,511.5 348.4,511.5 348.7,511.5 351.4,511.5 354.4,511.5 357.4,511.5 360.4,511.5 363.4,512.5 366.4,512.5 369.4,512.5 372.4,512.5 375.4,512.5 378.4,512.5 380.4,512.5 381.4,512.5 384.4,512.5 385.3,512.5 387.4,511.5 390.4,511.5 393.4,511.5 396.4,511.5 399.4,511.5 402.4,512.5 405.4,512.5 408.4,512.5 409.7,512.5 411.4,512.5 414.4,512.5 417.4,512.5 420.4,512.5 423.4,512.5 426.4,512.5 429.4,512.5 430,512.5" fill="none" stroke="#00ffff" stroke-width="1"/>
<polyline points="198.4,516.5 201.4,517.5 202.2,517.5 204,518.5 204.4,518.5 207.4,518.5 208.3,518.5 210.4,518.5 212,519.5 213.4,519.5 216.4,519.5 219.4,519.5 222.4,519.5 223,519.5 224,518.5 224.9,516.5 225.4,515.5 227,513.5 228.4,513.5 231.4,512.5 234,512.5 234.4,512.5 237.4,512.5 240.4,512.5 243.4,512.5 246.4,512.5 249.4,512.5 252.4,512.5 253.5,512.5 255.4,512.5 258.4,512.5 260,512.5 260.8,512.5 261.4,512.5 264.4,512.5 267.4,512.5 270.4,513.5 273.4,513.5 275.4,513.5 276.4,513.5 279.4,513.5 282.4,513.5 285.4,513.5 288.4,513.5 291.4,513.5 294.4,513.5 297.4,513.5 300.4,513.5 303.4,513.5 306.4,512.5 309.4,512.5 312,512.5 312.4,512.5 315.4,512.5 318.4,512.5 321.4,512.5 324.4,512.5 327.4,512.5 330.4,512.5 333.4,512.5 336.4,512.5 339.4,512.5 342.4,512.5 345.4,513.5 348.4,513.5 348.7,513.5 351.4,513.5 354.4,513.5 357.4,513.5 360.4,513.5 363.4,513.5 366.4,513.5 369.4,513.5 372.4,513.5 375.4,512.5 378.4,512.5 380.4,512.5 381.4,512.5 384.4,512.5 385.3,512.5 387.4,512.5 390.4,512.5 393.4,512.5 396.4,512.5 399.4,512.5 402.4,512.5 405.4,512.5 408.4,512.5 409.7,512.5 411.4,513.5 414.4,513.5 417.4,513.5 420.4,513.5 423.4,513.5 426.4,513.5 429.4,513.5 430,513.5" fill="none" stroke="#a07060" stroke-width="1"/>
<polyline points="198.4,517.5 201.4,518.5 202.2,518.5 204,519.5 204.4,519.5 207.4,519.5 208.3,519.5 210.4,519.5 212,520.5 213.4,520.5 216.4,520.5 219.4,520.5 222.4,519.5 223,519.5 224,519.5 224.9,517.5 225.4,516.5 227,513.5 228.4,513.5 231.4,513.5 234,513.5 234.4,513.5 237.4,513.5 240.4,513.5 243.4,513.5 246.4,513.5 249.4,514.5 252.4,514.5 253.5,514.5 255.4,514.5 258.4,514.5 260,514.5 260.8,514.5 261.4,514.5 264.4,514.5 267.4,514.5 270.4,513.5 273.4,513.5 275.4,513.5 276.4,513.5 279.4,513.5 282.4,513.5 285.4,513.5 288.4,513.5 291.4,514.5 294.4,514.5 297.4,514.5 300.4,514.5 303.4,514.5 306.4,514.5 309.4,513.5 312,513.5 312.4,513.5 315.4,513.5 318.4,513.5 321.4,513.5 324.4,513.5 327.4,513.5 330.4,513.5 333.4,513.5 336.4,514.5 339.4,514.5 342.4,514.5 345.4,514.5 348.4,514.5 348.7,514.5 351.4,513.5 354.4,513.5 357.4,513.5 360.4,513.5 363.4,513.5 366.4,513.5 369.4,513.5 372.4,513.5 375.4,513.5 378.4,514.5 380.4,514.5 381.4,514.5 384.4,514.5 385.3,514.5 387.4,514.5 390.4,514.5 393.4,513.5 396.4,513.5 399.4,513.5 402.4,513.5 405.4,513.5 408.4,513.5 409.7,513.5 411.4,513.5 414.4,513.5 417.4,513.5 420.4,513.5 423.4,514.5 426.4,514.5 429.4,514.5 430,514.5" fill="none" stroke="#b000ff" stroke-width="1"/>
<polyline points="198.4,514.5 201,515.5 215,516.5 260,517.5 300,516.5 430,515.5" fill="none" stroke="#ffa500" stroke-width="1"/>
<polyline points="206,517.5 240,518.5 265,518.5 300,518.5 360,517.5 395,518.5 430,517.5" fill="none" stroke="#c0ff00" stroke-width="1"/>
<polyline points="206,519.5 230,520.5 262,521.5 270,523.5 330,522.5 385,521.5 430,523.5" fill="none" stroke="#ff00ff" stroke-width="1"/>
<polyline points="345,517.5 360,517.5 364,519.5 372,519.5 380,518.5" fill="none" stroke="#a0645a" stroke-width="1"/>
<polyline points="198.4,517.5 209.5,521.5 256,522.5 263,526.5 287.7,526.5 312,528.5 348.7,528.5 385,529.5 400,531.5 430,531.5" fill="none" stroke="#ff0000" stroke-width="1"/>
<polyline points="201,514.5 203.4,528.5 215,529.5 263,530.5 300,531.5 320,529.5 380,531.5 385,529.5" fill="none" stroke="#969696" stroke-width="1"/>
<polyline points="420,516.5 424,518.5 428,520.5 430,519.5" fill="none" stroke="#ff00ff" stroke-width="1"/>
<polyline points="198.4,489.5 202.2,494.5 208.3,497.5 212,502.5 223,504.5 224.9,489.5 234,492.5 253.5,494.5 260.8,497.5 275.4,496.5 312,495.5 348.7,495.5 380.4,496.5 385.3,498.5 409.7,499.5 430,500.5" fill="none" stroke="#000" stroke-width="1"/>
<polyline points="224.9,488.5 234,490.5 253.5,493.5 260.8,496.5" fill="none" stroke="#0000ff" stroke-width="1"/>
<polyline points="224.9,487.5 229,488.5 240,491.5 253.5,492.5 262,495.5" fill="none" stroke="#0080ff" stroke-width="1"/>
<rect x="194" y="487" width="1" height="35" fill="#969696"/>
<polyline points="452,500.5 455,500.5 458,500.5" fill="none" stroke="#ff00ff" stroke-width="1"/>
<polyline points="452,501.5 455,501.5 458,501.5" fill="none" stroke="#ff0000" stroke-width="1"/>
<polyline points="452,502.5 455,502.5 458,502.5" fill="none" stroke="#0000ff" stroke-width="1"/>
<polyline points="452,503.5 455,503.5 458,503.5" fill="none" stroke="#ffa500" stroke-width="1"/>
<polyline points="452,504.5 455,504.5 458,504.5" fill="none" stroke="#ff00ff" stroke-width="1"/>
<polyline points="452,505.5 455,505.5 458,505.5" fill="none" stroke="#969696" stroke-width="1"/>
<polyline points="452,506.5 455,506.5 458,506.5" fill="none" stroke="#a07060" stroke-width="1"/>
<polyline points="452,507.5 455,507.5 458,507.5" fill="none" stroke="#ffa500" stroke-width="1"/>
<polyline points="452,508.5 455,508.5 458,508.5" fill="none" stroke="#00ff00" stroke-width="1"/>
<polyline points="452,509.5 455,509.5 458,509.5" fill="none" stroke="#ff0000" stroke-width="1"/>
<polyline points="452,510.5 455,510.5 458,510.5" fill="none" stroke="#b000ff" stroke-width="1"/>
<polyline points="452,511.5 455,511.5 458,511.5" fill="none" stroke="#ff00ff" stroke-width="1"/>
<polyline points="452,512.5 455,512.5 458,512.5" fill="none" stroke="#000000" stroke-width="1"/>
<polyline points="452,513.5 455,513.5 458,513.5" fill="none" stroke="#00ff00" stroke-width="1"/>
<polyline points="452,514.5 455,514.5 458,514.5" fill="none" stroke="#c0ff00" stroke-width="1"/>
<polyline points="452,515.5 455,515.5 458,515.5" fill="none" stroke="#00ffff" stroke-width="1"/>
<polyline points="452,516.5 455,516.5 458,516.5" fill="none" stroke="#00ffff" stroke-width="1"/>
<polyline points="452,517.5 455,517.5 458,517.5" fill="none" stroke="#a07060" stroke-width="1"/>
<polyline points="452,518.5 455,518.5 458,518.5" fill="none" stroke="#b000ff" stroke-width="1"/>
<polyline points="452,519.5 455,519.5 458,519.5" fill="none" stroke="#0000ff" stroke-width="1"/>
<polyline points="452,520.5 455,520.5 458,520.5" fill="none" stroke="#0080ff" stroke-width="1"/>
<rect x="452" y="525" width="6" height="1" fill="#ff00ff"/>
<rect x="452" y="528" width="6" height="1" fill="#000"/>
<rect x="452" y="530" width="6" height="1" fill="#ff0000"/>
<rect x="452" y="533" width="6" height="1" fill="#969696"/>
<polyline points="521,502.5 524,502.5 525,502.5" fill="none" stroke="#ff00ff" stroke-width="1"/>
<polyline points="521,503.5 524,503.5 525,503.5" fill="none" stroke="#ff0000" stroke-width="1"/>
<polyline points="521,504.5 524,504.5 525,504.5" fill="none" stroke="#0000ff" stroke-width="1"/>
<polyline points="521,505.5 524,505.5 525,505.5" fill="none" stroke="#ffa500" stroke-width="1"/>
<polyline points="521,506.5 524,506.5 525,506.5" fill="none" stroke="#ff00ff" stroke-width="1"/>
<polyline points="521,507.5 524,507.5 525,507.5" fill="none" stroke="#969696" stroke-width="1"/>
<polyline points="521,508.5 524,508.5 525,508.5" fill="none" stroke="#a07060" stroke-width="1"/>
<polyline points="521,509.5 524,509.5 525,509.5" fill="none" stroke="#ffa500" stroke-width="1"/>
<polyline points="521,510.5 524,510.5 525,510.5" fill="none" stroke="#00ff00" stroke-width="1"/>
<polyline points="521,511.5 524,511.5 525,511.5" fill="none" stroke="#ff0000" stroke-width="1"/>
<polyline points="521,512.5 524,512.5 525,512.5" fill="none" stroke="#b000ff" stroke-width="1"/>
<polyline points="521,513.5 524,513.5 525,513.5" fill="none" stroke="#ff00ff" stroke-width="1"/>
<polyline points="521,514.5 524,514.5 525,514.5" fill="none" stroke="#000000" stroke-width="1"/>
<polyline points="521,515.5 524,515.5 525,515.5" fill="none" stroke="#00ff00" stroke-width="1"/>
<rect x="521" y="517" width="4" height="1" fill="#00ff00"/>
<rect x="521" y="519" width="4" height="1" fill="#969696"/>
<rect x="521" y="520" width="4" height="1" fill="#0000ff"/>
<rect x="521" y="522" width="4" height="1" fill="#ffa500"/>
<rect x="521" y="524" width="4" height="1" fill="#ffff00"/>
<rect x="521" y="528" width="4" height="1" fill="#000"/>
<rect x="521" y="531" width="4" height="1" fill="#ffa500"/>
<rect x="521" y="532" width="4" height="1" fill="#969696"/>
<polyline points="619.4,489.5 622.4,489.5 625.4,489.5 628.4,490.5 630.4,490.5 631.4,490.5 634.4,491.5 637.4,492.5 640,492.5 640.2,492.5 640.4,492.5 643.4,493.5 646.4,493.5 649.4,493.5 652.4,493.5 655.4,493.5 658.4,493.5 661.4,493.5 664.4,494.5 667.4,494.5 670,494.5" fill="none" stroke="#ff00ff" stroke-width="1"/>
<polyline points="619.4,490.5 622.4,491.5 625.4,491.5 628.4,492.5 630.4,492.5 631.4,492.5 634.4,493.5 637.4,493.5 640,494.5 640.2,494.5 640.4,494.5 643.4,494.5 646.4,494.5 649.4,493.5 652.4,493.5 655.4,493.5 658.4,493.5 661.4,493.5 664.4,494.5 667.4,494.5 670,494.5" fill="none" stroke="#ff0000" stroke-width="1"/>
<polyline points="619.4,491.5 622.4,492.5 625.4,492.5 628.4,492.5 630.4,492.5 631.4,492.5 634.4,493.5 637.4,493.5 640,494.5 640.2,494.5 640.4,494.5 643.4,494.5 646.4,494.5 649.4,495.5 652.4,495.5 655.4,495.5 658.4,495.5 661.4,495.5 664.4,495.5 667.4,495.5 670,495.5" fill="none" stroke="#0000ff" stroke-width="1"/>
<polyline points="619.4,491.5 622.4,492.5 625.4,492.5 628.4,493.5 630.4,493.5 631.4,493.5 634.4,494.5 637.4,495.5 640,495.5 640.2,495.5 640.4,495.5 643.4,496.5 646.4,496.5 649.4,496.5 652.4,496.5 655.4,496.5 658.4,496.5 661.4,496.5 664.4,496.5 667.4,496.5 670,496.5" fill="none" stroke="#ffa500" stroke-width="1"/>
<polyline points="619.4,492.5 622.4,493.5 625.4,493.5 628.4,494.5 630.4,494.5 631.4,494.5 634.4,495.5 637.4,496.5 640,496.5 640.2,496.5 640.4,496.5 643.4,497.5 646.4,497.5 649.4,497.5 652.4,497.5 655.4,497.5 658.4,497.5 661.4,497.5 664.4,497.5 667.4,497.5 670,496.5" fill="none" stroke="#ff00ff" stroke-width="1"/>
<polyline points="619.4,494.5 622.4,494.5 625.4,494.5 628.4,495.5 630.4,495.5 631.4,495.5 634.4,495.5 637.4,496.5 640,496.5 640.2,497.5 640.4,497.5 643.4,497.5 646.4,497.5 649.4,497.5 652.4,497.5 655.4,497.5 658.4,497.5 661.4,497.5 664.4,497.5 667.4,497.5 670,497.5" fill="none" stroke="#969696" stroke-width="1"/>
<polyline points="619.4,495.5 622.4,495.5 625.4,495.5 628.4,495.5 630.4,495.5 631.4,496.5 634.4,496.5 637.4,497.5 640,498.5 640.2,498.5 640.4,498.5 643.4,498.5 646.4,498.5 649.4,498.5 652.4,498.5 655.4,498.5 658.4,498.5 661.4,498.5 664.4,498.5 667.4,498.5 670,498.5" fill="none" stroke="#a07060" stroke-width="1"/>
<polyline points="619.4,495.5 622.4,496.5 625.4,496.5 628.4,496.5 630.4,497.5 631.4,497.5 634.4,497.5 637.4,498.5 640,499.5 640.2,499.5 640.4,499.5 643.4,499.5 646.4,499.5 649.4,499.5 652.4,499.5 655.4,499.5 658.4,499.5 661.4,499.5 664.4,499.5 667.4,499.5 670,499.5" fill="none" stroke="#ffa500" stroke-width="1"/>
<polyline points="619.4,497.5 622.4,497.5 625.4,497.5 628.4,497.5 630.4,498.5 631.4,498.5 634.4,498.5 637.4,498.5 640,499.5 640.2,499.5 640.4,499.5 643.4,499.5 646.4,499.5 649.4,499.5 652.4,499.5 655.4,500.5 658.4,500.5 661.4,500.5 664.4,500.5 667.4,500.5 670,500.5" fill="none" stroke="#00ff00" stroke-width="1"/>
<polyline points="619.4,498.5 622.4,498.5 625.4,498.5 628.4,499.5 630.4,499.5 631.4,499.5 634.4,500.5 637.4,500.5 640,501.5 640.2,501.5 640.4,501.5 643.4,500.5 646.4,500.5 649.4,500.5 652.4,500.5 655.4,500.5 658.4,500.5 661.4,500.5 664.4,500.5 667.4,501.5 670,501.5" fill="none" stroke="#ff0000" stroke-width="1"/>
<polyline points="619.4,499.5 622.4,499.5 625.4,499.5 628.4,499.5 630.4,499.5 631.4,499.5 634.4,500.5 637.4,501.5 640,501.5 640.2,501.5 640.4,501.5 643.4,501.5 646.4,502.5 649.4,502.5 652.4,502.5 655.4,502.5 658.4,501.5 661.4,501.5 664.4,501.5 667.4,501.5 670,501.5" fill="none" stroke="#b000ff" stroke-width="1"/>
<polyline points="619.4,500.5 622.4,500.5 625.4,500.5 628.4,501.5 630.4,501.5 631.4,501.5 634.4,502.5 637.4,502.5 640,502.5 640.2,502.5 640.4,502.5 643.4,502.5 646.4,502.5 649.4,502.5 652.4,502.5 655.4,502.5 658.4,502.5 661.4,502.5 664.4,502.5 667.4,502.5 670,502.5" fill="none" stroke="#ff00ff" stroke-width="1"/>
<polyline points="619.4,501.5 622.4,501.5 625.4,501.5 628.4,502.5 630.4,502.5 631.4,502.5 634.4,502.5 637.4,503.5 640,503.5 640.2,503.5 640.4,503.5 643.4,503.5 646.4,503.5 649.4,503.5 652.4,503.5 655.4,503.5 658.4,503.5 661.4,503.5 664.4,503.5 667.4,502.5 670,502.5" fill="none" stroke="#000000" stroke-width="1"/>
<polyline points="619.4,502.5 622.4,502.5 625.4,502.5 628.4,503.5 630.4,503.5 631.4,503.5 634.4,503.5 637.4,504.5 640,504.5 640.2,504.5 640.4,504.5 643.4,504.5 646.4,504.5 649.4,504.5 652.4,504.5 655.4,503.5 658.4,503.5 661.4,503.5 664.4,503.5 667.4,503.5 670,503.5" fill="none" stroke="#00ff00" stroke-width="1"/>
<polyline points="619.4,503.5 622.4,503.5 625.4,503.5 628.4,504.5 630.4,504.5 631.4,504.5 634.4,504.5 637.4,504.5 640,504.5 640.2,504.5 640.4,504.5 643.4,504.5 646.4,504.5 649.4,504.5 652.4,504.5 655.4,504.5 658.4,504.5 661.4,504.5 664.4,504.5 667.4,504.5 670,505.5" fill="none" stroke="#c0ff00" stroke-width="1"/>
<polyline points="619.4,504.5 622.4,504.5 625.4,504.5 628.4,505.5 630.4,505.5 631.4,505.5 634.4,505.5 637.4,505.5 640,505.5 640.2,505.5 640.4,505.5 643.4,505.5 646.4,505.5 649.4,505.5 652.4,505.5 655.4,505.5 658.4,505.5 661.4,505.5 664.4,505.5 667.4,506.5 670,506.5" fill="none" stroke="#00ffff" stroke-width="1"/>
<polyline points="619.4,505.5 622.4,505.5 625.4,505.5 628.4,506.5 630.4,506.5 631.4,506.5 634.4,506.5 637.4,506.5 640,506.5 640.2,506.5 640.4,506.5 643.4,506.5 646.4,506.5 649.4,506.5 652.4,506.5 655.4,506.5 658.4,506.5 661.4,506.5 664.4,506.5 667.4,506.5 670,507.5" fill="none" stroke="#00ffff" stroke-width="1"/>
<polyline points="619.4,505.5 622.4,505.5 625.4,506.5 628.4,506.5 630.4,506.5 631.4,506.5 634.4,506.5 637.4,507.5 640,507.5 640.2,507.5 640.4,507.5 643.4,507.5 646.4,507.5 649.4,507.5 652.4,507.5 655.4,507.5 658.4,507.5 661.4,507.5 664.4,508.5 667.4,508.5 670,508.5" fill="none" stroke="#a07060" stroke-width="1"/>
<polyline points="619.4,506.5 622.4,506.5 625.4,506.5 628.4,507.5 630.4,507.5 631.4,507.5 634.4,507.5 637.4,507.5 640,508.5 640.2,508.5 640.4,508.5 643.4,508.5 646.4,508.5 649.4,508.5 652.4,508.5 655.4,508.5 658.4,508.5 661.4,508.5 664.4,508.5 667.4,508.5 670,508.5" fill="none" stroke="#b000ff" stroke-width="1"/>
<polyline points="619.4,508.5 622.4,508.5 625.4,508.5 628.4,508.5 630.4,508.5 631.4,508.5 634.4,509.5 637.4,509.5 640,509.5 640.2,509.5 640.4,509.5 643.4,509.5 646.4,508.5 649.4,508.5 652.4,508.5 655.4,508.5 658.4,508.5 661.4,508.5 664.4,508.5 667.4,508.5 670,508.5" fill="none" stroke="#0000ff" stroke-width="1"/>
<polyline points="619.4,508.5 622.4,508.5 625.4,508.5 628.4,508.5 630.4,508.5 631.4,508.5 634.4,509.5 637.4,509.5 640,509.5 640.2,509.5 640.4,509.5 643.4,509.5 646.4,509.5 649.4,509.5 652.4,509.5 655.4,510.5 658.4,510.5 661.4,510.5 664.4,510.5 667.4,510.5 670,510.5" fill="none" stroke="#0080ff" stroke-width="1"/>
<polyline points="619.4,509.5 622.4,509.5 625.4,509.5 628.4,509.5 630.4,509.5 631.4,509.5 634.4,510.5 637.4,510.5 640,510.5 640.2,510.5 640.4,510.5 643.4,510.5 646.4,510.5 649.4,510.5 652.4,510.5 655.4,510.5 658.4,510.5 661.4,511.5 664.4,511.5 667.4,511.5 670,511.5" fill="none" stroke="#ffff00" stroke-width="1"/>
<polyline points="619.4,510.5 622.4,510.5 625.4,510.5 628.4,511.5 630.4,511.5 631.4,511.5 634.4,511.5 637.4,511.5 640,512.5 640.2,512.5 640.4,512.5 643.4,512.5 646.4,511.5 649.4,511.5 652.4,511.5 655.4,511.5 658.4,511.5 661.4,511.5 664.4,511.5 667.4,511.5 670,511.5" fill="none" stroke="#ff00ff" stroke-width="1"/>
<polyline points="619.4,516.5 629,516.5 636,518.5 644,520.5 670,520.5" fill="none" stroke="#ff0000" stroke-width="1"/>
<polyline points="619.4,488.5 630.4,489.5 640.2,491.5 670,492.5" fill="none" stroke="#ff0000" stroke-width="1"/>
<polyline points="619.4,509.5 640,510.5 670,509.5" fill="none" stroke="#ff00ff" stroke-width="1"/>
<polyline points="619.4,511.5 645,511.5 670,511.5" fill="none" stroke="#ff00ff" stroke-width="1"/>
<polyline points="619.4,515.5 635,515.5 642,516.5 670,516.5" fill="none" stroke="#ffa500" stroke-width="1"/>
<polyline points="619.4,514.5 632,514.5 640,517.5 670,518.5" fill="none" stroke="#a0645a" stroke-width="1"/>
<polyline points="619.4,517.5 635,518.5 645,521.5 670,521.5" fill="none" stroke="#969696" stroke-width="1"/>
<polyline points="619.4,522.5 625,521.5 635,521.5 645,523.5 652.4,524.5 660,525.5 670,524.5" fill="none" stroke="#ff0000" stroke-width="1"/>
<polyline points="691,491.5 694,491.5 697,491.5 700,491.5 703,490.5 706,490.5 709,490.5 712,490.5 713,490.5 713.6,490.5 715,489.5 717,488.5 718,488.5 721,488.5 724,488.5 727,488.5 730,488.5 733,488.5 736,488.5 739,488.5 740,488.5 742,488.5 745,488.5 748,487.5 751,487.5 754,487.5 757,487.5 760,487.5 763,487.5 766,486.5 769,486.5 772,486.5 774,486.5 775,487.5 777,489.5 777.4,489.5 778,499.5 779,515.5 781,522.5 782.5,527.5 784,527.5 787,527.5 790,527.5 793,527.5 796,528.5 799,528.5 802,528.5 805,528.5 808,528.5 811,528.5 812,528.5 812.7,528.5 814,527.5 817,523.5 817.7,522.5 820,521.5 822.8,519.5 823,519.5 826,519.5 829,519.5 829.5,519.5" fill="none" stroke="#ff00ff" stroke-width="1"/>
<polyline points="691,492.5 694,492.5 697,492.5 700,492.5 703,492.5 706,492.5 709,492.5 712,491.5 713,491.5 713.6,491.5 715,490.5 717,489.5 718,489.5 721,489.5 724,488.5 727,488.5 730,488.5 733,488.5 736,488.5 739,488.5 740,488.5 742,488.5 745,488.5 748,489.5 751,489.5 754,488.5 757,488.5 760,488.5 763,488.5 766,488.5 769,487.5 772,487.5 774,487.5 775,488.5 777,490.5 777.4,490.5 778,500.5 779,516.5 781,523.5 782.5,528.5 784,528.5 787,528.5 790,528.5 793,528.5 796,528.5 799,528.5 802,528.5 805,528.5 808,528.5 811,528.5 812,528.5 812.7,528.5 814,526.5 817,522.5 817.7,521.5 820,521.5 822.8,519.5 823,520.5 826,520.5 829,520.5 829.5,520.5" fill="none" stroke="#ff0000" stroke-width="1"/>
<polyline points="691,493.5 694,493.5 697,493.5 700,492.5 703,492.5 706,492.5 709,491.5 712,491.5 713,491.5 713.6,491.5 715,490.5 717,489.5 718,489.5 721,489.5 724,489.5 727,489.5 730,489.5 733,489.5 736,489.5 739,489.5 740,489.5 742,489.5 745,489.5 748,489.5 751,489.5 754,489.5 757,489.5 760,489.5 763,489.5 766,489.5 769,489.5 772,489.5 774,489.5 775,489.5 777,491.5 777.4,491.5 778,501.5 779,516.5 781,523.5 782.5,528.5 784,528.5 787,528.5 790,528.5 793,528.5 796,528.5 799,528.5 802,528.5 805,528.5 808,528.5 811,528.5 812,529.5 812.7,529.5 814,527.5 817,524.5 817.7,523.5 820,522.5 822.8,521.5 823,521.5 826,521.5 829,521.5 829.5,521.5" fill="none" stroke="#0000ff" stroke-width="1"/>
<polyline points="691,494.5 694,494.5 697,493.5 700,493.5 703,493.5 706,492.5 709,492.5 712,492.5 713,492.5 713.6,492.5 715,491.5 717,490.5 718,490.5 721,490.5 724,491.5 727,491.5 730,491.5 733,491.5 736,491.5 739,490.5 740,490.5 742,490.5 745,490.5 748,490.5 751,490.5 754,489.5 757,489.5 760,489.5 763,489.5 766,489.5 769,489.5 772,489.5 774,490.5 775,490.5 777,492.5 777.4,492.5 778,502.5 779,517.5 781,524.5 782.5,529.5 784,529.5 787,529.5 790,529.5 793,529.5 796,529.5 799,529.5 802,529.5 805,529.5 808,529.5 811,529.5 812,529.5 812.7,529.5 814,527.5 817,524.5 817.7,523.5 820,522.5 822.8,521.5 823,521.5 826,521.5 829,522.5 829.5,522.5" fill="none" stroke="#ffa500" stroke-width="1"/>
<polyline points="691,495.5 694,494.5 697,494.5 700,494.5 703,494.5 706,493.5 709,493.5 712,493.5 713,493.5 713.6,493.5 715,492.5 717,491.5 718,491.5 721,491.5 724,491.5 727,491.5 730,491.5 733,491.5 736,491.5 739,491.5 740,491.5 742,491.5 745,491.5 748,491.5 751,491.5 754,491.5 757,491.5 760,491.5 763,491.5 766,491.5 769,491.5 772,491.5 774,491.5 775,491.5 777,493.5 777.4,493.5 778,502.5 779,517.5 781,524.5 782.5,529.5 784,529.5 787,529.5 790,529.5 793,529.5 796,529.5 799,529.5 802,529.5 805,529.5 808,529.5 811,529.5 812,529.5 812.7,529.5 814,528.5 817,524.5 817.7,524.5 820,523.5 822.8,522.5 823,522.5 826,522.5 829,522.5 829.5,522.5" fill="none" stroke="#ff00ff" stroke-width="1"/>
<polyline points="691,496.5 694,496.5 697,496.5 700,495.5 703,495.5 706,495.5 709,495.5 712,494.5 713,494.5 713.6,494.5 715,493.5 717,492.5 718,492.5 721,492.5 724,492.5 727,492.5 730,492.5 733,492.5 736,492.5 739,492.5 740,492.5 742,492.5 745,492.5 748,492.5 751,492.5 754,492.5 757,492.5 760,492.5 763,492.5 766,491.5 769,491.5 772,491.5 774,491.5 775,491.5 777,493.5 777.4,494.5 778,503.5 779,517.5 781,524.5 782.5,529.5 784,529.5 787,529.5 790,530.5 793,530.5 796,530.5 799,530.5 802,530.5 805,530.5 808,530.5 811,530.5 812,530.5 812.7,530.5 814,528.5 817,525.5 817.7,524.5 820,523.5 822.8,522.5 823,522.5 826,523.5 829,523.5 829.5,523.5" fill="none" stroke="#969696" stroke-width="1"/>
<polyline points="691,497.5 694,496.5 697,496.5 700,496.5 703,495.5 706,495.5 709,495.5 712,495.5 713,495.5 713.6,495.5 715,494.5 717,493.5 718,493.5 721,493.5 724,493.5 727,493.5 730,493.5 733,493.5 736,493.5 739,493.5 740,493.5 742,493.5 745,492.5 748,492.5 751,492.5 754,492.5 757,492.5 760,492.5 763,492.5 766,493.5 769,493.5 772,493.5 774,493.5 775,493.5 777,494.5 777.4,495.5 778,504.5 779,518.5 781,525.5 782.5,530.5 784,530.5 787,530.5 790,530.5 793,530.5 796,530.5 799,530.5 802,530.5 805,530.5 808,530.5 811,531.5 812,531.5 812.7,531.5 814,530.5 817,527.5 817.7,526.5 820,525.5 822.8,524.5 823,524.5 826,524.5 829,524.5 829.5,524.5" fill="none" stroke="#a07060" stroke-width="1"/>
<polyline points="691,497.5 694,497.5 697,496.5 700,496.5 703,496.5 706,496.5 709,496.5 712,496.5 713,496.5 713.6,496.5 715,495.5 717,494.5 718,494.5 721,494.5 724,494.5 727,494.5 730,494.5 733,494.5 736,494.5 739,494.5 740,494.5 742,494.5 745,494.5 748,494.5 751,493.5 754,493.5 757,493.5 760,493.5 763,493.5 766,493.5 769,493.5 772,493.5 774,493.5 775,493.5 777,494.5 777.4,496.5 778,504.5 779,518.5 781,525.5 782.5,530.5 784,530.5 787,530.5 790,530.5 793,531.5 796,531.5 799,531.5 802,531.5 805,531.5 808,531.5 811,531.5 812,531.5 812.7,531.5 814,530.5 817,527.5 817.7,527.5 820,526.5 822.8,525.5 823,525.5 826,525.5 829,525.5 829.5,525.5" fill="none" stroke="#ffa500" stroke-width="1"/>
<polyline points="691,498.5 694,497.5 697,497.5 700,497.5 703,497.5 706,497.5 709,496.5 712,496.5 713,496.5 713.6,496.5 715,496.5 717,495.5 718,495.5 721,495.5 724,495.5 727,495.5 730,495.5 733,495.5 736,495.5 739,495.5 740,495.5 742,495.5 745,495.5 748,495.5 751,495.5 754,495.5 757,495.5 760,494.5 763,494.5 766,494.5 769,494.5 772,494.5 774,494.5 775,494.5 777,495.5 777.4,496.5 778,505.5 779,519.5 781,525.5 782.5,530.5 784,530.5 787,530.5 790,530.5 793,530.5 796,531.5 799,531.5 802,531.5 805,531.5 808,531.5 811,531.5 812,532.5 812.7,532.5 814,530.5 817,528.5 817.7,527.5 820,526.5 822.8,526.5 823,526.5 826,526.5 829,526.5 829.5,526.5" fill="none" stroke="#00ff00" stroke-width="1"/>
<polyline points="691,499.5 694,498.5 697,498.5 700,498.5 703,498.5 706,498.5 709,498.5 712,498.5 713,498.5 713.6,498.5 715,497.5 717,496.5 718,496.5 721,496.5 724,496.5 727,496.5 730,495.5 733,495.5 736,495.5 739,495.5 740,495.5 742,495.5 745,495.5 748,495.5 751,495.5 754,495.5 757,495.5 760,495.5 763,495.5 766,496.5 769,496.5 772,496.5 774,495.5 775,496.5 777,497.5 777.4,498.5 778,506.5 779,520.5 781,526.5 782.5,531.5 784,531.5 787,531.5 790,531.5 793,531.5 796,531.5 799,531.5 802,531.5 805,531.5 808,531.5 811,532.5 812,532.5 812.7,532.5 814,531.5 817,528.5 817.7,528.5 820,527.5 822.8,526.5 823,526.5 826,527.5 829,527.5 829.5,527.5" fill="none" stroke="#ff0000" stroke-width="1"/>
<polyline points="691,500.5 694,499.5 697,499.5 700,499.5 703,498.5 706,498.5 709,498.5 712,498.5 713,498.5 713.6,498.5 715,497.5 717,496.5 718,496.5 721,496.5 724,496.5 727,497.5 730,497.5 733,497.5 736,497.5 739,497.5 740,497.5 742,497.5 745,497.5 748,497.5 751,497.5 754,496.5 757,496.5 760,496.5 763,496.5 766,496.5 769,496.5 772,496.5 774,495.5 775,496.5 777,497.5 777.4,498.5 778,506.5 779,519.5 781,526.5 782.5,531.5 784,531.5 787,531.5 790,531.5 793,532.5 796,532.5 799,532.5 802,532.5 805,532.5 808,533.5 811,533.5 812,533.5 812.7,533.5 814,532.5 817,529.5 817.7,529.5 820,528.5 822.8,527.5 823,527.5 826,527.5 829,527.5 829.5,527.5" fill="none" stroke="#b000ff" stroke-width="1"/>
<polyline points="691,501.5 694,501.5 697,500.5 700,500.5 703,500.5 706,499.5 709,499.5 712,499.5 713,499.5 713.6,498.5 715,498.5 717,497.5 718,497.5 721,497.5 724,497.5 727,497.5 730,497.5 733,497.5 736,497.5 739,497.5 740,497.5 742,497.5 745,497.5 748,498.5 751,498.5 754,498.5 757,497.5 760,497.5 763,497.5 766,497.5 769,497.5 772,497.5 774,497.5 775,497.5 777,498.5 777.4,499.5 778,507.5 779,520.5 781,526.5 782.5,531.5 784,531.5 787,532.5 790,532.5 793,532.5 796,532.5 799,532.5 802,532.5 805,533.5 808,533.5 811,533.5 812,533.5 812.7,533.5 814,532.5 817,530.5 817.7,529.5 820,529.5 822.8,528.5 823,528.5 826,528.5 829,528.5 829.5,528.5" fill="none" stroke="#ff00ff" stroke-width="1"/>
<polyline points="691,502.5 694,501.5 697,501.5 700,501.5 703,500.5 706,500.5 709,500.5 712,499.5 713,499.5 713.6,499.5 715,499.5 717,498.5 718,498.5 721,498.5 724,498.5 727,498.5 730,499.5 733,499.5 736,499.5 739,499.5 740,499.5 742,498.5 745,498.5 748,498.5 751,498.5 754,498.5 757,497.5 760,497.5 763,497.5 766,497.5 769,497.5 772,498.5 774,498.5 775,498.5 777,499.5 777.4,501.5 778,508.5 779,521.5 781,528.5 782.5,533.5 784,533.5 787,533.5 790,533.5 793,533.5 796,533.5 799,533.5 802,533.5 805,533.5 808,533.5 811,533.5 812,533.5 812.7,533.5 814,532.5 817,530.5 817.7,529.5 820,529.5 822.8,528.5 823,528.5 826,529.5 829,529.5 829.5,529.5" fill="none" stroke="#000000" stroke-width="1"/>
<polyline points="691,502.5 694,501.5 697,501.5 700,501.5 703,501.5 706,500.5 709,500.5 712,500.5 713,500.5 713.6,500.5 715,500.5 717,499.5 718,499.5 721,499.5 724,499.5 727,499.5 730,499.5 733,499.5 736,499.5 739,499.5 740,499.5 742,499.5 745,499.5 748,499.5 751,499.5 754,499.5 757,499.5 760,499.5 763,499.5 766,499.5 769,499.5 772,499.5 774,499.5 775,499.5 777,500.5 777.4,502.5 778,509.5 779,521.5 781,528.5 782.5,533.5 784,533.5 787,533.5 790,533.5 793,533.5 796,533.5 799,533.5 802,533.5 805,533.5 808,533.5 811,533.5 812,533.5 812.7,533.5 814,532.5 817,530.5 817.7,530.5 820,529.5 822.8,529.5 823,529.5 826,529.5 829,529.5 829.5,529.5" fill="none" stroke="#00ff00" stroke-width="1"/>
<polyline points="691,503.5 694,502.5 697,502.5 700,502.5 703,502.5 706,502.5 709,502.5 712,502.5 713,502.5 713.6,502.5 715,501.5 717,501.5 718,501.5 721,500.5 724,500.5 727,500.5 730,500.5 733,500.5 736,499.5 739,499.5 740,499.5 742,499.5 745,499.5 748,500.5 751,500.5 754,500.5 757,500.5 760,500.5 763,500.5 766,500.5 769,500.5 772,500.5 774,500.5 775,500.5 777,501.5 777.4,503.5 778,510.5 779,521.5 781,528.5 782.5,533.5 784,533.5 787,533.5 790,533.5 793,533.5 796,533.5 799,533.5 802,534.5 805,534.5 808,534.5 811,534.5 812,534.5 812.7,534.5 814,534.5 817,532.5 817.7,532.5 820,531.5 822.8,530.5 823,530.5 826,530.5 829,530.5 829.5,530.5" fill="none" stroke="#c0ff00" stroke-width="1"/>
<polyline points="691,503.5 694,503.5 697,503.5 700,503.5 703,503.5 706,503.5 709,502.5 712,502.5 713,502.5 713.6,502.5 715,502.5 717,502.5 718,502.5 721,502.5 724,502.5 727,501.5 730,501.5 733,501.5 736,501.5 739,501.5 740,501.5 742,501.5 745,501.5 748,500.5 751,500.5 754,500.5 757,500.5 760,500.5 763,500.5 766,500.5 769,500.5 772,500.5 774,500.5 775,501.5 777,501.5 777.4,503.5 778,510.5 779,522.5 781,529.5 782.5,534.5 784,534.5 787,534.5 790,534.5 793,534.5 796,535.5 799,535.5 802,535.5 805,535.5 808,535.5 811,535.5 812,535.5 812.7,535.5 814,534.5 817,532.5 817.7,532.5 820,531.5 822.8,530.5 823,530.5 826,530.5 829,530.5 829.5,530.5" fill="none" stroke="#00ffff" stroke-width="1"/>
<polyline points="691,504.5 694,504.5 697,504.5 700,504.5 703,504.5 706,504.5 709,503.5 712,503.5 713,503.5 713.6,503.5 715,503.5 717,502.5 718,502.5 721,502.5 724,502.5 727,502.5 730,502.5 733,502.5 736,502.5 739,502.5 740,502.5 742,502.5 745,502.5 748,502.5 751,501.5 754,501.5 757,501.5 760,501.5 763,501.5 766,501.5 769,501.5 772,501.5 774,501.5 775,501.5 777,502.5 777.4,504.5 778,511.5 779,522.5 781,529.5 782.5,534.5 784,534.5 787,534.5 790,534.5 793,535.5 796,535.5 799,535.5 802,535.5 805,535.5 808,535.5 811,536.5 812,536.5 812.7,536.5 814,535.5 817,533.5 817.7,533.5 820,532.5 822.8,532.5 823,532.5 826,532.5 829,532.5 829.5,532.5" fill="none" stroke="#00ffff" stroke-width="1"/>
<polyline points="691,506.5 694,505.5 697,505.5 700,505.5 703,504.5 706,504.5 709,504.5 712,503.5 713,503.5 713.6,503.5 715,503.5 717,502.5 718,502.5 721,503.5 724,503.5 727,503.5 730,503.5 733,503.5 736,503.5 739,503.5 740,503.5 742,503.5 745,503.5 748,503.5 751,503.5 754,503.5 757,502.5 760,502.5 763,502.5 766,502.5 769,502.5 772,502.5 774,502.5 775,502.5 777,503.5 777.4,505.5 778,511.5 779,522.5 781,529.5 782.5,534.5 784,534.5 787,535.5 790,535.5 793,535.5 796,535.5 799,536.5 802,536.5 805,536.5 808,536.5 811,536.5 812,536.5 812.7,536.5 814,535.5 817,533.5 817.7,533.5 820,532.5 822.8,532.5 823,532.5 826,532.5 829,532.5 829.5,532.5" fill="none" stroke="#a07060" stroke-width="1"/>
<polyline points="691,506.5 694,506.5 697,506.5 700,505.5 703,505.5 706,505.5 709,505.5 712,504.5 713,504.5 713.6,504.5 715,504.5 717,503.5 718,503.5 721,503.5 724,503.5 727,503.5 730,503.5 733,503.5 736,503.5 739,503.5 740,503.5 742,503.5 745,503.5 748,503.5 751,504.5 754,504.5 757,504.5 760,504.5 763,504.5 766,504.5 769,504.5 772,504.5 774,504.5 775,504.5 777,504.5 777.4,507.5 778,513.5 779,523.5 781,530.5 782.5,535.5 784,535.5 787,535.5 790,535.5 793,535.5 796,535.5 799,535.5 802,535.5 805,535.5 808,535.5 811,536.5 812,536.5 812.7,536.5 814,535.5 817,534.5 817.7,533.5 820,533.5 822.8,533.5 823,533.5 826,533.5 829,533.5 829.5,533.5" fill="none" stroke="#b000ff" stroke-width="1"/>
<polyline points="691,507.5 694,507.5 697,507.5 700,507.5 703,506.5 706,506.5 709,506.5 712,506.5 713,506.5 713.6,506.5 715,505.5 717,505.5 718,505.5 721,505.5 724,504.5 727,504.5 730,504.5 733,504.5 736,504.5 739,504.5 740,504.5 742,504.5 745,504.5 748,504.5 751,504.5 754,504.5 757,504.5 760,504.5 763,504.5 766,504.5 769,505.5 772,505.5 774,505.5 775,505.5 777,505.5 777.4,508.5 778,514.5 779,524.5 781,531.5 782.5,536.5 784,536.5 787,536.5 790,536.5 793,536.5 796,536.5 799,536.5 802,536.5 805,536.5 808,536.5 811,536.5 812,536.5 812.7,536.5 814,536.5 817,534.5 817.7,534.5 820,534.5 822.8,533.5 823,533.5 826,533.5 829,534.5 829.5,534.5" fill="none" stroke="#0000ff" stroke-width="1"/>
<polyline points="691,508.5 694,508.5 697,508.5 700,507.5 703,507.5 706,507.5 709,507.5 712,506.5 713,506.5 713.6,506.5 715,506.5 717,506.5 718,506.5 721,505.5 724,505.5 727,505.5 730,505.5 733,505.5 736,505.5 739,505.5 740,505.5 742,505.5 745,505.5 748,505.5 751,505.5 754,505.5 757,505.5 760,505.5 763,505.5 766,505.5 769,505.5 772,505.5 774,505.5 775,506.5 777,506.5 777.4,508.5 778,514.5 779,524.5 781,531.5 782.5,536.5 784,536.5 787,536.5 790,537.5 793,537.5 796,537.5 799,537.5 802,537.5 805,537.5 808,537.5 811,537.5 812,537.5 812.7,537.5 814,536.5 817,535.5 817.7,535.5 820,535.5 822.8,534.5 823,534.5 826,534.5 829,534.5 829.5,534.5" fill="none" stroke="#0080ff" stroke-width="1"/>
<polyline points="691,508.5 694,508.5 697,508.5 700,508.5 703,508.5 706,508.5 709,508.5 712,508.5 713,508.5 713.6,507.5 715,507.5 717,507.5 718,507.5 721,507.5 724,507.5 727,506.5 730,506.5 733,506.5 736,506.5 739,506.5 740,506.5 742,506.5 745,506.5 748,506.5 751,506.5 754,506.5 757,506.5 760,506.5 763,506.5 766,506.5 769,506.5 772,506.5 774,506.5 775,506.5 777,506.5 777.4,509.5 778,515.5 779,524.5 781,531.5 782.5,536.5 784,536.5 787,537.5 790,537.5 793,537.5 796,537.5 799,537.5 802,537.5 805,538.5 808,538.5 811,538.5 812,538.5 812.7,538.5 814,537.5 817,536.5 817.7,536.5 820,536.5 822.8,535.5 823,535.5 826,535.5 829,535.5 829.5,535.5" fill="none" stroke="#ffff00" stroke-width="1"/>
<polyline points="691,509.5 694,509.5 697,509.5 700,509.5 703,508.5 706,508.5 709,508.5 712,507.5 713,507.5 713.6,507.5 715,507.5 717,507.5 718,507.5 721,507.5 724,507.5 727,507.5 730,507.5 733,507.5 736,507.5 739,507.5 740,507.5 742,507.5 745,507.5 748,507.5 751,507.5 754,507.5 757,507.5 760,507.5 763,507.5 766,507.5 769,507.5 772,506.5 774,506.5 775,507.5 777,507.5 777.4,509.5 778,515.5 779,524.5 781,531.5 782.5,536.5 784,536.5 787,537.5 790,537.5 793,537.5 796,537.5 799,538.5 802,538.5 805,538.5 808,538.5 811,538.5 812,538.5 812.7,538.5 814,538.5 817,537.5 817.7,537.5 820,537.5 822.8,536.5 823,536.5 826,536.5 829,536.5 829.5,536.5" fill="none" stroke="#ff00ff" stroke-width="1"/>
<polyline points="691,509.5 694,509.5 697,509.5 700,509.5 703,509.5 706,509.5 709,508.5 712,508.5 713,508.5 713.6,508.5 715,508.5 717,508.5 718,508.5 721,508.5 724,508.5 727,508.5 730,508.5 733,508.5 736,508.5 739,508.5 740,508.5 742,508.5 745,508.5 748,508.5 751,508.5 754,508.5 757,508.5 760,508.5 763,508.5 766,508.5 769,508.5 772,508.5 774,508.5 775,508.5 777,508.5 777.4,511.5 778,516.5 779,525.5 781,532.5 782.5,537.5 784,537.5 787,537.5 790,537.5 793,537.5 796,537.5 799,537.5 802,537.5 805,538.5 808,538.5 811,538.5 812,538.5 812.7,538.5 814,538.5 817,537.5 817.7,537.5 820,537.5 822.8,537.5 823,537.5 826,537.5 829,537.5 829.5,537.5" fill="none" stroke="#ff0000" stroke-width="1"/>
<polyline points="691,510.5 694,510.5 697,510.5 700,510.5 703,510.5 706,510.5 709,510.5 712,510.5 713,510.5 713.6,510.5 715,510.5 717,510.5 718,509.5 721,509.5 724,509.5 727,509.5 730,509.5 733,509.5 736,508.5 739,508.5 740,508.5 742,508.5 745,508.5 748,508.5 751,509.5 754,509.5 757,509.5 760,509.5 763,509.5 766,509.5 769,509.5 772,509.5 774,509.5 775,509.5 777,509.5 777.4,512.5 778,517.5 779,526.5 781,532.5 782.5,538.5 784,538.5 787,537.5 790,538.5 793,538.5 796,538.5 799,538.5 802,538.5 805,538.5 808,538.5 811,539.5 812,539.5 812.7,539.5 814,539.5 817,538.5 817.7,538.5 820,538.5 822.8,538.5 823,538.5 826,538.5 829,538.5 829.5,538.5" fill="none" stroke="#0000ff" stroke-width="1"/>
<polyline points="691,512.5 694,512.5 697,512.5 700,511.5 703,511.5 706,511.5 709,511.5 712,511.5 713,511.5 713.6,511.5 715,511.5 717,510.5 718,510.5 721,510.5 724,510.5 727,510.5 730,510.5 733,510.5 736,510.5 739,509.5 740,509.5 742,509.5 745,509.5 748,509.5 751,509.5 754,509.5 757,509.5 760,509.5 763,509.5 766,509.5 769,509.5 772,509.5 774,509.5 775,509.5 777,510.5 777.4,513.5 778,518.5 779,526.5 781,533.5 782.5,538.5 784,538.5 787,538.5 790,538.5 793,539.5 796,539.5 799,539.5 802,539.5 805,539.5 808,540.5 811,540.5 812,540.5 812.7,540.5 814,540.5 817,539.5 817.7,539.5 820,539.5 822.8,539.5 823,539.5 826,539.5 829,539.5 829.5,539.5" fill="none" stroke="#ffa500" stroke-width="1"/>
<polyline points="691,513.5 694,512.5 697,512.5 700,512.5 703,511.5 706,511.5 709,511.5 712,511.5 713,511.5 713.6,511.5 715,511.5 717,511.5 718,511.5 721,511.5 724,511.5 727,511.5 730,511.5 733,511.5 736,511.5 739,511.5 740,511.5 742,511.5 745,511.5 748,511.5 751,511.5 754,511.5 757,510.5 760,510.5 763,510.5 766,510.5 769,510.5 772,510.5 774,510.5 775,510.5 777,510.5 777.4,513.5 778,518.5 779,526.5 781,533.5 782.5,538.5 784,539.5 787,539.5 790,539.5 793,539.5 796,539.5 799,539.5 802,540.5 805,539.5 808,539.5 811,539.5 812,539.5 812.7,539.5 814,539.5 817,539.5 817.7,539.5 820,539.5 822.8,539.5 823,539.5 826,539.5 829,539.5 829.5,539.5" fill="none" stroke="#ff00ff" stroke-width="1"/>
<polyline points="691,515.5 700,515.5 713.6,512.5 740,512.5 774,512.5 778,514.5" fill="none" stroke="#ff0000" stroke-width="1"/>
<polyline points="691,518.5 710,517.5 733.7,513.5 740.5,518.5 778,518.5" fill="none" stroke="#ffa500" stroke-width="1"/>
<polyline points="691,521.5 715,519.5 735,516.5 742,520.5 778,520.5" fill="none" stroke="#c0ff00" stroke-width="1"/>
<polyline points="691,523.5 720,522.5 740,521.5 746,524.5 778,524.5" fill="none" stroke="#969696" stroke-width="1"/>
<polyline points="691,528.5 700,528.5 720,525.5 733.7,522.5 740.5,526.5 760,527.5 778,527.5" fill="none" stroke="#ff0000" stroke-width="1"/>
<polyline points="691,491.5 713.6,489.5 717,486.5 774,485.5 777.4,488.5" fill="none" stroke="#ff0000" stroke-width="1"/>
<polyline points="777.4,488.5 779,515.5 782.5,526.5 790,527.5 800,526.5 812.7,527.5 817.7,520.5 822.8,518.5 829.5,518.5" fill="none" stroke="#000" stroke-width="1"/>
<polyline points="790,527.5 797,525.5 803,527.5" fill="none" stroke="#ff0000" stroke-width="1"/>
<polyline points="814,526.5 818,519.5 823,516.5 829.5,517.5" fill="none" stroke="#ff0000" stroke-width="1"/>
<polyline points="782.5,540.5 790,541.5 812,541.5 829.5,540.5" fill="none" stroke="#c0ff00" stroke-width="1"/>
<rect x="857" y="507" width="3" height="1" fill="#000"/>
<rect x="857" y="513" width="3" height="1" fill="#000"/>
<polyline points="857,527.5 860,527.5" fill="none" stroke="#ff00ff" stroke-width="1"/>
<polyline points="857,528.5 860,528.5" fill="none" stroke="#ff0000" stroke-width="1"/>
<polyline points="857,529.5 860,529.5" fill="none" stroke="#0000ff" stroke-width="1"/>
<polyline points="857,530.5 860,530.5" fill="none" stroke="#ffa500" stroke-width="1"/>
<polyline points="857,531.5 860,531.5" fill="none" stroke="#ff00ff" stroke-width="1"/>
<polyline points="857,532.5 860,532.5" fill="none" stroke="#969696" stroke-width="1"/>
<polyline points="857,533.5 860,533.5" fill="none" stroke="#a07060" stroke-width="1"/>
<polyline points="857,534.5 860,534.5" fill="none" stroke="#ffa500" stroke-width="1"/>
<polyline points="857,535.5 860,535.5" fill="none" stroke="#00ff00" stroke-width="1"/>
<polyline points="857,536.5 860,536.5" fill="none" stroke="#ff0000" stroke-width="1"/>
<polyline points="857,537.5 860,537.5" fill="none" stroke="#b000ff" stroke-width="1"/>
<polyline points="857,538.5 860,538.5" fill="none" stroke="#ff00ff" stroke-width="1"/>
<polyline points="857,539.5 860,539.5" fill="none" stroke="#000000" stroke-width="1"/>
<polyline points="857,540.5 860,540.5" fill="none" stroke="#00ff00" stroke-width="1"/>
<polyline points="857,541.5 860,541.5" fill="none" stroke="#c0ff00" stroke-width="1"/>
<polyline points="857,542.5 860,542.5" fill="none" stroke="#00ffff" stroke-width="1"/>
<polyline points="867,529.5 870,529.5 873,529.5 876,529.5 879,528.5 881.5,528.5 882,528.5 885,528.5 886.6,528.5 888,527.5 891,525.5 891.6,524.5 894,523.5 897,523.5 898,523.5 900,523.5 903,524.5 904,524.5 906,526.5 908.4,528.5 909,528.5 912,528.5 915,528.5 918,528.5 921,528.5 923,527.5 924,527.5 927,526.5 930,526.5 933,526.5 935,526.5 936,525.5 938.6,525.5 939,525.5 940,525.5" fill="none" stroke="#ff00ff" stroke-width="1"/>
<polyline points="867,529.5 870,529.5 873,529.5 876,529.5 879,529.5 881.5,529.5 882,529.5 885,529.5 886.6,529.5 888,529.5 891,527.5 891.6,526.5 894,526.5 897,525.5 898,525.5 900,525.5 903,526.5 904,526.5 906,527.5 908.4,529.5 909,529.5 912,529.5 915,529.5 918,528.5 921,528.5 923,527.5 924,527.5 927,527.5 930,527.5 933,527.5 935,527.5 936,526.5 938.6,526.5 939,526.5 940,526.5" fill="none" stroke="#ff0000" stroke-width="1"/>
<polyline points="867,531.5 870,531.5 873,531.5 876,531.5 879,531.5 881.5,530.5 882,530.5 885,530.5 886.6,530.5 888,529.5 891,527.5 891.6,526.5 894,526.5 897,525.5 898,525.5 900,525.5 903,526.5 904,526.5 906,528.5 908.4,530.5 909,530.5 912,530.5 915,530.5 918,530.5 921,530.5 923,529.5 924,529.5 927,529.5 930,528.5 933,528.5 935,528.5 936,527.5 938.6,526.5 939,526.5 940,526.5" fill="none" stroke="#0000ff" stroke-width="1"/>
<polyline points="867,531.5 870,531.5 873,531.5 876,531.5 879,531.5 881.5,531.5 882,531.5 885,531.5 886.6,531.5 888,531.5 891,529.5 891.6,528.5 894,528.5 897,528.5 898,527.5 900,528.5 903,528.5 904,528.5 906,530.5 908.4,531.5 909,531.5 912,531.5 915,531.5 918,531.5 921,531.5 923,530.5 924,530.5 927,530.5 930,529.5 933,529.5 935,529.5 936,529.5 938.6,527.5 939,527.5 940,527.5" fill="none" stroke="#ffa500" stroke-width="1"/>
<polyline points="867,533.5 870,533.5 873,532.5 876,532.5 879,532.5 881.5,531.5 882,531.5 885,531.5 886.6,531.5 888,531.5 891,529.5 891.6,529.5 894,529.5 897,528.5 898,528.5 900,529.5 903,529.5 904,529.5 906,531.5 908.4,532.5 909,532.5 912,532.5 915,532.5 918,531.5 921,531.5 923,530.5 924,530.5 927,530.5 930,530.5 933,530.5 935,530.5 936,529.5 938.6,528.5 939,528.5 940,528.5" fill="none" stroke="#ff00ff" stroke-width="1"/>
<polyline points="867,534.5 870,534.5 873,534.5 876,534.5 879,534.5 881.5,533.5 882,533.5 885,533.5 886.6,533.5 888,533.5 891,531.5 891.6,531.5 894,530.5 897,530.5 898,530.5 900,530.5 903,530.5 904,530.5 906,531.5 908.4,532.5 909,532.5 912,532.5 915,532.5 918,532.5 921,532.5 923,531.5 924,531.5 927,531.5 930,531.5 933,531.5 935,530.5 936,530.5 938.6,528.5 939,528.5 940,528.5" fill="none" stroke="#969696" stroke-width="1"/>
<polyline points="867,535.5 870,535.5 873,535.5 876,535.5 879,534.5 881.5,534.5 882,534.5 885,534.5 886.6,533.5 888,533.5 891,532.5 891.6,531.5 894,531.5 897,530.5 898,530.5 900,530.5 903,531.5 904,531.5 906,531.5 908.4,532.5 909,532.5 912,533.5 915,533.5 918,533.5 921,533.5 923,532.5 924,532.5 927,532.5 930,532.5 933,533.5 935,533.5 936,532.5 938.6,530.5 939,530.5 940,529.5" fill="none" stroke="#a07060" stroke-width="1"/>
<polyline points="867,536.5 870,535.5 873,535.5 876,535.5 879,535.5 881.5,534.5 882,534.5 885,534.5 886.6,533.5 888,533.5 891,532.5 891.6,532.5 894,532.5 897,532.5 898,532.5 900,532.5 903,532.5 904,532.5 906,533.5 908.4,534.5 909,534.5 912,534.5 915,535.5 918,534.5 921,534.5 923,534.5 924,534.5 927,533.5 930,533.5 933,533.5 935,533.5 936,532.5 938.6,530.5 939,529.5 940,529.5" fill="none" stroke="#ffa500" stroke-width="1"/>
<polyline points="867,536.5 870,536.5 873,536.5 876,536.5 879,536.5 881.5,536.5 882,536.5 885,535.5 886.6,535.5 888,535.5 891,534.5 891.6,534.5 894,534.5 897,534.5 898,534.5 900,534.5 903,534.5 904,534.5 906,535.5 908.4,535.5 909,535.5 912,535.5 915,535.5 918,535.5 921,535.5 923,534.5 924,534.5 927,534.5 930,534.5 933,534.5 935,534.5 936,533.5 938.6,530.5 939,530.5 940,529.5" fill="none" stroke="#00ff00" stroke-width="1"/>
<polyline points="867,537.5 870,536.5 873,536.5 876,536.5 879,536.5 881.5,536.5 882,536.5 885,536.5 886.6,535.5 888,536.5 891,535.5 891.6,535.5 894,535.5 897,535.5 898,535.5 900,535.5 903,535.5 904,535.5 906,536.5 908.4,536.5 909,536.5 912,536.5 915,536.5 918,536.5 921,536.5 923,536.5 924,536.5 927,535.5 930,535.5 933,535.5 935,535.5 936,534.5 938.6,531.5 939,531.5 940,530.5" fill="none" stroke="#ff0000" stroke-width="1"/>
<polyline points="867,538.5 870,538.5 873,538.5 876,538.5 879,538.5 881.5,538.5 882,538.5 885,537.5 886.6,537.5 888,537.5 891,536.5 891.6,536.5 894,536.5 897,535.5 898,535.5 900,535.5 903,535.5 904,535.5 906,536.5 908.4,536.5 909,536.5 912,536.5 915,537.5 918,537.5 921,537.5 923,537.5 924,537.5 927,537.5 930,537.5 933,536.5 935,536.5 936,535.5 938.6,532.5 939,532.5 940,531.5" fill="none" stroke="#b000ff" stroke-width="1"/>
<polyline points="867,540.5 870,540.5 873,539.5 876,539.5 879,539.5 881.5,539.5 882,539.5 885,538.5 886.6,537.5 888,537.5 891,537.5 891.6,537.5 894,537.5 897,537.5 898,537.5 900,537.5 903,537.5 904,537.5 906,537.5 908.4,537.5 909,537.5 912,537.5 915,537.5 918,537.5 921,537.5 923,537.5 924,537.5 927,537.5 930,537.5 933,537.5 935,537.5 936,536.5 938.6,533.5 939,532.5 940,531.5" fill="none" stroke="#ff00ff" stroke-width="1"/>
<polyline points="867,540.5 870,539.5 873,539.5 876,539.5 879,539.5 881.5,539.5 882,539.5 885,538.5 886.6,538.5 888,538.5 891,538.5 891.6,538.5 894,538.5 897,538.5 898,539.5 900,539.5 903,539.5 904,539.5 906,539.5 908.4,539.5 909,539.5 912,539.5 915,539.5 918,539.5 921,539.5 923,538.5 924,538.5 927,538.5 930,538.5 933,538.5 935,538.5 936,536.5 938.6,533.5 939,532.5 940,531.5" fill="none" stroke="#000000" stroke-width="1"/>
<polyline points="888,528.5 891,522.5 891.6,521.5 894,520.5 897,519.5 898,518.5 898.3,518.5 900,519.5 903,520.5 903.4,520.5 904,521.5 906,523.5 908.4,527.5" fill="none" stroke="#00ffff" stroke-width="1"/>
<polyline points="888,528.5 891,523.5 891.6,522.5 894,521.5 897,520.5 898,519.5 898.3,519.5 900,520.5 903,521.5 903.4,521.5 904,521.5 906,524.5 908.4,527.5" fill="none" stroke="#a07060" stroke-width="1"/>
<polyline points="888,528.5 891,524.5 891.6,523.5 894,522.5 897,521.5 898,520.5 898.3,520.5 900,521.5 903,522.5 903.4,522.5 904,522.5 906,524.5 908.4,527.5" fill="none" stroke="#b000ff" stroke-width="1"/>
<polyline points="888,528.5 891,524.5 891.6,524.5 894,523.5 897,522.5 898,522.5 898.3,522.5 900,522.5 903,523.5 903.4,523.5 904,523.5 906,525.5 908.4,527.5" fill="none" stroke="#0000ff" stroke-width="1"/>
<polyline points="921.9,523.5 940,523.5" fill="none" stroke="#ff00ff" stroke-width="1"/>
<polyline points="921,525.5 932,524.5 940,525.5" fill="none" stroke="#ff0000" stroke-width="1"/>
<polyline points="940,524.5 942.7,517.5 943,517.5 946,517.5 949,517.5 952,517.5 955,517.5 958,517.5 960,518.5 961,518.5 964,518.5 967,519.5 970,519.5 973,519.5 976,520.5 979,520.5 982,520.5 982.3,520.5 985,520.5 988,519.5 991,519.5 992.4,518.5 994,518.5 995.8,518.5 997,517.5 997.4,517.5 1000,516.5 1003,515.5 1003.5,515.5" fill="none" stroke="#b000ff" stroke-width="1"/>
<polyline points="940,526.5 942.7,519.5 943,519.5 946,519.5 949,519.5 952,519.5 955,519.5 958,519.5 960,519.5 961,519.5 964,520.5 967,520.5 970,520.5 973,520.5 976,520.5 979,521.5 982,521.5 982.3,521.5 985,520.5 988,519.5 991,519.5 992.4,519.5 994,518.5 995.8,518.5 997,517.5 997.4,517.5 1000,516.5 1003,515.5 1003.5,515.5" fill="none" stroke="#ff00ff" stroke-width="1"/>
<polyline points="940,526.5 942.7,520.5 943,520.5 946,520.5 949,520.5 952,519.5 955,519.5 958,519.5 960,519.5 961,519.5 964,520.5 967,520.5 970,520.5 973,520.5 976,521.5 979,521.5 982,522.5 982.3,522.5 985,521.5 988,521.5 991,521.5 992.4,521.5 994,520.5 995.8,520.5 997,519.5 997.4,519.5 1000,518.5 1003,517.5 1003.5,517.5" fill="none" stroke="#000000" stroke-width="1"/>
<polyline points="940,526.5 942.7,520.5 943,520.5 946,520.5 949,520.5 952,520.5 955,520.5 958,520.5 960,521.5 961,521.5 964,521.5 967,522.5 970,522.5 973,522.5 976,522.5 979,523.5 982,523.5 982.3,523.5 985,523.5 988,522.5 991,522.5 992.4,522.5 994,521.5 995.8,520.5 997,520.5 997.4,520.5 1000,519.5 1003,518.5 1003.5,518.5" fill="none" stroke="#00ff00" stroke-width="1"/>
<polyline points="940,527.5 942.7,521.5 943,521.5 946,521.5 949,521.5 952,521.5 955,521.5 958,522.5 960,522.5 961,522.5 964,522.5 967,523.5 970,523.5 973,523.5 976,523.5 979,524.5 982,524.5 982.3,524.5 985,523.5 988,523.5 991,522.5 992.4,522.5 994,521.5 995.8,521.5 997,520.5 997.4,520.5 1000,519.5 1003,519.5 1003.5,519.5" fill="none" stroke="#c0ff00" stroke-width="1"/>
<polyline points="940,527.5 942.7,522.5 943,522.5 946,522.5 949,522.5 952,523.5 955,523.5 958,523.5 960,523.5 961,524.5 964,524.5 967,524.5 970,524.5 973,524.5 976,524.5 979,524.5 982,524.5 982.3,524.5 985,523.5 988,523.5 991,523.5 992.4,523.5 994,522.5 995.8,522.5 997,521.5 997.4,521.5 1000,521.5 1003,520.5 1003.5,520.5" fill="none" stroke="#00ffff" stroke-width="1"/>
<polyline points="940,528.5 942.7,524.5 943,524.5 946,523.5 949,523.5 952,523.5 955,523.5 958,523.5 960,523.5 961,524.5 964,524.5 967,524.5 970,524.5 973,524.5 976,525.5 979,525.5 982,525.5 982.3,525.5 985,525.5 988,525.5 991,525.5 992.4,525.5 994,524.5 995.8,524.5 997,523.5 997.4,523.5 1000,522.5 1003,522.5 1003.5,522.5" fill="none" stroke="#00ffff" stroke-width="1"/>
<polyline points="940,528.5 942.7,524.5 943,524.5 946,524.5 949,525.5 952,525.5 955,525.5 958,525.5 960,526.5 961,526.5 964,526.5 967,526.5 970,526.5 973,526.5 976,526.5 979,526.5 982,526.5 982.3,526.5 985,525.5 988,525.5 991,525.5 992.4,525.5 994,524.5 995.8,524.5 997,523.5 997.4,523.5 1000,523.5 1003,522.5 1003.5,522.5" fill="none" stroke="#a07060" stroke-width="1"/>
<polyline points="940,529.5 942.7,526.5 943,526.5 946,526.5 949,526.5 952,526.5 955,526.5 958,526.5 960,526.5 961,526.5 964,526.5 967,526.5 970,526.5 973,526.5 976,526.5 979,526.5 982,526.5 982.3,526.5 985,527.5 988,527.5 991,527.5 992.4,527.5 994,526.5 995.8,526.5 997,525.5 997.4,525.5 1000,525.5 1003,524.5 1003.5,524.5" fill="none" stroke="#b000ff" stroke-width="1"/>
<polyline points="940,529.5 942.7,527.5 943,527.5 946,527.5 949,527.5 952,528.5 955,528.5 958,528.5 960,528.5 961,528.5 964,528.5 967,527.5 970,527.5 973,527.5 976,527.5 979,527.5 982,527.5 982.3,527.5 985,527.5 988,527.5 991,527.5 992.4,528.5 994,527.5 995.8,526.5 997,526.5 997.4,526.5 1000,526.5 1003,525.5 1003.5,525.5" fill="none" stroke="#0000ff" stroke-width="1"/>
<polyline points="940,530.5 942.7,528.5 943,528.5 946,528.5 949,528.5 952,528.5 955,528.5 958,528.5 960,528.5 961,528.5 964,528.5 967,528.5 970,528.5 973,528.5 976,528.5 979,528.5 982,528.5 982.3,528.5 985,529.5 988,529.5 991,529.5 992.4,529.5 994,529.5 995.8,528.5 997,527.5 997.4,527.5 1000,527.5 1003,527.5 1003.5,527.5" fill="none" stroke="#0080ff" stroke-width="1"/>
<polyline points="940,530.5 942.7,529.5 943,529.5 946,529.5 949,529.5 952,529.5 955,529.5 958,529.5 960,529.5 961,529.5 964,529.5 967,529.5 970,529.5 973,529.5 976,529.5 979,529.5 982,529.5 982.3,529.5 985,529.5 988,529.5 991,530.5 992.4,530.5 994,529.5 995.8,529.5 997,528.5 997.4,528.5 1000,528.5 1003,528.5 1003.5,528.5" fill="none" stroke="#ffff00" stroke-width="1"/>
<polyline points="940,531.5 942.7,531.5 943,531.5 946,531.5 949,531.5 952,531.5 955,531.5 958,531.5 960,531.5 961,531.5 964,531.5 967,530.5 970,530.5 973,530.5 976,530.5 979,529.5 982,529.5 982.3,529.5 985,529.5 988,530.5 991,530.5 992.4,530.5 994,530.5 995.8,529.5 997,528.5 997.4,528.5 1000,528.5 1003,528.5 1003.5,528.5" fill="none" stroke="#ff00ff" stroke-width="1"/>
<polyline points="940,532.5 942.7,532.5 943,532.5 946,532.5 949,532.5 952,532.5 955,532.5 958,532.5 960,532.5 961,531.5 964,531.5 967,531.5 970,531.5 973,530.5 976,530.5 979,530.5 982,530.5 982.3,530.5 985,530.5 988,531.5 991,532.5 992.4,532.5 994,531.5 995.8,530.5 997,530.5 997.4,530.5 1000,530.5 1003,530.5 1003.5,530.5" fill="none" stroke="#ff0000" stroke-width="1"/>
<polyline points="942.7,510.5 945.7,510.5 948.7,510.5 951.7,511.5 953.8,511.5 954.7,512.5 957.7,515.5 958,516.5 958.8,517.5" fill="none" stroke="#a07060" stroke-width="1"/>
<polyline points="942.7,512.5 945.7,512.5 948.7,512.5 951.7,513.5 953.8,513.5 954.7,513.5 957.7,516.5 958,516.5 958.8,517.5" fill="none" stroke="#b000ff" stroke-width="1"/>
<polyline points="942.7,514.5 945.7,514.5 948.7,514.5 951.7,514.5 953.8,515.5 954.7,515.5 957.7,517.5 958,517.5 958.8,517.5" fill="none" stroke="#0000ff" stroke-width="1"/>
<polyline points="942.7,515.5 945.7,516.5 948.7,516.5 951.7,516.5 953.8,516.5 954.7,516.5 957.7,517.5 958,517.5 958.8,517.5" fill="none" stroke="#0080ff" stroke-width="1"/>
<polyline points="867,528.5 886.6,528.5 891.6,520.5 898.3,517.5 903.4,518.5 908.4,526.5 916.8,526.5 921.9,521.5 940.3,521.5 942.7,508.5 953.8,509.5 958.8,517.5 982.3,518.5 995.8,515.5 1003.5,513.5" fill="none" stroke="#000" stroke-width="1"/>
<polyline points="942.7,507.5 948,506.5 953.8,508.5" fill="none" stroke="#ff00ff" stroke-width="1"/>
<polyline points="943,522.5 947,517.5 950,515.5 954,516.5 957,518.5 960,521.5" fill="none" stroke="#ff0000" stroke-width="1"/>
<polyline points="975,518.5 982.3,517.5 990,516.5 995.8,514.5 1003.5,511.5" fill="none" stroke="#0080ff" stroke-width="1"/>
<polyline points="867,543.5 881.5,543.5 886.6,541.5 895,542.5 900,541.5 920,541.5 930,542.5 935,541.5 938.6,534.5 945,533.5 958,533.5 960,535.5 966,534.5 975,532.5" fill="none" stroke="#c0ff00" stroke-width="1"/>
<polyline points="985,533.5 992,534.5 997,532.5 1003.5,531.5" fill="none" stroke="#ffa500" stroke-width="1"/>
<rect x="43" y="507" width="6" height="1" fill="#000"/>
<rect x="43" y="513" width="6" height="1" fill="#000"/>
<rect x="63" y="507" width="3" height="1" fill="#000"/>
<rect x="63" y="513" width="3" height="1" fill="#000"/>
<rect x="69" y="507" width="6" height="1" fill="#000"/>
<rect x="69" y="513" width="6" height="1" fill="#000"/>
<rect x="69" y="528" width="6" height="1" fill="#000"/>
<rect x="94.8" y="507" width="68.2" height="1" fill="#000"/>
<rect x="94.8" y="513" width="68.2" height="1" fill="#000"/>
<rect x="94.8" y="528" width="68.2" height="1" fill="#000"/>
<rect x="176" y="507" width="19" height="1" fill="#000"/>
<rect x="176" y="513" width="19" height="1" fill="#000"/>
<rect x="176" y="528" width="19" height="1" fill="#000"/>
<rect x="198.4" y="507" width="231.6" height="1" fill="#000"/>
<rect x="198.4" y="513" width="231.6" height="1" fill="#000"/>
<rect x="198.4" y="528" width="231.6" height="1" fill="#000"/>
<rect x="619.4" y="507" width="50.6" height="1" fill="#000"/>
<rect x="619.4" y="513" width="50.6" height="1" fill="#000"/>
<rect x="619.4" y="528" width="50.6" height="1" fill="#000"/>
<rect x="691" y="507" width="138.5" height="1" fill="#000"/>
<rect x="691" y="513" width="138.5" height="1" fill="#000"/>
<rect x="691" y="528" width="138.5" height="1" fill="#000"/>
<rect x="867" y="507" width="136.5" height="1" fill="#000"/>
<rect x="867" y="513" width="136.5" height="1" fill="#000"/>
<rect x="867" y="528" width="136.5" height="1" fill="#000"/>
<rect x="43" y="608" width="6" height="1" fill="#000"/>
<rect x="43" y="610" width="6" height="1" fill="#000"/>
<rect x="43" y="612" width="6" height="3" fill="#ff0000"/>
<rect x="63" y="609" width="3" height="1" fill="#000"/>
<rect x="63" y="611" width="3" height="3" fill="#ff0000"/>
<rect x="69" y="609" width="5" height="2" fill="#000"/>
<rect x="69" y="615" width="5" height="1" fill="#ff0000"/>
<rect x="69" y="618" width="5" height="1" fill="#ff0000"/>
<rect x="83" y="608" width="7" height="1" fill="#000"/>
<polyline points="83,610.5 90,613.5" fill="none" stroke="#000" stroke-width="1"/>
<rect x="83" y="614" width="7" height="1" fill="#ff0000"/>
<rect x="83" y="617" width="7" height="1" fill="#ff0000"/>
<polyline points="94.8,608.5 116,608.5 120.8,606.5 131.6,607.5 135.5,610.5 147.2,610.5 152,607.5 163,607.5" fill="none" stroke="#000" stroke-width="1"/>
<polyline points="94.8,610.5 116,610.5 119.8,608.5 131,608.5 135,611.5 147.5,611.5 152.5,609.5 163,609.5" fill="none" stroke="#000" stroke-width="1"/>
<polyline points="94.8,615.5 118,615.5 121.8,613.5 125.7,615.5 147.2,615.5 153,609.5 158.9,611.5 163,609.5" fill="none" stroke="#ff0000" stroke-width="1"/>
<polyline points="94.8,617.5 146.2,617.5 155,611.5 158,615.5 163,616.5" fill="none" stroke="#ff0000" stroke-width="1"/>
<polyline points="94.8,616.5 118,616.5 121.8,614.5 125.7,616.5 147.2,616.5 153,610.5 158.9,612.5 163,610.5" fill="none" stroke="#ff0000" stroke-width="1"/>
<polyline points="177,588.5 185,588.5 187,590.5 194.5,600.5" fill="none" stroke="#000" stroke-width="1"/>
<polyline points="177,589.5 178,590.5 184,590.5 186,590.5 194.5,601.5" fill="none" stroke="#000" stroke-width="1"/>
<polyline points="186,591.5 194,599.5" fill="none" stroke="#000" stroke-width="1"/>
<polyline points="177,595.5 179.5,595.5 181,596.5 184,597.5 186.5,599.5 189,605.5 190,606.5 195,606.5" fill="none" stroke="#ff0000" stroke-width="1"/>
<polyline points="177,598.5 181,598.5 183,599.5 186,600.5 188.5,605.5 190,605.5" fill="none" stroke="#ff0000" stroke-width="1"/>
<polyline points="199.5,603.5 201,600.5 214.4,601.5 221.7,603.5 246,604.5 270.6,605.5 277.9,607.5 321.8,608.5 360.9,610.5 389,609.5 392.6,605.5 400,604.5 414.6,606.5 422,608.5 429,609.5" fill="none" stroke="#000" stroke-width="1"/>
<polyline points="199.5,601.5 201,599.5 214.4,599.5 221.7,601.5 246,603.5 270.6,604.5 277.9,605.5 321.8,607.5 360.9,608.5 389,608.5 392.6,603.5 400,603.5 414.6,605.5 422,607.5 429,608.5" fill="none" stroke="#000" stroke-width="1"/>
<polyline points="199,603.5 200.5,596.5 212,595.5 220.5,597.5 225.4,601.5 268,601.5 287.7,602.5 300,602.5 321.8,602.5 341.4,603.5 365.8,604.5 387.8,605.5 391.4,598.5 397.5,597.5 409.7,599.5 429,599.5" fill="none" stroke="#ff0000" stroke-width="1"/>
<polyline points="199,604.5 200.5,597.5 212,597.5 220.5,599.5 225.4,602.5 268,602.5 287.7,603.5 300,603.5 321.8,603.5 341.4,604.5 365.8,605.5 387.8,606.5 391.4,599.5 397.5,599.5 409.7,600.5 429,600.5" fill="none" stroke="#ff0000" stroke-width="1"/>
<rect x="521" y="583" width="3" height="1" fill="#000"/>
<rect x="521" y="590" width="3" height="1" fill="#000"/>
<rect x="521" y="599" width="3" height="1" fill="#ff0000"/>
<rect x="521" y="606" width="3" height="1" fill="#000"/>
<rect x="521" y="609" width="3" height="1" fill="#000"/>
<rect x="521" y="611" width="3" height="1" fill="#000"/>
<polyline points="619.2,608.5 669,609.5" fill="none" stroke="#000" stroke-width="1"/>
<polyline points="619.2,609.5 669,611.5" fill="none" stroke="#000" stroke-width="1"/>
<polyline points="619.2,593.5 621.6,604.5 641,608.5 669,610.5" fill="none" stroke="#ff0000" stroke-width="1"/>
<polyline points="619.2,594.5 621.6,605.5 641,609.5 669,611.5" fill="none" stroke="#ff0000" stroke-width="1"/>
<polyline points="690.5,611.5 721.7,608.5 755.3,608.5 768.7,608.5 797.3,606.5" fill="none" stroke="#000" stroke-width="1"/>
<polyline points="690.5,610.5 721.7,607.5 755.3,607.5 768.7,607.5 797.3,605.5" fill="none" stroke="#000" stroke-width="1"/>
<polyline points="690.5,611.5 721.7,608.5 755.3,609.5 768.7,608.5 797.3,607.5" fill="none" stroke="#ff0000" stroke-width="1"/>
<polyline points="690.5,612.5 721.7,609.5 755.3,610.5 768.7,609.5 797.3,607.5" fill="none" stroke="#ff0000" stroke-width="1"/>
<polyline points="797.3,606.5 798.5,600.5 802.6,569.5 822.9,569.5 828.8,574.5" fill="none" stroke="#000" stroke-width="1"/>
<polyline points="802.6,571.5 810,572.5 822.9,572.5 828.8,575.5" fill="none" stroke="#000" stroke-width="1"/>
<polyline points="797.3,608.5 799,600.5 801.4,580.5 822.9,580.5 828.8,584.5" fill="none" stroke="#ff0000" stroke-width="1"/>
<polyline points="801.4,583.5 812,584.5 822.9,582.5 828.8,586.5" fill="none" stroke="#ff0000" stroke-width="1"/>
<rect x="856" y="573" width="6" height="1" fill="#000"/>
<rect x="856" y="575" width="6" height="1" fill="#000"/>
<rect x="856" y="577" width="6" height="1" fill="#000"/>
<rect x="856" y="584" width="6" height="4" fill="#ff0000"/>
<rect x="856" y="590" width="6" height="1" fill="#000"/>
<rect x="856" y="606" width="6" height="1" fill="#000"/>
<polyline points="865.3,572.5 880,574.5 899,574.5 908.7,570.5 923,571.5 938.4,568.5 940.1,590.5 942,593.5 956.3,593.5 958.7,590.5 989.7,592.5 1004,593.5" fill="none" stroke="#000" stroke-width="1"/>
<polyline points="865.3,574.5 880,576.5 899,576.5 908.7,572.5 923,573.5 938.4,570.5 940.1,592.5 942,595.5 956.3,595.5 958.7,592.5 989.7,594.5 1004,595.5" fill="none" stroke="#000" stroke-width="1"/>
<polyline points="865.3,576.5 880,578.5 899,578.5 908.7,574.5 923,575.5 938.4,572.5 940.1,594.5 942,597.5 956.3,597.5 958.7,594.5 989.7,596.5 1004,597.5" fill="none" stroke="#000" stroke-width="1"/>
<polyline points="865.3,585.5 882.5,587.5 899,587.5 923,584.5 938.4,580.5 940.8,597.5 943.2,602.5 951.6,602.5 957.5,596.5 970.6,598.5 984.9,599.5 1004,597.5" fill="none" stroke="#ff0000" stroke-width="1"/>
<polyline points="865.3,587.5 882.5,589.5 899,588.5 923,585.5 938.4,581.5 940.8,599.5 943.2,604.5 951.6,603.5 957.5,598.5 970.6,600.5 984.9,600.5 1004,599.5" fill="none" stroke="#ff0000" stroke-width="1"/>
<rect x="43" y="583" width="6" height="1" fill="#000"/>
<rect x="43" y="590" width="6" height="1" fill="#000"/>
<rect x="43" y="606" width="6" height="1" fill="#000"/>
<rect x="63" y="583" width="3" height="1" fill="#000"/>
<rect x="63" y="590" width="3" height="1" fill="#000"/>
<rect x="63" y="606" width="3" height="1" fill="#000"/>
<rect x="69" y="583" width="5" height="1" fill="#000"/>
<rect x="69" y="590" width="5" height="1" fill="#000"/>
<rect x="69" y="606" width="5" height="1" fill="#000"/>
<rect x="83" y="583" width="7" height="1" fill="#000"/>
<rect x="83" y="590" width="7" height="1" fill="#000"/>
<rect x="83" y="606" width="7" height="1" fill="#000"/>
<rect x="94.8" y="583" width="68.2" height="1" fill="#000"/>
<rect x="94.8" y="590" width="68.2" height="1" fill="#000"/>
<rect x="94.8" y="606" width="68.2" height="1" fill="#000"/>
<rect x="177" y="583" width="18" height="1" fill="#000"/>
<rect x="177" y="590" width="18" height="1" fill="#000"/>
<rect x="177" y="606" width="18" height="1" fill="#000"/>
<rect x="199" y="583" width="230" height="1" fill="#000"/>
<rect x="199" y="590" width="230" height="1" fill="#000"/>
<rect x="199" y="606" width="230" height="1" fill="#000"/>
<rect x="619" y="583" width="50" height="1" fill="#000"/>
<rect x="619" y="590" width="50" height="1" fill="#000"/>
<rect x="619" y="606" width="50" height="1" fill="#000"/>
<rect x="690.5" y="583" width="138.3" height="1" fill="#000"/>
<rect x="690.5" y="590" width="138.3" height="1" fill="#000"/>
<rect x="690.5" y="606" width="138.3" height="1" fill="#000"/>
<rect x="865.3" y="583" width="138.7" height="1" fill="#000"/>
<rect x="865.3" y="590" width="138.7" height="1" fill="#000"/>
<rect x="865.3" y="606" width="138.7" height="1" fill="#000"/>
<rect x="38" y="660" width="3" height="1" fill="#000"/>
<rect x="38" y="667" width="3" height="1" fill="#000"/>
<rect x="38" y="683" width="3" height="1" fill="#000"/>
<rect x="38" y="686" width="3" height="1" fill="#000"/>
<rect x="38" y="688" width="3" height="1" fill="#000"/>
<rect x="38" y="691" width="3" height="1" fill="#ff0000"/>
<rect x="38" y="694" width="3" height="1" fill="#ff0000"/>
<rect x="62" y="660" width="5" height="1" fill="#000"/>
<rect x="62" y="667" width="5" height="1" fill="#000"/>
<rect x="62" y="683" width="5" height="1" fill="#000"/>
<rect x="62" y="686" width="5" height="1" fill="#000"/>
<rect x="62" y="688" width="5" height="1" fill="#000"/>
<rect x="62" y="691" width="5" height="1" fill="#ff0000"/>
<rect x="62" y="694" width="5" height="1" fill="#ff0000"/>
<rect x="77" y="660" width="5" height="1" fill="#000"/>
<rect x="77" y="667" width="5" height="1" fill="#000"/>
<rect x="77" y="683" width="5" height="1" fill="#000"/>
<rect x="77" y="672" width="5" height="1" fill="#000"/>
<rect x="77" y="674" width="5" height="1" fill="#000"/>
<rect x="77" y="676" width="5" height="1" fill="#000"/>
<rect x="77" y="687" width="5" height="1" fill="#ff0000"/>
<rect x="77" y="689" width="5" height="1" fill="#ff0000"/>
<polyline points="88,667.5 90.5,664.5 123.75,663.5 135.5,662.5 143.3,658.5 149,654.5 155,653.5" fill="none" stroke="#000" stroke-width="1"/>
<polyline points="88,668.5 91,665.5 125,664.5 136,663.5 144,660.5 150,657.5 155,657.5" fill="none" stroke="#000" stroke-width="1"/>
<polyline points="88,668.5 92.5,665.5 131.6,665.5 139.4,661.5 155,659.5" fill="none" stroke="#000" stroke-width="1"/>
<polyline points="88,685.5 90.5,683.5 96.4,682.5 131.6,682.5 136.4,680.5 147.2,676.5 153,675.5 155,681.5 155.6,688.5" fill="none" stroke="#ff0000" stroke-width="1"/>
<polyline points="88,684.5 90.5,682.5 96.4,681.5 131.6,681.5 136.4,679.5 147.2,675.5 153,674.5 155,680.5 155.6,687.5" fill="none" stroke="#ff0000" stroke-width="1"/>
<rect x="170" y="660" width="19" height="1" fill="#000"/>
<rect x="170" y="683" width="19" height="1" fill="#000"/>
<polyline points="170,659.5 173.5,660.5 175.5,667.5 188.6,668.5" fill="none" stroke="#000" stroke-width="1"/>
<polyline points="170,661.5 173.5,662.5 175.5,669.5 188.6,670.5" fill="none" stroke="#000" stroke-width="1"/>
<polyline points="170,663.5 173.5,664.5 175.5,671.5 188.6,672.5" fill="none" stroke="#000" stroke-width="1"/>
<polyline points="170,664.5 173.5,665.5 175.5,671.5 180.4,674.5 188.6,674.5" fill="none" stroke="#ff0000" stroke-width="1"/>
<polyline points="170,665.5 173.5,666.5 175.5,672.5 180.4,675.5 188.6,676.5" fill="none" stroke="#ff0000" stroke-width="1"/>
<polyline points="170,663.5 173.5,664.5 175.5,670.5 180.4,673.5 188.6,673.5" fill="none" stroke="#ff0000" stroke-width="1"/>
<rect x="192" y="660" width="228" height="1" fill="#000"/>
<rect x="192" y="683" width="228" height="1" fill="#000"/>
<polyline points="192,674.5 193,666.5 200.9,667.5 201.9,671.5 222.4,671.5 224.3,667.5 255.6,667.5 307.6,668.5 381.4,668.5 420,670.5" fill="none" stroke="#ff0000" stroke-width="1"/>
<polyline points="192,675.5 193,667.5 200.9,668.5 201.9,672.5 222.4,672.5 224.3,668.5 255.6,668.5 307.6,669.5 381.4,669.5 420,671.5" fill="none" stroke="#ff0000" stroke-width="1"/>
<polyline points="192,669.5 193.5,664.5 195,662.5 197,661.5 199,662.5 200.9,664.5 201.9,668.5 219.5,668.5 223.4,665.5 225.3,661.5 300,662.5 380,664.5 420,664.5" fill="none" stroke="#000" stroke-width="1"/>
<polyline points="201.9,666.5 222,667.5 225.3,663.5 300,664.5 380,666.5 420,666.5" fill="none" stroke="#000" stroke-width="1"/>
<polyline points="225.3,665.5 300,666.5 380,667.5 420,668.5" fill="none" stroke="#000" stroke-width="1"/>
<rect x="456" y="660" width="3" height="1" fill="#000"/>
<rect x="456" y="667" width="3" height="1" fill="#000"/>
<rect x="456" y="669" width="3" height="1" fill="#000"/>
<rect x="456" y="674" width="3" height="1" fill="#ff0000"/>
<rect x="456" y="676" width="3" height="1" fill="#ff0000"/>
<rect x="456" y="683" width="3" height="1" fill="#000"/>
<polyline points="611,671.5 632.8,671.5 637.5,669.5 663.7,669.5" fill="none" stroke="#000" stroke-width="1"/>
<polyline points="637.5,671.5 663.7,671.5" fill="none" stroke="#000" stroke-width="1"/>
<polyline points="637.5,670.5 663.7,670.5" fill="none" stroke="#000" stroke-width="1"/>
<polyline points="611,676.5 625.8,675.5 635,676.5 642,678.5 654,678.5 663.7,677.5" fill="none" stroke="#ff0000" stroke-width="1"/>
<polyline points="611,677.5 625.8,676.5 635,677.5 642,679.5 654,679.5 663.7,678.5" fill="none" stroke="#ff0000" stroke-width="1"/>
<polyline points="685,668.5 700.8,668.5 717,666.5 740.6,665.5 764,663.5 775.8,663.5 778,684.5 811,685.5 815.6,679.5 819,675.5 823.8,675.5" fill="none" stroke="#000" stroke-width="1"/>
<polyline points="685,670.5 698.4,670.5 703,668.5 717,667.5 740.6,666.5 775.8,665.5 778,687.5 811,687.5 823.8,684.5" fill="none" stroke="#000" stroke-width="1"/>
<polyline points="717,667.5 775.8,664.5 778,686.5 811,686.5 818,684.5" fill="none" stroke="#000" stroke-width="1"/>
<polyline points="685,679.5 700.8,677.5 710,674.5 740.6,673.5 764,672.5 775.8,669.5 778.6,687.5 799,689.5 811,689.5 818,685.5 823.8,684.5" fill="none" stroke="#ff0000" stroke-width="1"/>
<polyline points="685,680.5 700.8,679.5 710,675.5 740.6,674.5 764,673.5 775.8,670.5 778.6,688.5 799,690.5 811,690.5 818,686.5 823.8,686.5" fill="none" stroke="#ff0000" stroke-width="1"/>
<rect x="852" y="660" width="2" height="1" fill="#000"/>
<rect x="852" y="667" width="2" height="1" fill="#000"/>
<rect x="852" y="683" width="2" height="3" fill="#000"/>
<rect x="852" y="689" width="2" height="4" fill="#ff0000"/>
<polyline points="862,682.5 886.8,683.5 892.5,680.5 898.2,678.5 903.9,679.5 905.2,683.5 905.4,685.5 966.4,685.5 991,684.5 996.7,680.5 1004,679.5" fill="none" stroke="#000" stroke-width="1"/>
<polyline points="862,684.5 886.8,684.5 892.5,681.5 898.2,679.5 903.9,680.5 905.2,685.5 905.4,686.5 966.4,686.5 991,685.5 996.7,681.5 1004,680.5" fill="none" stroke="#000" stroke-width="1"/>
<polyline points="886.8,685.5 892.5,682.5 903.9,681.5 905.2,685.5" fill="none" stroke="#000" stroke-width="1"/>
<polyline points="862,690.5 881,690.5 890.6,689.5 900,686.5 905.8,689.5 913.4,689.5 919,686.5 941.8,684.5 943.7,665.5 951.3,666.5 960.7,671.5 981.6,672.5 994.8,670.5 1004,671.5" fill="none" stroke="#ff0000" stroke-width="1"/>
<polyline points="862,691.5 881,691.5 890.6,690.5 900,688.5 905.8,690.5 913.4,690.5 919,688.5 941.8,686.5 943.7,666.5 951.3,668.5 960.7,672.5 981.6,673.5 994.8,671.5 1004,672.5" fill="none" stroke="#ff0000" stroke-width="1"/>
<rect x="88" y="660" width="67.6" height="1" fill="#000"/>
<rect x="88" y="667" width="67.6" height="1" fill="#000"/>
<rect x="88" y="683" width="67.6" height="1" fill="#000"/>
<rect x="611" y="660" width="52.7" height="1" fill="#000"/>
<rect x="611" y="667" width="52.7" height="1" fill="#000"/>
<rect x="611" y="683" width="52.7" height="1" fill="#000"/>
<rect x="685" y="660" width="138.8" height="1" fill="#000"/>
<rect x="685" y="667" width="138.8" height="1" fill="#000"/>
<rect x="685" y="683" width="138.8" height="1" fill="#000"/>
<rect x="862" y="660" width="142" height="1" fill="#000"/>
<rect x="862" y="667" width="142" height="1" fill="#000"/>
<rect x="862" y="683" width="142" height="1" fill="#000"/>
</svg></body></html>
